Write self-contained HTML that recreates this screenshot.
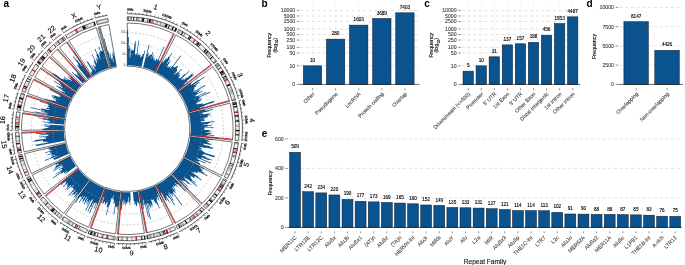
<!DOCTYPE html>
<html><head><meta charset="utf-8"><style>
html,body{margin:0;padding:0;background:#fff;}
svg{display:block;will-change:transform;}
text{font-family:"Liberation Sans",sans-serif;}
</style></head><body>
<svg width="685" height="265" viewBox="0 0 685 265">
<rect width="685" height="265" fill="#fff"/>
<g>
<path d="M127.30,65.30L127.30,29.65L128.13,29.65L128.07,36.96L128.84,36.97L128.64,48.84L129.31,48.85L129.38,45.76L130.08,45.78L129.69,57.33L130.29,57.35L130.67,48.34L131.34,48.37L131.23,50.64L131.88,50.67L131.92,49.93L132.58,49.98L132.57,50.14L133.23,50.19L133.22,50.28L133.88,50.33L134.45,43.50L135.17,43.57L135.40,41.00L136.14,41.07L134.83,54.08L135.45,54.15L135.42,54.47L136.04,54.54L136.18,53.32L136.81,53.40L138.44,40.45L139.18,40.55L137.26,54.81L137.88,54.89L137.91,54.68L138.53,54.77L138.78,53.13L139.41,53.23L139.15,54.87L139.77,54.97L139.80,54.76L140.42,54.87L140.01,57.21L140.61,57.32L140.89,55.81L141.50,55.93L141.32,56.82L141.92,56.93L142.53,53.97L143.15,54.10L143.18,53.95L143.81,54.09L144.63,50.36L145.29,50.51L141.54,66.82L142.06,66.94L142.06,66.94L142.58,67.06L142.58,67.06L143.09,67.19L148.82,44.86L149.52,45.05L147.24,53.65L147.87,53.82L148.23,52.49L148.87,52.67L147.74,56.64L148.34,56.81L148.76,55.38L149.38,55.56L149.51,55.12L150.13,55.31L150.41,54.41L151.03,54.60L151.02,54.62L151.64,54.82L152.55,52.06L153.19,52.27L151.38,57.64L151.97,57.84L153.12,54.55L153.74,54.77L153.22,56.20L153.83,56.42L153.12,58.36L153.71,58.58L153.49,59.16L154.07,59.38L154.48,58.32L155.07,58.55L154.43,60.17L155.00,60.40L154.84,60.80L155.41,61.03L156.38,58.70L156.96,58.94L156.88,59.12L157.47,59.37L157.20,59.98L157.78,60.24L163.97,46.29L164.66,46.60L158.70,59.72L159.28,59.99L158.86,60.88L159.43,61.15L159.96,60.02L160.53,60.30L159.23,62.99L159.78,63.26L155.50,71.90A63.5,63.5 0 0 0 127.30,65.30Z" fill="#0a538f"/>
<path d="M127.30,54.38A74.42051282051283,74.42051282051283 0 0 1 160.34,62.12" fill="none" stroke="#9a9a9a" stroke-width="0.5" stroke-dasharray="2,1.8"/>
<path d="M127.30,43.56A85.24102564102564,85.24102564102564 0 0 1 165.15,52.42" fill="none" stroke="#9a9a9a" stroke-width="0.5" stroke-dasharray="2,1.8"/>
<path d="M127.30,32.74A96.06153846153846,96.06153846153846 0 0 1 169.95,42.73" fill="none" stroke="#9a9a9a" stroke-width="0.5" stroke-dasharray="2,1.8"/>
<line x1="154.61" y1="72.47" x2="173.45" y2="33.60" stroke="#ee2a2e" stroke-width="1.0"/>
<path d="M127.30,23.00A105.8,105.8 0 0 1 174.28,34.00L155.10,72.71A62.6,62.6 0 0 0 127.30,66.20Z" fill="none" stroke="#1a1a1a" stroke-width="0.6"/>
<path d="M127.30,16.80A112.0,112.0 0 0 1 177.03,28.45L175.43,31.67A108.4,108.4 0 0 0 127.30,20.40Z" fill="#f4f4f4"/>
<path d="M127.30,16.80A112.0,112.0 0 0 1 127.90,16.80L127.88,20.40A108.4,108.4 0 0 0 127.30,20.40Z" fill="#b0b0b0"/>
<path d="M127.90,16.80A112.0,112.0 0 0 1 129.26,16.82L129.20,20.42A108.4,108.4 0 0 0 127.88,20.40Z" fill="#7f7f7f"/>
<path d="M129.26,16.82A112.0,112.0 0 0 1 130.48,16.85L130.37,20.44A108.4,108.4 0 0 0 129.20,20.42Z" fill="#d9d9d9"/>
<path d="M130.48,16.85A112.0,112.0 0 0 1 131.16,16.87L131.04,20.46A108.4,108.4 0 0 0 130.37,20.44Z" fill="#7f7f7f"/>
<path d="M131.16,16.87A112.0,112.0 0 0 1 131.99,16.90L131.84,20.49A108.4,108.4 0 0 0 131.04,20.46Z" fill="#7f7f7f"/>
<path d="M133.41,16.97A112.0,112.0 0 0 1 134.30,17.02L134.07,20.61A108.4,108.4 0 0 0 133.21,20.56Z" fill="#000000"/>
<path d="M136.12,17.15A112.0,112.0 0 0 1 137.48,17.26L137.15,20.85A108.4,108.4 0 0 0 135.84,20.74Z" fill="#7f7f7f"/>
<path d="M137.48,17.26A112.0,112.0 0 0 1 138.13,17.32L137.78,20.91A108.4,108.4 0 0 0 137.15,20.85Z" fill="#7f7f7f"/>
<path d="M138.13,17.32A112.0,112.0 0 0 1 139.55,17.47L139.16,21.05A108.4,108.4 0 0 0 137.78,20.91Z" fill="#b0b0b0"/>
<path d="M139.55,17.47A112.0,112.0 0 0 1 140.39,17.57L139.97,21.14A108.4,108.4 0 0 0 139.16,21.05Z" fill="#d9d9d9"/>
<path d="M141.02,17.64A112.0,112.0 0 0 1 142.43,17.83L141.95,21.39A108.4,108.4 0 0 0 140.58,21.22Z" fill="#b0b0b0"/>
<path d="M142.43,17.83A112.0,112.0 0 0 1 143.43,17.97L142.91,21.53A108.4,108.4 0 0 0 141.95,21.39Z" fill="#000000"/>
<path d="M143.43,17.97A112.0,112.0 0 0 1 144.34,18.10L143.79,21.66A108.4,108.4 0 0 0 142.91,21.53Z" fill="#000000"/>
<path d="M146.35,18.43A112.0,112.0 0 0 1 147.09,18.56L146.45,22.10A108.4,108.4 0 0 0 145.74,21.98Z" fill="#d9d9d9"/>
<path d="M147.09,18.56A112.0,112.0 0 0 1 147.83,18.70L147.17,22.24A108.4,108.4 0 0 0 146.45,22.10Z" fill="#d9d9d9"/>
<path d="M147.83,18.70A112.0,112.0 0 0 1 148.46,18.82L147.78,22.35A108.4,108.4 0 0 0 147.17,22.24Z" fill="#000000"/>
<path d="M148.46,18.82A112.0,112.0 0 0 1 149.29,18.98L148.58,22.51A108.4,108.4 0 0 0 147.78,22.35Z" fill="#d9d9d9"/>
<path d="M149.29,18.98A112.0,112.0 0 0 1 150.33,19.19L149.59,22.72A108.4,108.4 0 0 0 148.58,22.51Z" fill="#000000"/>
<path d="M150.33,19.19A112.0,112.0 0 0 1 151.22,19.38L150.45,22.90A108.4,108.4 0 0 0 149.59,22.72Z" fill="#000000"/>
<path d="M151.22,19.38A112.0,112.0 0 0 1 152.18,19.60L151.38,23.11A108.4,108.4 0 0 0 150.45,22.90Z" fill="#d9d9d9"/>
<path d="M154.06,20.04A112.0,112.0 0 0 1 154.57,20.17L153.69,23.66A108.4,108.4 0 0 0 153.20,23.54Z" fill="#7f7f7f"/>
<path d="M154.57,20.17A112.0,112.0 0 0 1 155.22,20.34L154.33,23.82A108.4,108.4 0 0 0 153.69,23.66Z" fill="#d9d9d9"/>
<path d="M155.22,20.34A112.0,112.0 0 0 1 156.38,20.64L155.44,24.12A108.4,108.4 0 0 0 154.33,23.82Z" fill="#d9d9d9"/>
<path d="M156.38,20.64A112.0,112.0 0 0 1 157.17,20.86L156.21,24.33A108.4,108.4 0 0 0 155.44,24.12Z" fill="#d9d9d9"/>
<path d="M157.17,20.86A112.0,112.0 0 0 1 158.17,21.14L157.17,24.60A108.4,108.4 0 0 0 156.21,24.33Z" fill="#7f7f7f"/>
<path d="M158.17,21.14A112.0,112.0 0 0 1 158.76,21.31L157.75,24.76A108.4,108.4 0 0 0 157.17,24.60Z" fill="#d9d9d9"/>
<path d="M159.48,21.52A112.0,112.0 0 0 1 160.66,21.88L159.59,25.32A108.4,108.4 0 0 0 158.44,24.97Z" fill="#d9d9d9"/>
<path d="M160.66,21.88A112.0,112.0 0 0 1 161.65,22.20L160.55,25.62A108.4,108.4 0 0 0 159.59,25.32Z" fill="#7f7f7f"/>
<path d="M161.65,22.20A112.0,112.0 0 0 1 162.95,22.62L161.80,26.04A108.4,108.4 0 0 0 160.55,25.62Z" fill="#d9d9d9"/>
<path d="M162.95,22.62A112.0,112.0 0 0 1 163.98,22.98L162.80,26.38A108.4,108.4 0 0 0 161.80,26.04Z" fill="#d9d9d9"/>
<path d="M163.98,22.98A112.0,112.0 0 0 1 164.92,23.31L163.71,26.70A108.4,108.4 0 0 0 162.80,26.38Z" fill="#b0b0b0"/>
<path d="M164.92,23.31A112.0,112.0 0 0 1 165.80,23.62L164.56,27.01A108.4,108.4 0 0 0 163.71,26.70Z" fill="#d9d9d9"/>
<path d="M165.80,23.62A112.0,112.0 0 0 1 166.70,23.96L165.44,27.33A108.4,108.4 0 0 0 164.56,27.01Z" fill="#000000"/>
<path d="M166.70,23.96A112.0,112.0 0 0 1 167.79,24.38L166.49,27.73A108.4,108.4 0 0 0 165.44,27.33Z" fill="#000000"/>
<path d="M169.09,24.89A112.0,112.0 0 0 1 170.05,25.28L168.68,28.61A108.4,108.4 0 0 0 167.75,28.23Z" fill="#000000"/>
<path d="M171.25,25.78A112.0,112.0 0 0 1 171.83,26.03L170.40,29.34A108.4,108.4 0 0 0 169.84,29.10Z" fill="#d9d9d9"/>
<path d="M172.37,26.27A112.0,112.0 0 0 1 172.90,26.50L171.44,29.79A108.4,108.4 0 0 0 170.92,29.56Z" fill="#b0b0b0"/>
<path d="M172.90,26.50A112.0,112.0 0 0 1 174.04,27.02L172.54,30.29A108.4,108.4 0 0 0 171.44,29.79Z" fill="#000000"/>
<path d="M174.04,27.02A112.0,112.0 0 0 1 174.64,27.30L173.12,30.56A108.4,108.4 0 0 0 172.54,30.29Z" fill="#b0b0b0"/>
<path d="M175.66,27.78A112.0,112.0 0 0 1 176.87,28.37L175.27,31.59A108.4,108.4 0 0 0 174.11,31.03Z" fill="#000000"/>
<path d="M176.87,28.37A112.0,112.0 0 0 1 177.03,28.45L175.43,31.67A108.4,108.4 0 0 0 175.27,31.59Z" fill="#000000"/>
<path d="M151.95,19.55A112.0,112.0 0 0 1 153.29,19.86L152.45,23.36A108.4,108.4 0 0 0 151.16,23.06Z" fill="#e8262b"/>
<path d="M127.30,16.80A112.0,112.0 0 0 1 177.03,28.45L175.43,31.67A108.4,108.4 0 0 0 127.30,20.40Z" fill="none" stroke="#000" stroke-width="0.55"/>
<path d="M127.30,13.60A115.2,115.2 0 0 1 178.45,25.58" fill="none" stroke="#000" stroke-width="0.6"/>
<line x1="127.30" y1="13.60" x2="127.30" y2="11.50" stroke="#000" stroke-width="0.5"/>
<text x="130.27" y="9.64" transform="rotate(1.4 130.27 9.64)" font-size="3.3" text-anchor="middle" dominant-baseline="central" fill="#000" stroke="#000" stroke-width="0.18">0Mb</text>
<line x1="131.20" y1="13.67" x2="131.24" y2="12.37" stroke="#000" stroke-width="0.5"/>
<line x1="135.10" y1="13.86" x2="135.18" y2="12.57" stroke="#000" stroke-width="0.5"/>
<line x1="138.98" y1="14.19" x2="139.11" y2="12.90" stroke="#000" stroke-width="0.5"/>
<line x1="142.85" y1="14.65" x2="143.03" y2="13.37" stroke="#000" stroke-width="0.5"/>
<line x1="146.71" y1="15.25" x2="147.06" y2="13.18" stroke="#000" stroke-width="0.5"/>
<text x="147.38" y="11.30" transform="rotate(9.7 147.38 11.30)" font-size="3.3" text-anchor="middle" dominant-baseline="central" fill="#000" stroke="#000" stroke-width="0.18">50Mb</text>
<line x1="150.54" y1="15.97" x2="150.81" y2="14.70" stroke="#000" stroke-width="0.5"/>
<line x1="154.35" y1="16.82" x2="154.65" y2="15.56" stroke="#000" stroke-width="0.5"/>
<line x1="158.12" y1="17.80" x2="158.47" y2="16.55" stroke="#000" stroke-width="0.5"/>
<line x1="161.86" y1="18.91" x2="162.25" y2="17.67" stroke="#000" stroke-width="0.5"/>
<line x1="165.56" y1="20.14" x2="166.26" y2="18.16" stroke="#000" stroke-width="0.5"/>
<text x="166.89" y="16.37" transform="rotate(19.4 166.89 16.37)" font-size="3.3" text-anchor="middle" dominant-baseline="central" fill="#000" stroke="#000" stroke-width="0.18">100Mb</text>
<line x1="169.22" y1="21.50" x2="169.69" y2="20.29" stroke="#000" stroke-width="0.5"/>
<line x1="172.83" y1="22.98" x2="173.34" y2="21.78" stroke="#000" stroke-width="0.5"/>
<line x1="176.39" y1="24.58" x2="176.94" y2="23.40" stroke="#000" stroke-width="0.5"/>
<text x="155.71" y="7.48" transform="rotate(13.2 155.71 7.48)" font-size="7.1" text-anchor="middle" dominant-baseline="central" fill="#000" stroke="#000" stroke-width="0.12">1</text>
<path d="M156.48,72.40L161.59,62.54L162.14,62.82L162.66,61.83L163.21,62.13L164.29,60.14L164.85,60.45L166.20,58.00L166.78,58.33L166.34,59.11L166.92,59.44L168.60,56.50L169.20,56.84L171.44,52.98L172.07,53.35L169.27,58.08L169.85,58.43L166.62,63.78L167.15,64.11L168.57,61.81L169.12,62.15L170.34,60.22L170.91,60.58L167.24,66.30L167.76,66.64L167.45,67.11L167.96,67.44L168.42,66.75L168.94,67.09L169.17,66.75L169.68,67.10L170.50,65.91L171.02,66.27L169.76,68.08L170.26,68.43L172.06,65.89L172.58,66.27L180.40,55.47L181.01,55.91L172.68,67.21L173.19,67.58L173.71,66.89L174.23,67.28L174.52,66.89L175.04,67.28L175.50,66.67L176.02,67.08L177.11,65.69L177.63,66.11L177.66,66.07L178.18,66.49L176.46,68.60L176.95,69.01L176.78,69.22L177.27,69.63L176.77,70.22L177.25,70.64L173.83,74.62L174.28,75.01L176.05,72.98L176.51,73.39L177.91,71.81L178.38,72.23L181.44,68.85L181.93,69.30L178.47,73.06L178.93,73.49L179.41,72.98L179.87,73.41L178.00,75.38L178.44,75.81L179.90,74.29L180.35,74.73L179.54,75.56L179.98,75.99L178.26,77.72L178.68,78.15L179.03,77.80L179.45,78.23L179.71,77.98L180.13,78.42L184.73,74.03L185.18,74.50L188.83,71.08L189.30,71.60L181.79,78.53L182.21,78.98L181.27,79.83L181.67,80.28L183.67,78.49L184.09,78.96L183.50,79.48L183.90,79.95L186.71,77.53L187.13,78.02L192.64,73.35L193.10,73.89L191.83,74.95L192.28,75.49L193.18,74.75L193.62,75.29L187.01,80.63L187.40,81.13L184.19,83.68L184.56,84.15L183.07,85.32L183.42,85.78L187.08,82.98L187.46,83.48L178.02,90.59A63.5,63.5 0 0 0 156.48,72.40Z" fill="#0a538f"/>
<path d="M161.50,62.70A74.42051282051283,74.42051282051283 0 0 1 186.74,84.02" fill="none" stroke="#9a9a9a" stroke-width="0.5" stroke-dasharray="2,1.8"/>
<path d="M166.48,53.09A85.24102564102564,85.24102564102564 0 0 1 195.38,77.51" fill="none" stroke="#9a9a9a" stroke-width="0.5" stroke-dasharray="2,1.8"/>
<path d="M171.45,43.48A96.06153846153846,96.06153846153846 0 0 1 204.02,71.00" fill="none" stroke="#9a9a9a" stroke-width="0.5" stroke-dasharray="2,1.8"/>
<line x1="176.97" y1="90.70" x2="211.24" y2="64.40" stroke="#ee2a2e" stroke-width="1.0"/>
<path d="M175.93,34.84A105.8,105.8 0 0 1 211.80,65.14L177.30,91.13A62.6,62.6 0 0 0 156.07,73.20Z" fill="none" stroke="#1a1a1a" stroke-width="0.6"/>
<path d="M178.77,29.33A112.0,112.0 0 0 1 216.75,61.40L213.88,63.57A108.4,108.4 0 0 0 177.12,32.53Z" fill="#f4f4f4"/>
<path d="M179.24,29.57A112.0,112.0 0 0 1 179.92,29.93L178.23,33.11A108.4,108.4 0 0 0 177.57,32.76Z" fill="#b0b0b0"/>
<path d="M179.92,29.93A112.0,112.0 0 0 1 180.95,30.48L179.22,33.64A108.4,108.4 0 0 0 178.23,33.11Z" fill="#b0b0b0"/>
<path d="M180.95,30.48A112.0,112.0 0 0 1 181.64,30.86L179.89,34.01A108.4,108.4 0 0 0 179.22,33.64Z" fill="#d9d9d9"/>
<path d="M181.64,30.86A112.0,112.0 0 0 1 182.47,31.33L180.69,34.46A108.4,108.4 0 0 0 179.89,34.01Z" fill="#d9d9d9"/>
<path d="M182.47,31.33A112.0,112.0 0 0 1 183.01,31.64L181.22,34.76A108.4,108.4 0 0 0 180.69,34.46Z" fill="#000000"/>
<path d="M183.01,31.64A112.0,112.0 0 0 1 183.62,31.99L181.81,35.10A108.4,108.4 0 0 0 181.22,34.76Z" fill="#000000"/>
<path d="M184.82,32.70A112.0,112.0 0 0 1 185.63,33.19L183.75,36.26A108.4,108.4 0 0 0 182.97,35.79Z" fill="#7f7f7f"/>
<path d="M185.63,33.19A112.0,112.0 0 0 1 186.83,33.93L184.92,36.98A108.4,108.4 0 0 0 183.75,36.26Z" fill="#d9d9d9"/>
<path d="M189.54,35.69A112.0,112.0 0 0 1 190.37,36.25L188.34,39.22A108.4,108.4 0 0 0 187.54,38.68Z" fill="#000000"/>
<path d="M190.37,36.25A112.0,112.0 0 0 1 190.90,36.61L188.86,39.57A108.4,108.4 0 0 0 188.34,39.22Z" fill="#7f7f7f"/>
<path d="M190.90,36.61A112.0,112.0 0 0 1 191.71,37.18L189.64,40.12A108.4,108.4 0 0 0 188.86,39.57Z" fill="#000000"/>
<path d="M192.67,37.86A112.0,112.0 0 0 1 193.76,38.65L191.63,41.55A108.4,108.4 0 0 0 190.57,40.78Z" fill="#d9d9d9"/>
<path d="M194.20,38.97A112.0,112.0 0 0 1 194.98,39.56L192.80,42.43A108.4,108.4 0 0 0 192.05,41.86Z" fill="#d9d9d9"/>
<path d="M197.29,41.37A112.0,112.0 0 0 1 198.24,42.13L195.96,44.92A108.4,108.4 0 0 0 195.04,44.18Z" fill="#7f7f7f"/>
<path d="M198.24,42.13A112.0,112.0 0 0 1 198.73,42.53L196.43,45.30A108.4,108.4 0 0 0 195.96,44.92Z" fill="#000000"/>
<path d="M198.73,42.53A112.0,112.0 0 0 1 199.63,43.29L197.31,46.04A108.4,108.4 0 0 0 196.43,45.30Z" fill="#000000"/>
<path d="M200.23,43.80A112.0,112.0 0 0 1 200.90,44.38L198.53,47.09A108.4,108.4 0 0 0 197.89,46.53Z" fill="#000000"/>
<path d="M204.76,47.90A112.0,112.0 0 0 1 205.31,48.44L202.80,51.02A108.4,108.4 0 0 0 202.27,50.50Z" fill="#d9d9d9"/>
<path d="M205.81,48.92A112.0,112.0 0 0 1 206.80,49.91L204.25,52.45A108.4,108.4 0 0 0 203.28,51.49Z" fill="#000000"/>
<path d="M206.80,49.91A112.0,112.0 0 0 1 207.70,50.82L205.11,53.33A108.4,108.4 0 0 0 204.25,52.45Z" fill="#b0b0b0"/>
<path d="M207.70,50.82A112.0,112.0 0 0 1 208.64,51.81L206.03,54.29A108.4,108.4 0 0 0 205.11,53.33Z" fill="#000000"/>
<path d="M208.64,51.81A112.0,112.0 0 0 1 209.35,52.56L206.71,55.01A108.4,108.4 0 0 0 206.03,54.29Z" fill="#b0b0b0"/>
<path d="M209.35,52.56A112.0,112.0 0 0 1 209.73,52.98L207.08,55.41A108.4,108.4 0 0 0 206.71,55.01Z" fill="#b0b0b0"/>
<path d="M209.73,52.98A112.0,112.0 0 0 1 210.36,53.67L207.69,56.08A108.4,108.4 0 0 0 207.08,55.41Z" fill="#7f7f7f"/>
<path d="M211.11,54.50A112.0,112.0 0 0 1 211.48,54.92L208.77,57.30A108.4,108.4 0 0 0 208.41,56.89Z" fill="#000000"/>
<path d="M211.48,54.92A112.0,112.0 0 0 1 211.90,55.40L209.18,57.76A108.4,108.4 0 0 0 208.77,57.30Z" fill="#d9d9d9"/>
<path d="M212.44,56.04A112.0,112.0 0 0 1 213.22,56.96L210.46,59.27A108.4,108.4 0 0 0 209.71,58.38Z" fill="#000000"/>
<path d="M213.22,56.96A112.0,112.0 0 0 1 213.71,57.54L210.93,59.83A108.4,108.4 0 0 0 210.46,59.27Z" fill="#b0b0b0"/>
<path d="M213.71,57.54A112.0,112.0 0 0 1 214.21,58.16L211.42,60.43A108.4,108.4 0 0 0 210.93,59.83Z" fill="#d9d9d9"/>
<path d="M215.18,59.37A112.0,112.0 0 0 1 216.02,60.44L213.17,62.64A108.4,108.4 0 0 0 212.36,61.60Z" fill="#d9d9d9"/>
<path d="M216.02,60.44A112.0,112.0 0 0 1 216.46,61.02L213.59,63.20A108.4,108.4 0 0 0 213.17,62.64Z" fill="#000000"/>
<path d="M216.46,61.02A112.0,112.0 0 0 1 216.75,61.40L213.88,63.57A108.4,108.4 0 0 0 213.59,63.20Z" fill="#d9d9d9"/>
<path d="M194.63,39.30A112.0,112.0 0 0 1 195.72,40.13L193.52,42.98A108.4,108.4 0 0 0 192.47,42.17Z" fill="#e8262b"/>
<path d="M178.77,29.33A112.0,112.0 0 0 1 216.75,61.40L213.88,63.57A108.4,108.4 0 0 0 177.12,32.53Z" fill="none" stroke="#000" stroke-width="0.55"/>
<path d="M180.25,26.49A115.2,115.2 0 0 1 219.31,59.48" fill="none" stroke="#000" stroke-width="0.6"/>
<line x1="180.25" y1="26.49" x2="181.21" y2="24.62" stroke="#000" stroke-width="0.5"/>
<text x="184.70" y="24.33" transform="rotate(28.8 184.70 24.33)" font-size="3.3" text-anchor="middle" dominant-baseline="central" fill="#000" stroke="#000" stroke-width="0.18">0Mb</text>
<line x1="183.68" y1="28.34" x2="184.31" y2="27.20" stroke="#000" stroke-width="0.5"/>
<line x1="187.05" y1="30.30" x2="187.72" y2="29.19" stroke="#000" stroke-width="0.5"/>
<line x1="190.35" y1="32.38" x2="191.06" y2="31.30" stroke="#000" stroke-width="0.5"/>
<line x1="193.58" y1="34.57" x2="194.32" y2="33.51" stroke="#000" stroke-width="0.5"/>
<line x1="196.73" y1="36.87" x2="197.99" y2="35.20" stroke="#000" stroke-width="0.5"/>
<text x="199.14" y="33.68" transform="rotate(37.1 199.14 33.68)" font-size="3.3" text-anchor="middle" dominant-baseline="central" fill="#000" stroke="#000" stroke-width="0.18">50Mb</text>
<line x1="199.80" y1="39.27" x2="200.62" y2="38.26" stroke="#000" stroke-width="0.5"/>
<line x1="202.79" y1="41.78" x2="203.64" y2="40.80" stroke="#000" stroke-width="0.5"/>
<line x1="205.69" y1="44.38" x2="206.58" y2="43.43" stroke="#000" stroke-width="0.5"/>
<line x1="208.50" y1="47.09" x2="209.42" y2="46.16" stroke="#000" stroke-width="0.5"/>
<line x1="211.22" y1="49.88" x2="212.75" y2="48.44" stroke="#000" stroke-width="0.5"/>
<text x="214.14" y="47.14" transform="rotate(46.8 214.14 47.14)" font-size="3.3" text-anchor="middle" dominant-baseline="central" fill="#000" stroke="#000" stroke-width="0.18">100Mb</text>
<line x1="213.85" y1="52.77" x2="214.82" y2="51.91" stroke="#000" stroke-width="0.5"/>
<line x1="216.37" y1="55.74" x2="217.38" y2="54.92" stroke="#000" stroke-width="0.5"/>
<line x1="218.79" y1="58.80" x2="219.83" y2="58.01" stroke="#000" stroke-width="0.5"/>
<text x="207.70" y="33.61" transform="rotate(40.2 207.70 33.61)" font-size="7.1" text-anchor="middle" dominant-baseline="central" fill="#000" stroke="#000" stroke-width="0.12">2</text>
<path d="M178.68,91.48L191.50,82.17L191.89,82.70L190.81,83.47L191.19,84.00L190.42,84.54L190.78,85.07L198.53,79.73L198.93,80.33L204.31,76.69L204.74,77.33L193.52,84.79L193.88,85.34L198.82,82.12L199.20,82.72L195.39,85.16L195.76,85.73L196.53,85.24L196.89,85.82L193.90,87.66L194.24,88.22L194.18,88.26L194.51,88.82L193.55,89.39L193.87,89.95L194.35,89.67L194.68,90.23L192.90,91.24L193.21,91.79L205.24,85.04L205.60,85.69L194.77,91.65L195.07,92.22L200.26,89.41L200.59,90.02L198.64,91.06L198.95,91.65L197.18,92.57L197.48,93.15L202.18,90.77L202.49,91.39L196.67,94.29L196.96,94.86L194.93,95.85L195.20,96.42L196.49,95.80L196.77,96.38L205.94,92.10L206.25,92.75L198.97,96.07L199.24,96.67L210.12,91.82L210.42,92.51L199.61,97.23L199.87,97.83L198.86,98.26L199.11,98.86L201.45,97.88L201.70,98.50L198.12,99.96L198.36,100.55L201.91,99.14L202.16,99.76L200.68,100.33L200.92,100.95L197.17,102.37L197.38,102.95L196.12,103.42L196.33,103.99L196.63,103.88L196.84,104.46L199.28,103.60L199.49,104.20L202.65,103.13L202.86,103.75L202.58,103.85L202.79,104.47L214.40,100.73L214.63,101.46L213.59,101.78L213.81,102.50L204.70,105.27L204.89,105.92L200.04,107.35L200.22,107.96L203.94,106.89L204.12,107.53L202.29,108.04L202.46,108.66L188.64,112.37A63.5,63.5 0 0 0 178.68,91.48Z" fill="#0a538f"/>
<path d="M187.51,85.06A74.42051282051283,74.42051282051283 0 0 1 199.19,109.54" fill="none" stroke="#9a9a9a" stroke-width="0.5" stroke-dasharray="2,1.8"/>
<path d="M196.27,78.70A85.24102564102564,85.24102564102564 0 0 1 209.64,106.74" fill="none" stroke="#9a9a9a" stroke-width="0.5" stroke-dasharray="2,1.8"/>
<path d="M205.02,72.34A96.06153846153846,96.06153846153846 0 0 1 220.09,103.94" fill="none" stroke="#9a9a9a" stroke-width="0.5" stroke-dasharray="2,1.8"/>
<line x1="187.62" y1="112.07" x2="229.25" y2="100.53" stroke="#ee2a2e" stroke-width="1.0"/>
<path d="M212.90,66.62A105.8,105.8 0 0 1 229.50,101.42L187.77,112.60A62.6,62.6 0 0 0 177.95,92.01Z" fill="none" stroke="#1a1a1a" stroke-width="0.6"/>
<path d="M217.92,62.98A112.0,112.0 0 0 1 235.48,99.82L232.01,100.75A108.4,108.4 0 0 0 215.00,65.09Z" fill="#f4f4f4"/>
<path d="M217.92,62.98A112.0,112.0 0 0 1 218.24,63.42L215.31,65.52A108.4,108.4 0 0 0 215.00,65.09Z" fill="#d9d9d9"/>
<path d="M218.24,63.42A112.0,112.0 0 0 1 218.97,64.46L216.03,66.52A108.4,108.4 0 0 0 215.31,65.52Z" fill="#7f7f7f"/>
<path d="M219.29,64.91A112.0,112.0 0 0 1 219.62,65.39L216.65,67.42A108.4,108.4 0 0 0 216.33,66.97Z" fill="#000000"/>
<path d="M219.62,65.39A112.0,112.0 0 0 1 220.04,66.01L217.06,68.03A108.4,108.4 0 0 0 216.65,67.42Z" fill="#b0b0b0"/>
<path d="M220.80,67.14A112.0,112.0 0 0 1 221.22,67.78L218.20,69.74A108.4,108.4 0 0 0 217.79,69.12Z" fill="#000000"/>
<path d="M222.85,70.36A112.0,112.0 0 0 1 223.48,71.41L220.39,73.25A108.4,108.4 0 0 0 219.78,72.24Z" fill="#000000"/>
<path d="M223.48,71.41A112.0,112.0 0 0 1 224.04,72.36L220.93,74.18A108.4,108.4 0 0 0 220.39,73.25Z" fill="#000000"/>
<path d="M224.31,72.83A112.0,112.0 0 0 1 224.79,73.66L221.65,75.44A108.4,108.4 0 0 0 221.19,74.63Z" fill="#000000"/>
<path d="M225.47,74.89A112.0,112.0 0 0 1 225.83,75.55L222.66,77.26A108.4,108.4 0 0 0 222.32,76.62Z" fill="#d9d9d9"/>
<path d="M225.83,75.55A112.0,112.0 0 0 1 226.29,76.41L223.11,78.10A108.4,108.4 0 0 0 222.66,77.26Z" fill="#000000"/>
<path d="M226.29,76.41A112.0,112.0 0 0 1 226.61,77.02L223.42,78.69A108.4,108.4 0 0 0 223.11,78.10Z" fill="#7f7f7f"/>
<path d="M226.61,77.02A112.0,112.0 0 0 1 227.16,78.09L223.95,79.72A108.4,108.4 0 0 0 223.42,78.69Z" fill="#7f7f7f"/>
<path d="M227.16,78.09A112.0,112.0 0 0 1 227.72,79.20L224.49,80.79A108.4,108.4 0 0 0 223.95,79.72Z" fill="#b0b0b0"/>
<path d="M228.08,79.94A112.0,112.0 0 0 1 228.45,80.71L225.20,82.25A108.4,108.4 0 0 0 224.84,81.51Z" fill="#7f7f7f"/>
<path d="M229.87,83.82A112.0,112.0 0 0 1 230.44,85.13L227.12,86.54A108.4,108.4 0 0 0 226.57,85.26Z" fill="#000000"/>
<path d="M231.21,87.01A112.0,112.0 0 0 1 231.57,87.92L228.22,89.24A108.4,108.4 0 0 0 227.87,88.36Z" fill="#b0b0b0"/>
<path d="M231.91,88.80A112.0,112.0 0 0 1 232.23,89.64L228.86,90.90A108.4,108.4 0 0 0 228.55,90.08Z" fill="#b0b0b0"/>
<path d="M232.23,89.64A112.0,112.0 0 0 1 232.63,90.72L229.24,91.94A108.4,108.4 0 0 0 228.86,90.90Z" fill="#b0b0b0"/>
<path d="M232.63,90.72A112.0,112.0 0 0 1 233.06,91.95L229.66,93.13A108.4,108.4 0 0 0 229.24,91.94Z" fill="#b0b0b0"/>
<path d="M233.06,91.95A112.0,112.0 0 0 1 233.27,92.54L229.86,93.71A108.4,108.4 0 0 0 229.66,93.13Z" fill="#7f7f7f"/>
<path d="M233.27,92.54A112.0,112.0 0 0 1 233.52,93.29L230.11,94.44A108.4,108.4 0 0 0 229.86,93.71Z" fill="#d9d9d9"/>
<path d="M233.52,93.29A112.0,112.0 0 0 1 233.79,94.12L230.37,95.23A108.4,108.4 0 0 0 230.11,94.44Z" fill="#b0b0b0"/>
<path d="M234.23,95.50A112.0,112.0 0 0 1 234.62,96.78L231.18,97.81A108.4,108.4 0 0 0 230.80,96.57Z" fill="#d9d9d9"/>
<path d="M234.86,97.57A112.0,112.0 0 0 1 235.25,98.95L231.78,99.91A108.4,108.4 0 0 0 231.40,98.57Z" fill="#d9d9d9"/>
<path d="M235.25,98.95A112.0,112.0 0 0 1 235.44,99.66L231.97,100.60A108.4,108.4 0 0 0 231.78,99.91Z" fill="#7f7f7f"/>
<path d="M235.44,99.66A112.0,112.0 0 0 1 235.48,99.82L232.01,100.75A108.4,108.4 0 0 0 231.97,100.60Z" fill="#000000"/>
<path d="M227.34,78.44A112.0,112.0 0 0 1 227.95,79.67L224.71,81.25A108.4,108.4 0 0 0 224.12,80.06Z" fill="#e8262b"/>
<path d="M217.92,62.98A112.0,112.0 0 0 1 235.48,99.82L232.01,100.75A108.4,108.4 0 0 0 215.00,65.09Z" fill="none" stroke="#000" stroke-width="0.55"/>
<path d="M220.50,61.10A115.2,115.2 0 0 1 238.58,98.99" fill="none" stroke="#000" stroke-width="0.6"/>
<line x1="220.50" y1="61.10" x2="222.20" y2="59.86" stroke="#000" stroke-width="0.5"/>
<text x="225.46" y="61.17" transform="rotate(55.4 225.46 61.17)" font-size="3.3" text-anchor="middle" dominant-baseline="central" fill="#000" stroke="#000" stroke-width="0.18">0Mb</text>
<line x1="222.74" y1="64.29" x2="223.82" y2="63.56" stroke="#000" stroke-width="0.5"/>
<line x1="224.87" y1="67.56" x2="225.97" y2="66.87" stroke="#000" stroke-width="0.5"/>
<line x1="226.89" y1="70.90" x2="228.01" y2="70.24" stroke="#000" stroke-width="0.5"/>
<line x1="228.79" y1="74.30" x2="229.94" y2="73.69" stroke="#000" stroke-width="0.5"/>
<line x1="230.58" y1="77.77" x2="232.46" y2="76.84" stroke="#000" stroke-width="0.5"/>
<text x="234.17" y="76.00" transform="rotate(63.7 234.17 76.00)" font-size="3.3" text-anchor="middle" dominant-baseline="central" fill="#000" stroke="#000" stroke-width="0.18">50Mb</text>
<line x1="232.25" y1="81.29" x2="233.43" y2="80.76" stroke="#000" stroke-width="0.5"/>
<line x1="233.80" y1="84.87" x2="235.00" y2="84.38" stroke="#000" stroke-width="0.5"/>
<line x1="235.22" y1="88.50" x2="236.44" y2="88.05" stroke="#000" stroke-width="0.5"/>
<line x1="236.52" y1="92.18" x2="237.76" y2="91.77" stroke="#000" stroke-width="0.5"/>
<line x1="237.70" y1="95.90" x2="239.71" y2="95.30" stroke="#000" stroke-width="0.5"/>
<text x="241.06" y="93.20" transform="rotate(72.6 241.06 93.20)" font-size="3.3" text-anchor="middle" dominant-baseline="central" fill="#000" stroke="#000" stroke-width="0.18">100Mb</text>
<text x="239.77" y="75.17" transform="rotate(64.5 239.77 75.17)" font-size="7.1" text-anchor="middle" dominant-baseline="central" fill="#000" stroke="#000" stroke-width="0.12">3</text>
<path d="M188.91,113.44L203.95,109.69L204.11,110.33L205.32,110.04L205.48,110.69L212.99,108.96L213.15,109.67L208.88,110.63L209.03,111.31L201.10,113.00L201.23,113.62L202.93,113.28L203.05,113.91L203.02,113.92L203.14,114.55L209.85,113.29L209.97,113.98L208.33,114.28L208.44,114.96L210.50,114.60L210.62,115.30L207.35,115.83L207.45,116.50L207.70,116.46L207.80,117.14L202.31,117.93L202.40,118.56L205.21,118.18L205.29,118.83L204.08,118.98L204.16,119.63L203.87,119.66L203.95,120.30L205.07,120.18L205.14,120.83L200.76,121.28L200.82,121.89L203.41,121.65L203.47,122.29L214.41,121.35L214.47,122.08L210.10,122.42L210.15,123.11L208.32,123.24L208.37,123.91L202.96,124.24L203.00,124.87L207.76,124.63L207.79,125.30L211.84,125.12L211.87,125.83L207.35,125.99L207.37,126.66L204.25,126.74L204.27,127.39L213.61,127.22L213.62,127.94L204.64,128.03L204.65,128.68L203.25,128.68L203.25,129.31L204.48,129.32L204.47,129.97L209.48,130.04L209.46,130.73L211.30,130.77L211.28,131.48L208.61,131.39L208.59,132.07L205.78,131.96L205.75,132.62L210.81,132.86L210.77,133.56L211.69,133.61L211.65,134.32L208.30,134.10L208.26,134.78L214.38,135.23L214.33,135.96L206.58,135.32L206.53,135.99L204.59,135.81L204.53,136.46L218.41,137.83L218.33,138.60L190.44,135.59A63.5,63.5 0 0 0 188.91,113.44Z" fill="#0a538f"/>
<path d="M199.51,110.80A74.42051282051283,74.42051282051283 0 0 1 201.29,136.76" fill="none" stroke="#9a9a9a" stroke-width="0.5" stroke-dasharray="2,1.8"/>
<path d="M210.01,108.18A85.24102564102564,85.24102564102564 0 0 1 212.05,137.92" fill="none" stroke="#9a9a9a" stroke-width="0.5" stroke-dasharray="2,1.8"/>
<path d="M220.51,105.56A96.06153846153846,96.06153846153846 0 0 1 222.81,139.08" fill="none" stroke="#9a9a9a" stroke-width="0.5" stroke-dasharray="2,1.8"/>
<line x1="189.60" y1="134.95" x2="232.59" y2="139.20" stroke="#ee2a2e" stroke-width="1.0"/>
<path d="M229.96,103.21A105.8,105.8 0 0 1 232.49,140.12L189.54,135.50A62.6,62.6 0 0 0 188.04,113.66Z" fill="none" stroke="#1a1a1a" stroke-width="0.6"/>
<path d="M235.97,101.71A112.0,112.0 0 0 1 238.66,140.78L235.08,140.40A108.4,108.4 0 0 0 232.48,102.58Z" fill="#f4f4f4"/>
<path d="M235.97,101.71A112.0,112.0 0 0 1 236.26,102.87L232.76,103.71A108.4,108.4 0 0 0 232.48,102.58Z" fill="#7f7f7f"/>
<path d="M236.26,102.87A112.0,112.0 0 0 1 236.42,103.55L232.91,104.36A108.4,108.4 0 0 0 232.76,103.71Z" fill="#000000"/>
<path d="M236.42,103.55A112.0,112.0 0 0 1 236.63,104.50L233.12,105.29A108.4,108.4 0 0 0 232.91,104.36Z" fill="#000000"/>
<path d="M236.92,105.84A112.0,112.0 0 0 1 237.17,107.07L233.64,107.77A108.4,108.4 0 0 0 233.40,106.58Z" fill="#000000"/>
<path d="M237.95,111.43A112.0,112.0 0 0 1 238.09,112.41L234.53,112.93A108.4,108.4 0 0 0 234.39,111.99Z" fill="#000000"/>
<path d="M238.40,114.64A112.0,112.0 0 0 1 238.48,115.30L234.91,115.73A108.4,108.4 0 0 0 234.83,115.09Z" fill="#000000"/>
<path d="M238.48,115.30A112.0,112.0 0 0 1 238.62,116.44L235.04,116.84A108.4,108.4 0 0 0 234.91,115.73Z" fill="#000000"/>
<path d="M238.62,116.44A112.0,112.0 0 0 1 238.69,117.11L235.11,117.49A108.4,108.4 0 0 0 235.04,116.84Z" fill="#7f7f7f"/>
<path d="M238.69,117.11A112.0,112.0 0 0 1 238.75,117.73L235.17,118.09A108.4,108.4 0 0 0 235.11,117.49Z" fill="#d9d9d9"/>
<path d="M238.86,118.84A112.0,112.0 0 0 1 238.97,120.17L235.38,120.44A108.4,108.4 0 0 0 235.27,119.16Z" fill="#d9d9d9"/>
<path d="M238.97,120.17A112.0,112.0 0 0 1 239.04,121.22L235.45,121.46A108.4,108.4 0 0 0 235.38,120.44Z" fill="#000000"/>
<path d="M239.04,121.22A112.0,112.0 0 0 1 239.08,121.83L235.49,122.06A108.4,108.4 0 0 0 235.45,121.46Z" fill="#000000"/>
<path d="M239.21,124.20A112.0,112.0 0 0 1 239.26,125.63L235.66,125.74A108.4,108.4 0 0 0 235.61,124.34Z" fill="#d9d9d9"/>
<path d="M239.26,125.63A112.0,112.0 0 0 1 239.28,126.49L235.68,126.56A108.4,108.4 0 0 0 235.66,125.74Z" fill="#7f7f7f"/>
<path d="M239.29,129.91A112.0,112.0 0 0 1 239.28,131.02L235.68,130.95A108.4,108.4 0 0 0 235.69,129.87Z" fill="#000000"/>
<path d="M239.28,131.02A112.0,112.0 0 0 1 239.25,132.08L235.65,131.98A108.4,108.4 0 0 0 235.68,130.95Z" fill="#b0b0b0"/>
<path d="M239.20,133.44A112.0,112.0 0 0 1 239.15,134.53L235.56,134.35A108.4,108.4 0 0 0 235.61,133.29Z" fill="#d9d9d9"/>
<path d="M239.15,134.53A112.0,112.0 0 0 1 239.10,135.52L235.50,135.31A108.4,108.4 0 0 0 235.56,134.35Z" fill="#000000"/>
<path d="M238.89,138.42A112.0,112.0 0 0 1 238.82,139.14L235.24,138.81A108.4,108.4 0 0 0 235.30,138.11Z" fill="#d9d9d9"/>
<path d="M238.72,140.20A112.0,112.0 0 0 1 238.66,140.78L235.08,140.40A108.4,108.4 0 0 0 235.14,139.84Z" fill="#d9d9d9"/>
<path d="M237.90,111.18A112.0,112.0 0 0 1 238.11,112.53L234.55,113.05A108.4,108.4 0 0 0 234.35,111.74Z" fill="#e8262b"/>
<path d="M235.97,101.71A112.0,112.0 0 0 1 238.66,140.78L235.08,140.40A108.4,108.4 0 0 0 232.48,102.58Z" fill="none" stroke="#000" stroke-width="0.55"/>
<path d="M239.08,100.93A115.2,115.2 0 0 1 241.84,141.13" fill="none" stroke="#000" stroke-width="0.6"/>
<line x1="239.08" y1="100.93" x2="241.12" y2="100.43" stroke="#000" stroke-width="0.5"/>
<text x="243.64" y="102.86" transform="rotate(77.4 243.64 102.86)" font-size="3.3" text-anchor="middle" dominant-baseline="central" fill="#000" stroke="#000" stroke-width="0.18">0Mb</text>
<line x1="239.96" y1="104.73" x2="241.23" y2="104.46" stroke="#000" stroke-width="0.5"/>
<line x1="240.71" y1="108.56" x2="241.99" y2="108.33" stroke="#000" stroke-width="0.5"/>
<line x1="241.33" y1="112.41" x2="242.62" y2="112.23" stroke="#000" stroke-width="0.5"/>
<line x1="241.82" y1="116.28" x2="243.11" y2="116.14" stroke="#000" stroke-width="0.5"/>
<line x1="242.18" y1="120.17" x2="244.27" y2="120.01" stroke="#000" stroke-width="0.5"/>
<text x="246.16" y="119.87" transform="rotate(85.7 246.16 119.87)" font-size="3.3" text-anchor="middle" dominant-baseline="central" fill="#000" stroke="#000" stroke-width="0.18">50Mb</text>
<line x1="242.40" y1="124.06" x2="243.70" y2="124.01" stroke="#000" stroke-width="0.5"/>
<line x1="242.50" y1="127.96" x2="243.80" y2="127.95" stroke="#000" stroke-width="0.5"/>
<line x1="242.46" y1="131.86" x2="243.76" y2="131.89" stroke="#000" stroke-width="0.5"/>
<line x1="242.29" y1="135.76" x2="243.59" y2="135.83" stroke="#000" stroke-width="0.5"/>
<line x1="241.99" y1="139.64" x2="244.08" y2="139.84" stroke="#000" stroke-width="0.5"/>
<text x="246.24" y="136.62" transform="rotate(-86.2 246.24 136.62)" font-size="3.3" text-anchor="middle" dominant-baseline="central" fill="#000" stroke="#000" stroke-width="0.18">100Mb</text>
<text x="251.61" y="120.26" transform="rotate(86.1 251.61 120.26)" font-size="7.1" text-anchor="middle" dominant-baseline="central" fill="#000" stroke="#000" stroke-width="0.12">4</text>
<path d="M190.31,136.69L212.36,139.46L212.26,140.17L204.64,139.15L204.55,139.80L208.60,140.38L208.50,141.06L209.37,141.19L209.26,141.88L207.10,141.53L206.99,142.20L208.15,142.39L208.03,143.07L210.02,143.42L209.89,144.12L211.36,144.39L211.23,145.09L202.99,143.49L202.87,144.13L204.06,144.37L203.92,145.01L210.01,146.30L209.86,147.00L213.53,147.80L213.37,148.53L212.13,148.24L211.97,148.95L205.52,147.42L205.36,148.07L199.64,146.66L199.49,147.27L201.27,147.72L201.11,148.34L201.60,148.47L201.43,149.10L201.67,149.16L201.50,149.78L199.46,149.21L199.28,149.81L202.92,150.87L202.73,151.51L204.93,152.17L204.73,152.82L215.20,156.07L214.97,156.80L214.13,156.53L213.89,157.26L203.64,153.89L203.42,154.53L203.26,154.47L203.04,155.11L202.24,154.83L202.02,155.46L206.12,156.92L205.89,157.58L211.97,159.81L211.71,160.52L209.12,159.55L208.86,160.24L201.58,157.43L201.34,158.05L201.81,158.24L201.56,158.86L211.20,162.76L210.91,163.47L197.04,157.71L196.79,158.30L198.16,158.88L197.90,159.47L205.61,162.82L205.32,163.48L199.24,160.77L198.97,161.37L198.77,161.28L198.50,161.88L196.45,160.93L196.18,161.51L200.10,163.37L199.81,163.98L200.16,164.15L199.86,164.76L184.20,157.00A63.5,63.5 0 0 0 190.31,136.69Z" fill="#0a538f"/>
<path d="M201.14,138.05A74.42051282051283,74.42051282051283 0 0 1 193.98,161.85" fill="none" stroke="#9a9a9a" stroke-width="0.5" stroke-dasharray="2,1.8"/>
<path d="M211.88,139.40A85.24102564102564,85.24102564102564 0 0 1 203.67,166.65" fill="none" stroke="#9a9a9a" stroke-width="0.5" stroke-dasharray="2,1.8"/>
<path d="M222.62,140.74A96.06153846153846,96.06153846153846 0 0 1 213.37,171.46" fill="none" stroke="#9a9a9a" stroke-width="0.5" stroke-dasharray="2,1.8"/>
<path d="M232.28,141.95A105.8,105.8 0 0 1 222.10,175.78L183.39,156.60A62.6,62.6 0 0 0 189.41,136.58Z" fill="none" stroke="#1a1a1a" stroke-width="0.6"/>
<path d="M238.43,142.72A112.0,112.0 0 0 1 227.65,178.54L224.43,176.94A108.4,108.4 0 0 0 234.86,142.28Z" fill="#f4f4f4"/>
<path d="M238.43,142.72A112.0,112.0 0 0 1 238.31,143.64L234.74,143.16A108.4,108.4 0 0 0 234.86,142.28Z" fill="#7f7f7f"/>
<path d="M238.31,143.64A112.0,112.0 0 0 1 238.20,144.47L234.63,143.97A108.4,108.4 0 0 0 234.74,143.16Z" fill="#b0b0b0"/>
<path d="M237.54,148.56A112.0,112.0 0 0 1 237.32,149.77L233.78,149.09A108.4,108.4 0 0 0 234.00,147.93Z" fill="#000000"/>
<path d="M237.32,149.77A112.0,112.0 0 0 1 237.22,150.28L233.69,149.59A108.4,108.4 0 0 0 233.78,149.09Z" fill="#d9d9d9"/>
<path d="M237.22,150.28A112.0,112.0 0 0 1 237.03,151.24L233.50,150.51A108.4,108.4 0 0 0 233.69,149.59Z" fill="#7f7f7f"/>
<path d="M237.03,151.24A112.0,112.0 0 0 1 236.89,151.91L233.37,151.17A108.4,108.4 0 0 0 233.50,150.51Z" fill="#d9d9d9"/>
<path d="M236.89,151.91A112.0,112.0 0 0 1 236.71,152.73L233.20,151.96A108.4,108.4 0 0 0 233.37,151.17Z" fill="#7f7f7f"/>
<path d="M236.71,152.73A112.0,112.0 0 0 1 236.55,153.47L233.04,152.68A108.4,108.4 0 0 0 233.20,151.96Z" fill="#000000"/>
<path d="M236.37,154.24A112.0,112.0 0 0 1 236.10,155.37L232.60,154.52A108.4,108.4 0 0 0 232.87,153.42Z" fill="#d9d9d9"/>
<path d="M236.10,155.37A112.0,112.0 0 0 1 235.95,155.98L232.46,155.10A108.4,108.4 0 0 0 232.60,154.52Z" fill="#b0b0b0"/>
<path d="M235.95,155.98A112.0,112.0 0 0 1 235.81,156.55L232.32,155.66A108.4,108.4 0 0 0 232.46,155.10Z" fill="#7f7f7f"/>
<path d="M235.81,156.55A112.0,112.0 0 0 1 235.51,157.68L232.03,156.75A108.4,108.4 0 0 0 232.32,155.66Z" fill="#7f7f7f"/>
<path d="M234.00,162.86A112.0,112.0 0 0 1 233.58,164.15L230.16,163.01A108.4,108.4 0 0 0 230.57,161.76Z" fill="#d9d9d9"/>
<path d="M233.58,164.15A112.0,112.0 0 0 1 233.30,164.97L229.89,163.81A108.4,108.4 0 0 0 230.16,163.01Z" fill="#000000"/>
<path d="M233.30,164.97A112.0,112.0 0 0 1 233.06,165.67L229.66,164.48A108.4,108.4 0 0 0 229.89,163.81Z" fill="#d9d9d9"/>
<path d="M233.06,165.67A112.0,112.0 0 0 1 232.72,166.62L229.33,165.40A108.4,108.4 0 0 0 229.66,164.48Z" fill="#7f7f7f"/>
<path d="M232.72,166.62A112.0,112.0 0 0 1 232.30,167.76L228.93,166.51A108.4,108.4 0 0 0 229.33,165.40Z" fill="#b0b0b0"/>
<path d="M232.01,168.55A112.0,112.0 0 0 1 231.77,169.17L228.41,167.87A108.4,108.4 0 0 0 228.64,167.28Z" fill="#7f7f7f"/>
<path d="M231.77,169.17A112.0,112.0 0 0 1 231.36,170.23L228.01,168.90A108.4,108.4 0 0 0 228.41,167.87Z" fill="#b0b0b0"/>
<path d="M231.36,170.23A112.0,112.0 0 0 1 231.10,170.85L227.77,169.50A108.4,108.4 0 0 0 228.01,168.90Z" fill="#d9d9d9"/>
<path d="M231.10,170.85A112.0,112.0 0 0 1 230.63,172.00L227.31,170.61A108.4,108.4 0 0 0 227.77,169.50Z" fill="#d9d9d9"/>
<path d="M230.63,172.00A112.0,112.0 0 0 1 230.39,172.58L227.07,171.18A108.4,108.4 0 0 0 227.31,170.61Z" fill="#d9d9d9"/>
<path d="M229.57,174.45A112.0,112.0 0 0 1 229.09,175.52L225.82,174.02A108.4,108.4 0 0 0 226.29,172.98Z" fill="#7f7f7f"/>
<path d="M227.70,178.44A112.0,112.0 0 0 1 227.65,178.54L224.43,176.94A108.4,108.4 0 0 0 224.47,176.85Z" fill="#b0b0b0"/>
<path d="M236.87,152.01A112.0,112.0 0 0 1 236.58,153.35L233.06,152.56A108.4,108.4 0 0 0 233.35,151.26Z" fill="#e8262b"/>
<path d="M238.43,142.72A112.0,112.0 0 0 1 227.65,178.54L224.43,176.94A108.4,108.4 0 0 0 234.86,142.28Z" fill="none" stroke="#000" stroke-width="0.55"/>
<path d="M241.61,143.12A115.2,115.2 0 0 1 230.52,179.96" fill="none" stroke="#000" stroke-width="0.6"/>
<line x1="241.61" y1="143.12" x2="243.69" y2="143.38" stroke="#000" stroke-width="0.5"/>
<text x="245.17" y="146.56" transform="rotate(-81.4 245.17 146.56)" font-size="3.3" text-anchor="middle" dominant-baseline="central" fill="#000" stroke="#000" stroke-width="0.18">0Mb</text>
<line x1="241.06" y1="146.98" x2="242.34" y2="147.19" stroke="#000" stroke-width="0.5"/>
<line x1="240.37" y1="150.82" x2="241.65" y2="151.07" stroke="#000" stroke-width="0.5"/>
<line x1="239.56" y1="154.64" x2="240.83" y2="154.93" stroke="#000" stroke-width="0.5"/>
<line x1="238.63" y1="158.43" x2="239.88" y2="158.76" stroke="#000" stroke-width="0.5"/>
<line x1="237.56" y1="162.18" x2="239.57" y2="162.79" stroke="#000" stroke-width="0.5"/>
<text x="241.39" y="163.34" transform="rotate(-73.2 241.39 163.34)" font-size="3.3" text-anchor="middle" dominant-baseline="central" fill="#000" stroke="#000" stroke-width="0.18">50Mb</text>
<line x1="236.37" y1="165.89" x2="237.60" y2="166.31" stroke="#000" stroke-width="0.5"/>
<line x1="235.05" y1="169.56" x2="236.26" y2="170.02" stroke="#000" stroke-width="0.5"/>
<line x1="233.61" y1="173.19" x2="234.81" y2="173.69" stroke="#000" stroke-width="0.5"/>
<line x1="232.04" y1="176.76" x2="233.22" y2="177.30" stroke="#000" stroke-width="0.5"/>
<text x="246.61" y="164.72" transform="rotate(-73.2 246.61 164.72)" font-size="7.1" text-anchor="middle" dominant-baseline="central" fill="#000" stroke="#000" stroke-width="0.12">5</text>
<path d="M183.69,157.99L204.20,168.60L203.87,169.24L200.03,167.21L199.70,167.81L201.45,168.75L201.12,169.37L202.82,170.30L202.47,170.93L201.72,170.51L201.38,171.13L204.31,172.80L203.94,173.44L207.51,175.52L207.12,176.19L200.72,172.39L200.36,173.00L197.57,171.31L197.22,171.89L197.94,172.34L197.58,172.92L197.29,172.75L196.93,173.33L194.12,171.53L193.76,172.08L194.64,172.66L194.27,173.21L191.70,171.51L191.35,172.05L198.71,177.02L198.31,177.61L201.58,179.86L201.16,180.47L195.20,176.31L194.81,176.87L194.12,176.38L193.72,176.94L194.60,177.57L194.19,178.13L190.55,175.45L190.16,175.97L191.33,176.84L190.92,177.37L190.71,177.21L190.30,177.73L191.95,179.02L191.54,179.55L195.87,182.97L195.41,183.54L191.74,180.58L191.30,181.12L197.18,185.92L196.71,186.50L187.68,179.00L187.26,179.50L184.60,177.24L184.19,177.72L185.05,178.46L184.64,178.93L190.81,184.34L190.35,184.86L188.70,183.39L188.24,183.90L185.16,181.12L184.73,181.60L183.14,180.13L182.71,180.60L182.78,180.67L182.35,181.13L187.92,186.42L187.44,186.92L179.89,179.63L179.47,180.07L182.74,183.28L182.29,183.74L188.09,189.54L187.58,190.04L171.85,174.05A63.5,63.5 0 0 0 183.69,157.99Z" fill="#0a538f"/>
<path d="M193.39,163.01A74.42051282051283,74.42051282051283 0 0 1 179.51,181.84" fill="none" stroke="#9a9a9a" stroke-width="0.5" stroke-dasharray="2,1.8"/>
<path d="M203.00,167.98A85.24102564102564,85.24102564102564 0 0 1 187.10,189.55" fill="none" stroke="#9a9a9a" stroke-width="0.5" stroke-dasharray="2,1.8"/>
<path d="M212.61,172.95A96.06153846153846,96.06153846153846 0 0 1 194.69,197.26" fill="none" stroke="#9a9a9a" stroke-width="0.5" stroke-dasharray="2,1.8"/>
<line x1="171.60" y1="173.03" x2="202.18" y2="203.55" stroke="#ee2a2e" stroke-width="1.0"/>
<path d="M221.26,177.43A105.8,105.8 0 0 1 201.52,204.20L171.22,173.41A62.6,62.6 0 0 0 182.90,157.57Z" fill="none" stroke="#1a1a1a" stroke-width="0.6"/>
<path d="M226.77,180.28A112.0,112.0 0 0 1 205.87,208.62L203.35,206.05A108.4,108.4 0 0 0 223.57,178.63Z" fill="#f4f4f4"/>
<path d="M226.25,181.26A112.0,112.0 0 0 1 226.01,181.73L222.83,180.03A108.4,108.4 0 0 0 223.07,179.57Z" fill="#000000"/>
<path d="M225.17,183.25A112.0,112.0 0 0 1 224.81,183.90L221.68,182.12A108.4,108.4 0 0 0 222.02,181.50Z" fill="#7f7f7f"/>
<path d="M224.40,184.63A112.0,112.0 0 0 1 223.71,185.80L220.61,183.97A108.4,108.4 0 0 0 221.27,182.83Z" fill="#7f7f7f"/>
<path d="M223.71,185.80A112.0,112.0 0 0 1 223.37,186.38L220.28,184.53A108.4,108.4 0 0 0 220.61,183.97Z" fill="#000000"/>
<path d="M223.37,186.38A112.0,112.0 0 0 1 222.80,187.31L219.73,185.43A108.4,108.4 0 0 0 220.28,184.53Z" fill="#7f7f7f"/>
<path d="M222.80,187.31A112.0,112.0 0 0 1 222.20,188.28L219.15,186.36A108.4,108.4 0 0 0 219.73,185.43Z" fill="#000000"/>
<path d="M222.20,188.28A112.0,112.0 0 0 1 221.53,189.33L218.50,187.39A108.4,108.4 0 0 0 219.15,186.36Z" fill="#7f7f7f"/>
<path d="M221.53,189.33A112.0,112.0 0 0 1 221.15,189.92L218.14,187.96A108.4,108.4 0 0 0 218.50,187.39Z" fill="#b0b0b0"/>
<path d="M221.15,189.92A112.0,112.0 0 0 1 220.60,190.77L217.60,188.77A108.4,108.4 0 0 0 218.14,187.96Z" fill="#b0b0b0"/>
<path d="M220.60,190.77A112.0,112.0 0 0 1 220.08,191.54L217.10,189.52A108.4,108.4 0 0 0 217.60,188.77Z" fill="#000000"/>
<path d="M217.96,194.57A112.0,112.0 0 0 1 217.38,195.35L214.49,193.21A108.4,108.4 0 0 0 215.04,192.45Z" fill="#d9d9d9"/>
<path d="M217.38,195.35A112.0,112.0 0 0 1 216.77,196.17L213.90,194.00A108.4,108.4 0 0 0 214.49,193.21Z" fill="#000000"/>
<path d="M216.77,196.17A112.0,112.0 0 0 1 216.46,196.59L213.59,194.41A108.4,108.4 0 0 0 213.90,194.00Z" fill="#7f7f7f"/>
<path d="M216.46,196.59A112.0,112.0 0 0 1 215.88,197.34L213.03,195.14A108.4,108.4 0 0 0 213.59,194.41Z" fill="#d9d9d9"/>
<path d="M215.88,197.34A112.0,112.0 0 0 1 215.18,198.24L212.35,196.01A108.4,108.4 0 0 0 213.03,195.14Z" fill="#7f7f7f"/>
<path d="M215.18,198.24A112.0,112.0 0 0 1 214.64,198.92L211.83,196.66A108.4,108.4 0 0 0 212.35,196.01Z" fill="#d9d9d9"/>
<path d="M213.75,200.01A112.0,112.0 0 0 1 213.03,200.87L210.28,198.55A108.4,108.4 0 0 0 210.97,197.72Z" fill="#b0b0b0"/>
<path d="M213.03,200.87A112.0,112.0 0 0 1 212.68,201.28L209.94,198.95A108.4,108.4 0 0 0 210.28,198.55Z" fill="#b0b0b0"/>
<path d="M212.68,201.28A112.0,112.0 0 0 1 211.93,202.16L209.21,199.80A108.4,108.4 0 0 0 209.94,198.95Z" fill="#000000"/>
<path d="M211.93,202.16A112.0,112.0 0 0 1 211.39,202.78L208.69,200.40A108.4,108.4 0 0 0 209.21,199.80Z" fill="#000000"/>
<path d="M211.39,202.78A112.0,112.0 0 0 1 210.73,203.52L208.05,201.12A108.4,108.4 0 0 0 208.69,200.40Z" fill="#d9d9d9"/>
<path d="M209.82,204.52A112.0,112.0 0 0 1 209.01,205.39L206.39,202.93A108.4,108.4 0 0 0 207.17,202.09Z" fill="#b0b0b0"/>
<path d="M209.01,205.39A112.0,112.0 0 0 1 208.44,206.00L205.83,203.52A108.4,108.4 0 0 0 206.39,202.93Z" fill="#000000"/>
<path d="M208.44,206.00A112.0,112.0 0 0 1 207.85,206.62L205.26,204.12A108.4,108.4 0 0 0 205.83,203.52Z" fill="#d9d9d9"/>
<path d="M207.85,206.62A112.0,112.0 0 0 1 207.15,207.34L204.58,204.82A108.4,108.4 0 0 0 205.26,204.12Z" fill="#7f7f7f"/>
<path d="M207.15,207.34A112.0,112.0 0 0 1 206.64,207.85L204.09,205.31A108.4,108.4 0 0 0 204.58,204.82Z" fill="#d9d9d9"/>
<path d="M206.64,207.85A112.0,112.0 0 0 1 206.00,208.49L203.47,205.93A108.4,108.4 0 0 0 204.09,205.31Z" fill="#d9d9d9"/>
<path d="M220.86,190.37A112.0,112.0 0 0 1 220.10,191.50L217.12,189.49A108.4,108.4 0 0 0 217.85,188.39Z" fill="#e8262b"/>
<path d="M226.77,180.28A112.0,112.0 0 0 1 205.87,208.62L203.35,206.05A108.4,108.4 0 0 0 223.57,178.63Z" fill="none" stroke="#000" stroke-width="0.55"/>
<path d="M229.61,181.75A115.2,115.2 0 0 1 208.12,210.90" fill="none" stroke="#000" stroke-width="0.6"/>
<line x1="229.61" y1="181.75" x2="231.47" y2="182.72" stroke="#000" stroke-width="0.5"/>
<text x="231.76" y="186.21" transform="rotate(-61.2 231.76 186.21)" font-size="3.3" text-anchor="middle" dominant-baseline="central" fill="#000" stroke="#000" stroke-width="0.18">0Mb</text>
<line x1="227.76" y1="185.18" x2="228.89" y2="185.82" stroke="#000" stroke-width="0.5"/>
<line x1="225.79" y1="188.55" x2="226.90" y2="189.23" stroke="#000" stroke-width="0.5"/>
<line x1="223.71" y1="191.85" x2="224.80" y2="192.56" stroke="#000" stroke-width="0.5"/>
<line x1="221.52" y1="195.08" x2="222.59" y2="195.83" stroke="#000" stroke-width="0.5"/>
<line x1="219.22" y1="198.23" x2="220.90" y2="199.50" stroke="#000" stroke-width="0.5"/>
<text x="222.42" y="200.64" transform="rotate(-52.9 222.42 200.64)" font-size="3.3" text-anchor="middle" dominant-baseline="central" fill="#000" stroke="#000" stroke-width="0.18">50Mb</text>
<line x1="216.82" y1="201.30" x2="217.83" y2="202.12" stroke="#000" stroke-width="0.5"/>
<line x1="214.32" y1="204.29" x2="215.30" y2="205.15" stroke="#000" stroke-width="0.5"/>
<line x1="211.71" y1="207.20" x2="212.66" y2="208.08" stroke="#000" stroke-width="0.5"/>
<line x1="209.01" y1="210.01" x2="209.93" y2="210.92" stroke="#000" stroke-width="0.5"/>
<text x="227.58" y="202.75" transform="rotate(-53.6 227.58 202.75)" font-size="7.1" text-anchor="middle" dominant-baseline="central" fill="#000" stroke="#000" stroke-width="0.12">6</text>
<path d="M171.05,174.82L181.52,185.84L181.04,186.29L185.30,190.85L184.77,191.33L178.00,183.97L177.54,184.39L177.50,184.35L177.03,184.77L174.91,182.38L174.46,182.78L177.67,186.46L177.18,186.88L175.77,185.24L175.29,185.64L175.14,185.46L174.66,185.86L175.10,186.38L174.61,186.78L173.40,185.30L172.93,185.69L173.70,186.66L173.21,187.05L175.76,190.28L175.25,190.69L172.64,187.32L172.14,187.70L175.80,192.51L175.27,192.91L174.44,191.81L173.90,192.20L173.24,191.29L172.71,191.68L182.30,204.96L181.66,205.42L173.49,193.91L172.94,194.30L172.19,193.21L171.65,193.59L173.61,196.45L173.04,196.84L171.06,193.90L170.51,194.26L169.11,192.15L168.58,192.50L173.55,200.17L172.95,200.56L168.61,193.75L168.07,194.09L174.77,204.82L174.13,205.22L169.43,197.55L168.85,197.90L167.63,195.87L167.06,196.21L166.33,194.96L165.77,195.29L169.64,201.99L169.03,202.34L166.37,197.67L165.79,198.00L167.21,200.55L166.61,200.88L166.12,199.99L165.52,200.32L161.51,192.81L160.97,193.10L161.86,194.80L161.31,195.09L161.19,194.86L160.63,195.15L155.81,185.54A63.5,63.5 0 0 0 171.05,174.82Z" fill="#0a538f"/>
<path d="M178.57,182.74A74.42051282051283,74.42051282051283 0 0 1 160.71,195.30" fill="none" stroke="#9a9a9a" stroke-width="0.5" stroke-dasharray="2,1.8"/>
<path d="M186.03,190.58A85.24102564102564,85.24102564102564 0 0 1 165.57,204.97" fill="none" stroke="#9a9a9a" stroke-width="0.5" stroke-dasharray="2,1.8"/>
<path d="M193.48,198.42A96.06153846153846,96.06153846153846 0 0 1 170.43,214.64" fill="none" stroke="#9a9a9a" stroke-width="0.5" stroke-dasharray="2,1.8"/>
<line x1="155.89" y1="184.49" x2="175.62" y2="222.92" stroke="#ee2a2e" stroke-width="1.0"/>
<path d="M200.19,205.48A105.8,105.8 0 0 1 174.80,223.34L155.40,184.74A62.6,62.6 0 0 0 170.43,174.17Z" fill="none" stroke="#1a1a1a" stroke-width="0.6"/>
<path d="M204.47,209.98A112.0,112.0 0 0 1 177.58,228.88L175.97,225.66A108.4,108.4 0 0 0 201.99,207.37Z" fill="#f4f4f4"/>
<path d="M204.47,209.98A112.0,112.0 0 0 1 203.43,210.95L200.98,208.31A108.4,108.4 0 0 0 201.99,207.37Z" fill="#b0b0b0"/>
<path d="M202.48,211.82A112.0,112.0 0 0 1 201.67,212.54L199.28,209.85A108.4,108.4 0 0 0 200.06,209.15Z" fill="#000000"/>
<path d="M201.67,212.54A112.0,112.0 0 0 1 200.70,213.39L198.34,210.68A108.4,108.4 0 0 0 199.28,209.85Z" fill="#b0b0b0"/>
<path d="M200.70,213.39A112.0,112.0 0 0 1 200.09,213.92L197.75,211.18A108.4,108.4 0 0 0 198.34,210.68Z" fill="#d9d9d9"/>
<path d="M199.06,214.79A112.0,112.0 0 0 1 198.17,215.52L195.90,212.74A108.4,108.4 0 0 0 196.76,212.02Z" fill="#b0b0b0"/>
<path d="M198.17,215.52A112.0,112.0 0 0 1 197.12,216.37L194.88,213.56A108.4,108.4 0 0 0 195.90,212.74Z" fill="#7f7f7f"/>
<path d="M196.51,216.86A112.0,112.0 0 0 1 195.91,217.33L193.70,214.48A108.4,108.4 0 0 0 194.28,214.03Z" fill="#d9d9d9"/>
<path d="M195.91,217.33A112.0,112.0 0 0 1 195.06,217.97L192.89,215.11A108.4,108.4 0 0 0 193.70,214.48Z" fill="#7f7f7f"/>
<path d="M193.99,218.78A112.0,112.0 0 0 1 192.95,219.55L190.84,216.63A108.4,108.4 0 0 0 191.85,215.89Z" fill="#7f7f7f"/>
<path d="M192.95,219.55A112.0,112.0 0 0 1 191.87,220.32L189.79,217.37A108.4,108.4 0 0 0 190.84,216.63Z" fill="#d9d9d9"/>
<path d="M191.87,220.32A112.0,112.0 0 0 1 191.23,220.76L189.18,217.80A108.4,108.4 0 0 0 189.79,217.37Z" fill="#000000"/>
<path d="M191.23,220.76A112.0,112.0 0 0 1 190.19,221.48L188.17,218.50A108.4,108.4 0 0 0 189.18,217.80Z" fill="#b0b0b0"/>
<path d="M189.05,222.24A112.0,112.0 0 0 1 188.55,222.57L186.58,219.55A108.4,108.4 0 0 0 187.07,219.24Z" fill="#d9d9d9"/>
<path d="M187.49,223.25A112.0,112.0 0 0 1 186.46,223.90L184.56,220.84A108.4,108.4 0 0 0 185.56,220.21Z" fill="#000000"/>
<path d="M186.46,223.90A112.0,112.0 0 0 1 185.84,224.28L183.96,221.21A108.4,108.4 0 0 0 184.56,220.84Z" fill="#b0b0b0"/>
<path d="M185.84,224.28A112.0,112.0 0 0 1 184.86,224.88L183.01,221.79A108.4,108.4 0 0 0 183.96,221.21Z" fill="#d9d9d9"/>
<path d="M184.25,225.24A112.0,112.0 0 0 1 183.20,225.86L181.40,222.74A108.4,108.4 0 0 0 182.42,222.14Z" fill="#7f7f7f"/>
<path d="M182.37,226.32A112.0,112.0 0 0 1 181.27,226.94L179.53,223.79A108.4,108.4 0 0 0 180.60,223.19Z" fill="#7f7f7f"/>
<path d="M181.27,226.94A112.0,112.0 0 0 1 180.62,227.29L178.91,224.13A108.4,108.4 0 0 0 179.53,223.79Z" fill="#d9d9d9"/>
<path d="M180.62,227.29A112.0,112.0 0 0 1 179.43,227.93L177.75,224.74A108.4,108.4 0 0 0 178.91,224.13Z" fill="#000000"/>
<path d="M179.43,227.93A112.0,112.0 0 0 1 178.54,228.39L176.89,225.19A108.4,108.4 0 0 0 177.75,224.74Z" fill="#d9d9d9"/>
<path d="M195.54,217.61A112.0,112.0 0 0 1 194.45,218.44L192.29,215.56A108.4,108.4 0 0 0 193.34,214.76Z" fill="#e8262b"/>
<path d="M204.47,209.98A112.0,112.0 0 0 1 177.58,228.88L175.97,225.66A108.4,108.4 0 0 0 201.99,207.37Z" fill="none" stroke="#000" stroke-width="0.55"/>
<path d="M206.67,212.29A115.2,115.2 0 0 1 179.02,231.74" fill="none" stroke="#000" stroke-width="0.6"/>
<line x1="206.67" y1="212.29" x2="208.12" y2="213.82" stroke="#000" stroke-width="0.5"/>
<text x="207.25" y="217.21" transform="rotate(-42.1 207.25 217.21)" font-size="3.3" text-anchor="middle" dominant-baseline="central" fill="#000" stroke="#000" stroke-width="0.18">0Mb</text>
<line x1="203.80" y1="214.93" x2="204.66" y2="215.91" stroke="#000" stroke-width="0.5"/>
<line x1="200.84" y1="217.47" x2="201.67" y2="218.47" stroke="#000" stroke-width="0.5"/>
<line x1="197.80" y1="219.91" x2="198.59" y2="220.94" stroke="#000" stroke-width="0.5"/>
<line x1="194.67" y1="222.25" x2="195.43" y2="223.30" stroke="#000" stroke-width="0.5"/>
<line x1="191.47" y1="224.47" x2="192.64" y2="226.22" stroke="#000" stroke-width="0.5"/>
<text x="193.70" y="227.80" transform="rotate(-33.8 193.70 227.80)" font-size="3.3" text-anchor="middle" dominant-baseline="central" fill="#000" stroke="#000" stroke-width="0.18">50Mb</text>
<line x1="188.19" y1="226.59" x2="188.88" y2="227.69" stroke="#000" stroke-width="0.5"/>
<line x1="184.85" y1="228.60" x2="185.50" y2="229.72" stroke="#000" stroke-width="0.5"/>
<line x1="181.44" y1="230.49" x2="182.05" y2="231.64" stroke="#000" stroke-width="0.5"/>
<text x="198.97" y="230.72" transform="rotate(-35.1 198.97 230.72)" font-size="7.1" text-anchor="middle" dominant-baseline="central" fill="#000" stroke="#000" stroke-width="0.12">7</text>
<path d="M154.81,186.03L162.52,202.05L161.90,202.34L157.75,193.51L157.20,193.77L158.66,196.93L158.09,197.19L159.55,200.43L158.94,200.70L157.23,196.81L156.66,197.06L157.61,199.27L157.02,199.52L156.87,199.16L156.28,199.40L159.76,207.89L159.10,208.16L157.76,204.81L157.12,205.06L156.28,202.92L155.66,203.16L155.07,201.63L154.46,201.86L153.46,199.16L152.87,199.38L153.11,200.06L152.52,200.27L152.30,199.65L151.70,199.86L151.56,199.45L150.97,199.65L152.62,204.60L151.99,204.81L152.65,206.86L152.00,207.07L150.97,203.81L150.34,204.01L151.40,207.47L150.74,207.67L150.33,206.28L149.68,206.48L148.79,203.38L148.16,203.55L149.80,209.43L149.12,209.62L147.37,203.13L146.75,203.29L150.95,219.37L150.19,219.57L146.07,203.25L145.45,203.40L148.79,217.16L148.05,217.34L145.16,205.02L144.52,205.17L143.27,199.61L142.68,199.74L143.89,205.36L143.25,205.50L143.95,208.86L143.28,209.00L142.27,203.94L141.64,204.06L142.46,208.34L141.79,208.46L138.66,191.27A63.5,63.5 0 0 0 154.81,186.03Z" fill="#0a538f"/>
<path d="M159.55,195.87A74.42051282051283,74.42051282051283 0 0 1 140.62,202.02" fill="none" stroke="#9a9a9a" stroke-width="0.5" stroke-dasharray="2,1.8"/>
<path d="M164.23,205.62A85.24102564102564,85.24102564102564 0 0 1 142.55,212.66" fill="none" stroke="#9a9a9a" stroke-width="0.5" stroke-dasharray="2,1.8"/>
<path d="M168.92,215.38A96.06153846153846,96.06153846153846 0 0 1 144.49,223.31" fill="none" stroke="#9a9a9a" stroke-width="0.5" stroke-dasharray="2,1.8"/>
<line x1="139.04" y1="190.29" x2="147.14" y2="232.72" stroke="#ee2a2e" stroke-width="1.0"/>
<path d="M173.14,224.15A105.8,105.8 0 0 1 146.23,232.89L138.50,190.39A62.6,62.6 0 0 0 154.42,185.22Z" fill="none" stroke="#1a1a1a" stroke-width="0.6"/>
<path d="M175.83,229.74A112.0,112.0 0 0 1 147.34,238.99L146.70,235.45A108.4,108.4 0 0 0 174.27,226.50Z" fill="#f4f4f4"/>
<path d="M171.65,231.64A112.0,112.0 0 0 1 170.41,232.17L169.02,228.85A108.4,108.4 0 0 0 170.23,228.34Z" fill="#b0b0b0"/>
<path d="M170.41,232.17A112.0,112.0 0 0 1 169.75,232.44L168.38,229.11A108.4,108.4 0 0 0 169.02,228.85Z" fill="#d9d9d9"/>
<path d="M168.37,233.00A112.0,112.0 0 0 1 167.02,233.52L165.75,230.15A108.4,108.4 0 0 0 167.05,229.65Z" fill="#000000"/>
<path d="M165.73,234.00A112.0,112.0 0 0 1 164.99,234.27L163.78,230.88A108.4,108.4 0 0 0 164.49,230.62Z" fill="#000000"/>
<path d="M164.99,234.27A112.0,112.0 0 0 1 164.45,234.46L163.26,231.06A108.4,108.4 0 0 0 163.78,230.88Z" fill="#b0b0b0"/>
<path d="M164.45,234.46A112.0,112.0 0 0 1 163.70,234.72L162.53,231.31A108.4,108.4 0 0 0 163.26,231.06Z" fill="#000000"/>
<path d="M163.70,234.72A112.0,112.0 0 0 1 163.20,234.89L162.05,231.48A108.4,108.4 0 0 0 162.53,231.31Z" fill="#7f7f7f"/>
<path d="M162.41,235.15A112.0,112.0 0 0 1 161.92,235.32L160.80,231.89A108.4,108.4 0 0 0 161.28,231.74Z" fill="#7f7f7f"/>
<path d="M160.96,235.62A112.0,112.0 0 0 1 160.07,235.90L159.02,232.45A108.4,108.4 0 0 0 159.87,232.19Z" fill="#000000"/>
<path d="M160.07,235.90A112.0,112.0 0 0 1 159.38,236.11L158.35,232.66A108.4,108.4 0 0 0 159.02,232.45Z" fill="#d9d9d9"/>
<path d="M158.76,236.29A112.0,112.0 0 0 1 157.58,236.63L156.60,233.16A108.4,108.4 0 0 0 157.75,232.83Z" fill="#b0b0b0"/>
<path d="M156.90,236.82A112.0,112.0 0 0 1 156.32,236.97L155.39,233.50A108.4,108.4 0 0 0 155.95,233.35Z" fill="#b0b0b0"/>
<path d="M155.38,237.22A112.0,112.0 0 0 1 154.69,237.40L153.81,233.91A108.4,108.4 0 0 0 154.48,233.74Z" fill="#b0b0b0"/>
<path d="M154.69,237.40A112.0,112.0 0 0 1 153.55,237.68L152.70,234.18A108.4,108.4 0 0 0 153.81,233.91Z" fill="#7f7f7f"/>
<path d="M152.52,237.92A112.0,112.0 0 0 1 151.95,238.05L151.16,234.54A108.4,108.4 0 0 0 151.71,234.42Z" fill="#b0b0b0"/>
<path d="M151.95,238.05A112.0,112.0 0 0 1 151.08,238.25L150.31,234.73A108.4,108.4 0 0 0 151.16,234.54Z" fill="#b0b0b0"/>
<path d="M151.08,238.25A112.0,112.0 0 0 1 150.52,238.37L149.77,234.84A108.4,108.4 0 0 0 150.31,234.73Z" fill="#7f7f7f"/>
<path d="M150.52,238.37A112.0,112.0 0 0 1 149.71,238.54L148.99,235.01A108.4,108.4 0 0 0 149.77,234.84Z" fill="#7f7f7f"/>
<path d="M149.71,238.54A112.0,112.0 0 0 1 148.41,238.79L147.73,235.26A108.4,108.4 0 0 0 148.99,235.01Z" fill="#d9d9d9"/>
<path d="M148.41,238.79A112.0,112.0 0 0 1 147.89,238.89L147.23,235.35A108.4,108.4 0 0 0 147.73,235.26Z" fill="#000000"/>
<path d="M147.89,238.89A112.0,112.0 0 0 1 147.34,238.99L146.70,235.45A108.4,108.4 0 0 0 147.23,235.35Z" fill="#000000"/>
<path d="M167.88,233.19A112.0,112.0 0 0 1 166.60,233.68L165.34,230.31A108.4,108.4 0 0 0 166.57,229.84Z" fill="#e8262b"/>
<path d="M175.83,229.74A112.0,112.0 0 0 1 147.34,238.99L146.70,235.45A108.4,108.4 0 0 0 174.27,226.50Z" fill="none" stroke="#000" stroke-width="0.55"/>
<path d="M177.22,232.62A115.2,115.2 0 0 1 147.92,242.14" fill="none" stroke="#000" stroke-width="0.6"/>
<line x1="177.22" y1="232.62" x2="178.13" y2="234.52" stroke="#000" stroke-width="0.5"/>
<text x="176.26" y="237.48" transform="rotate(-24.2 176.26 237.48)" font-size="3.3" text-anchor="middle" dominant-baseline="central" fill="#000" stroke="#000" stroke-width="0.18">0Mb</text>
<line x1="173.67" y1="234.25" x2="174.20" y2="235.44" stroke="#000" stroke-width="0.5"/>
<line x1="170.08" y1="235.76" x2="170.56" y2="236.97" stroke="#000" stroke-width="0.5"/>
<line x1="166.43" y1="237.15" x2="166.87" y2="238.37" stroke="#000" stroke-width="0.5"/>
<line x1="162.74" y1="238.41" x2="163.14" y2="239.65" stroke="#000" stroke-width="0.5"/>
<line x1="159.01" y1="239.55" x2="159.59" y2="241.57" stroke="#000" stroke-width="0.5"/>
<text x="160.11" y="243.40" transform="rotate(-16.0 160.11 243.40)" font-size="3.3" text-anchor="middle" dominant-baseline="central" fill="#000" stroke="#000" stroke-width="0.18">50Mb</text>
<line x1="155.24" y1="240.56" x2="155.56" y2="241.82" stroke="#000" stroke-width="0.5"/>
<line x1="151.44" y1="241.44" x2="151.71" y2="242.71" stroke="#000" stroke-width="0.5"/>
<text x="165.79" y="247.31" transform="rotate(-18.0 165.79 247.31)" font-size="7.1" text-anchor="middle" dominant-baseline="central" fill="#000" stroke="#000" stroke-width="0.12">8</text>
<path d="M137.57,191.46L139.42,202.74L138.81,202.84L138.86,203.17L138.25,203.26L138.20,202.95L137.59,203.03L137.33,201.19L136.74,201.27L137.28,205.44L136.65,205.52L136.69,205.90L136.06,205.98L135.77,203.47L135.16,203.54L135.31,205.02L134.68,205.09L134.29,201.06L133.70,201.12L132.90,192.15L132.38,192.20L132.38,192.20L131.86,192.24L131.86,192.24L131.33,192.27L131.33,192.27L130.81,192.30L130.81,192.30L130.29,192.33L130.67,200.58L130.08,200.61L130.26,205.17L129.63,205.19L129.53,202.06L128.93,202.08L128.82,197.13L128.26,197.14L128.33,202.55L127.72,202.56L127.72,201.50L127.12,201.50L127.11,203.71L126.49,203.70L126.50,202.77L125.89,202.76L125.83,205.84L125.20,205.82L125.32,201.44L124.72,201.42L124.64,203.72L124.02,203.69L124.20,199.61L123.61,199.58L123.32,205.27L122.69,205.24L122.91,201.48L122.31,201.44L121.76,209.51L121.09,209.46L120.95,211.33L120.27,211.27L120.87,204.22L120.25,204.17L121.39,192.02A63.5,63.5 0 0 0 137.57,191.46Z" fill="#0a538f"/>
<path d="M139.34,202.24A74.42051282051283,74.42051282051283 0 0 1 120.37,202.90" fill="none" stroke="#9a9a9a" stroke-width="0.5" stroke-dasharray="2,1.8"/>
<path d="M141.09,212.92A85.24102564102564,85.24102564102564 0 0 1 119.36,213.67" fill="none" stroke="#9a9a9a" stroke-width="0.5" stroke-dasharray="2,1.8"/>
<path d="M142.84,223.60A96.06153846153846,96.06153846153846 0 0 1 118.35,224.44" fill="none" stroke="#9a9a9a" stroke-width="0.5" stroke-dasharray="2,1.8"/>
<line x1="122.01" y1="191.18" x2="118.37" y2="234.22" stroke="#ee2a2e" stroke-width="1.0"/>
<path d="M144.41,233.21A105.8,105.8 0 0 1 117.45,234.14L121.47,191.13A62.6,62.6 0 0 0 137.43,190.58Z" fill="none" stroke="#1a1a1a" stroke-width="0.6"/>
<path d="M145.42,239.33A112.0,112.0 0 0 1 116.87,240.31L117.20,236.73A108.4,108.4 0 0 0 144.83,235.77Z" fill="#f4f4f4"/>
<path d="M145.42,239.33A112.0,112.0 0 0 1 144.51,239.47L143.95,235.91A108.4,108.4 0 0 0 144.83,235.77Z" fill="#000000"/>
<path d="M142.62,239.75A112.0,112.0 0 0 1 141.56,239.89L141.10,236.32A108.4,108.4 0 0 0 142.13,236.18Z" fill="#000000"/>
<path d="M140.57,240.01A112.0,112.0 0 0 1 139.63,240.12L139.23,236.54A108.4,108.4 0 0 0 140.14,236.44Z" fill="#d9d9d9"/>
<path d="M136.70,240.40A112.0,112.0 0 0 1 135.68,240.49L135.41,236.90A108.4,108.4 0 0 0 136.40,236.82Z" fill="#7f7f7f"/>
<path d="M135.68,240.49A112.0,112.0 0 0 1 134.60,240.56L134.36,236.97A108.4,108.4 0 0 0 135.41,236.90Z" fill="#d9d9d9"/>
<path d="M133.48,240.63A112.0,112.0 0 0 1 132.30,240.69L132.14,237.09A108.4,108.4 0 0 0 133.28,237.04Z" fill="#d9d9d9"/>
<path d="M132.30,240.69A112.0,112.0 0 0 1 131.27,240.73L131.14,237.13A108.4,108.4 0 0 0 132.14,237.09Z" fill="#b0b0b0"/>
<path d="M127.52,240.80A112.0,112.0 0 0 1 126.67,240.80L126.69,237.20A108.4,108.4 0 0 0 127.51,237.20Z" fill="#000000"/>
<path d="M126.67,240.80A112.0,112.0 0 0 1 125.93,240.79L125.98,237.19A108.4,108.4 0 0 0 126.69,237.20Z" fill="#d9d9d9"/>
<path d="M122.29,240.69A112.0,112.0 0 0 1 121.71,240.66L121.89,237.06A108.4,108.4 0 0 0 122.45,237.09Z" fill="#000000"/>
<path d="M120.78,240.61A112.0,112.0 0 0 1 119.90,240.56L120.14,236.96A108.4,108.4 0 0 0 120.99,237.02Z" fill="#d9d9d9"/>
<path d="M118.70,240.47A112.0,112.0 0 0 1 117.98,240.41L118.28,236.82A108.4,108.4 0 0 0 118.98,236.88Z" fill="#000000"/>
<path d="M137.27,240.36A112.0,112.0 0 0 1 135.90,240.47L135.63,236.88A108.4,108.4 0 0 0 136.95,236.77Z" fill="#e8262b"/>
<path d="M145.42,239.33A112.0,112.0 0 0 1 116.87,240.31L117.20,236.73A108.4,108.4 0 0 0 144.83,235.77Z" fill="none" stroke="#000" stroke-width="0.55"/>
<path d="M145.93,242.48A115.2,115.2 0 0 1 116.57,243.50" fill="none" stroke="#000" stroke-width="0.6"/>
<line x1="145.93" y1="242.48" x2="146.27" y2="244.56" stroke="#000" stroke-width="0.5"/>
<text x="143.64" y="246.87" transform="rotate(-7.9 143.64 246.87)" font-size="3.3" text-anchor="middle" dominant-baseline="central" fill="#000" stroke="#000" stroke-width="0.18">0Mb</text>
<line x1="142.08" y1="243.05" x2="142.24" y2="244.34" stroke="#000" stroke-width="0.5"/>
<line x1="138.20" y1="243.48" x2="138.32" y2="244.78" stroke="#000" stroke-width="0.5"/>
<line x1="134.31" y1="243.79" x2="134.39" y2="245.08" stroke="#000" stroke-width="0.5"/>
<line x1="130.41" y1="243.96" x2="130.45" y2="245.26" stroke="#000" stroke-width="0.5"/>
<line x1="126.51" y1="244.00" x2="126.50" y2="246.10" stroke="#000" stroke-width="0.5"/>
<text x="126.49" y="248.00" transform="rotate(0.4 126.49 248.00)" font-size="3.3" text-anchor="middle" dominant-baseline="central" fill="#000" stroke="#000" stroke-width="0.18">50Mb</text>
<line x1="122.61" y1="243.90" x2="122.56" y2="245.20" stroke="#000" stroke-width="0.5"/>
<line x1="118.72" y1="243.68" x2="118.62" y2="244.98" stroke="#000" stroke-width="0.5"/>
<text x="131.61" y="253.33" transform="rotate(-2.0 131.61 253.33)" font-size="7.1" text-anchor="middle" dominant-baseline="central" fill="#000" stroke="#000" stroke-width="0.12">9</text>
<path d="M120.28,191.91L118.67,206.41L118.03,206.34L117.66,209.41L117.00,209.32L117.44,205.86L116.81,205.78L116.62,207.16L115.97,207.07L116.02,206.76L115.38,206.67L114.20,214.38L113.49,214.27L115.16,203.94L114.54,203.84L114.80,202.34L114.19,202.24L113.90,203.87L113.28,203.75L113.96,200.14L113.37,200.02L113.66,198.53L113.09,198.41L113.66,195.62L113.11,195.51L112.28,199.41L111.70,199.28L111.98,198.01L111.41,197.88L109.74,205.12L109.11,204.98L106.63,215.37L105.92,215.19L107.88,207.28L107.23,207.11L107.20,207.25L106.55,207.08L107.84,202.22L107.24,202.05L107.07,202.65L106.47,202.48L105.74,205.06L105.11,204.88L105.36,204.02L104.74,203.84L105.20,202.31L104.59,202.13L104.69,201.81L104.09,201.62L103.50,203.49L102.88,203.29L102.75,203.70L102.13,203.50L104.35,196.91L103.79,196.72L101.64,202.92L101.03,202.70L101.54,201.28L100.94,201.06L101.04,200.79L100.45,200.57L105.05,188.27A63.5,63.5 0 0 0 120.28,191.91Z" fill="#0a538f"/>
<path d="M119.08,202.76A74.42051282051283,74.42051282051283 0 0 1 101.22,198.50" fill="none" stroke="#9a9a9a" stroke-width="0.5" stroke-dasharray="2,1.8"/>
<path d="M117.88,213.52A85.24102564102564,85.24102564102564 0 0 1 97.43,208.64" fill="none" stroke="#9a9a9a" stroke-width="0.5" stroke-dasharray="2,1.8"/>
<path d="M116.68,224.27A96.06153846153846,96.06153846153846 0 0 1 93.64,218.77" fill="none" stroke="#9a9a9a" stroke-width="0.5" stroke-dasharray="2,1.8"/>
<line x1="105.88" y1="187.62" x2="91.09" y2="228.21" stroke="#ee2a2e" stroke-width="1.0"/>
<path d="M115.61,233.95A105.8,105.8 0 0 1 90.23,227.89L105.37,187.43A62.6,62.6 0 0 0 120.38,191.02Z" fill="none" stroke="#1a1a1a" stroke-width="0.6"/>
<path d="M114.92,240.11A112.0,112.0 0 0 1 88.06,233.70L89.32,230.33A108.4,108.4 0 0 0 115.32,236.54Z" fill="#f4f4f4"/>
<path d="M113.82,239.99A112.0,112.0 0 0 1 112.93,239.87L113.39,236.30A108.4,108.4 0 0 0 114.25,236.41Z" fill="#7f7f7f"/>
<path d="M112.93,239.87A112.0,112.0 0 0 1 112.13,239.77L112.62,236.20A108.4,108.4 0 0 0 113.39,236.30Z" fill="#b0b0b0"/>
<path d="M111.61,239.70A112.0,112.0 0 0 1 110.33,239.51L110.87,235.95A108.4,108.4 0 0 0 112.12,236.13Z" fill="#d9d9d9"/>
<path d="M109.20,239.33A112.0,112.0 0 0 1 108.23,239.17L108.85,235.62A108.4,108.4 0 0 0 109.78,235.78Z" fill="#d9d9d9"/>
<path d="M108.23,239.17A112.0,112.0 0 0 1 107.48,239.03L108.12,235.49A108.4,108.4 0 0 0 108.85,235.62Z" fill="#b0b0b0"/>
<path d="M107.48,239.03A112.0,112.0 0 0 1 106.48,238.85L107.15,235.31A108.4,108.4 0 0 0 108.12,235.49Z" fill="#000000"/>
<path d="M106.48,238.85A112.0,112.0 0 0 1 105.45,238.65L106.15,235.12A108.4,108.4 0 0 0 107.15,235.31Z" fill="#d9d9d9"/>
<path d="M103.04,238.14A112.0,112.0 0 0 1 102.06,237.92L102.87,234.41A108.4,108.4 0 0 0 103.82,234.63Z" fill="#7f7f7f"/>
<path d="M102.06,237.92A112.0,112.0 0 0 1 101.00,237.67L101.84,234.17A108.4,108.4 0 0 0 102.87,234.41Z" fill="#7f7f7f"/>
<path d="M97.45,236.75A112.0,112.0 0 0 1 96.86,236.58L97.84,233.12A108.4,108.4 0 0 0 98.41,233.28Z" fill="#000000"/>
<path d="M94.94,236.02A112.0,112.0 0 0 1 94.40,235.86L95.46,232.42A108.4,108.4 0 0 0 95.98,232.58Z" fill="#000000"/>
<path d="M94.40,235.86A112.0,112.0 0 0 1 93.39,235.54L94.48,232.11A108.4,108.4 0 0 0 95.46,232.42Z" fill="#000000"/>
<path d="M93.39,235.54A112.0,112.0 0 0 1 92.51,235.26L93.62,231.84A108.4,108.4 0 0 0 94.48,232.11Z" fill="#b0b0b0"/>
<path d="M91.79,235.02A112.0,112.0 0 0 1 90.48,234.58L91.67,231.18A108.4,108.4 0 0 0 92.94,231.61Z" fill="#000000"/>
<path d="M90.48,234.58A112.0,112.0 0 0 1 89.72,234.31L90.93,230.92A108.4,108.4 0 0 0 91.67,231.18Z" fill="#000000"/>
<path d="M88.52,233.87A112.0,112.0 0 0 1 88.06,233.70L89.32,230.33A108.4,108.4 0 0 0 89.76,230.49Z" fill="#000000"/>
<path d="M107.45,239.03A112.0,112.0 0 0 1 106.10,238.78L106.79,235.24A108.4,108.4 0 0 0 108.09,235.48Z" fill="#e8262b"/>
<path d="M114.92,240.11A112.0,112.0 0 0 1 88.06,233.70L89.32,230.33A108.4,108.4 0 0 0 115.32,236.54Z" fill="none" stroke="#000" stroke-width="0.55"/>
<path d="M114.57,243.29A115.2,115.2 0 0 1 86.93,236.70" fill="none" stroke="#000" stroke-width="0.6"/>
<line x1="114.57" y1="243.29" x2="114.34" y2="245.38" stroke="#000" stroke-width="0.5"/>
<text x="111.18" y="246.91" transform="rotate(7.8 111.18 246.91)" font-size="3.3" text-anchor="middle" dominant-baseline="central" fill="#000" stroke="#000" stroke-width="0.18">0Mb</text>
<line x1="110.70" y1="242.80" x2="110.51" y2="244.08" stroke="#000" stroke-width="0.5"/>
<line x1="106.85" y1="242.17" x2="106.62" y2="243.45" stroke="#000" stroke-width="0.5"/>
<line x1="103.03" y1="241.41" x2="102.75" y2="242.68" stroke="#000" stroke-width="0.5"/>
<line x1="99.23" y1="240.53" x2="98.91" y2="241.79" stroke="#000" stroke-width="0.5"/>
<line x1="95.46" y1="239.51" x2="94.88" y2="241.53" stroke="#000" stroke-width="0.5"/>
<text x="94.36" y="243.36" transform="rotate(16.0 94.36 243.36)" font-size="3.3" text-anchor="middle" dominant-baseline="central" fill="#000" stroke="#000" stroke-width="0.18">50Mb</text>
<line x1="91.73" y1="238.37" x2="91.33" y2="239.61" stroke="#000" stroke-width="0.5"/>
<line x1="88.04" y1="237.10" x2="87.60" y2="238.33" stroke="#000" stroke-width="0.5"/>
<text x="98.36" y="249.99" transform="rotate(13.4 98.36 249.99)" font-size="7.1" text-anchor="middle" dominant-baseline="central" fill="#000" stroke="#000" stroke-width="0.12">10</text>
<path d="M104.02,187.88L97.24,205.07L96.61,204.81L97.30,203.09L96.69,202.83L94.21,208.82L93.55,208.54L95.93,202.91L95.31,202.65L95.21,202.88L94.60,202.61L89.90,213.21L89.20,212.89L93.67,203.03L93.06,202.74L91.11,206.95L90.46,206.65L88.14,211.55L87.45,211.22L93.28,199.16L92.70,198.88L91.90,200.50L91.30,200.20L85.98,210.76L85.30,210.41L90.34,200.61L89.75,200.30L87.15,205.23L86.52,204.90L88.25,201.67L87.64,201.34L86.69,203.09L86.07,202.75L88.14,199.03L87.56,198.71L84.29,204.46L83.66,204.10L85.33,201.22L84.73,200.86L87.00,197.02L86.44,196.68L82.92,202.53L82.31,202.15L83.19,200.71L82.59,200.34L85.14,196.27L84.58,195.91L82.61,199.01L82.02,198.64L79.28,202.87L78.67,202.47L82.76,196.27L82.20,195.90L81.03,197.64L80.46,197.25L80.80,196.75L80.23,196.36L75.80,202.73L75.18,202.30L78.03,198.29L77.45,197.87L90.14,180.29A63.5,63.5 0 0 0 104.02,187.88Z" fill="#0a538f"/>
<path d="M100.01,198.04A74.42051282051283,74.42051282051283 0 0 1 83.75,189.15" fill="none" stroke="#9a9a9a" stroke-width="0.5" stroke-dasharray="2,1.8"/>
<path d="M96.04,208.10A85.24102564102564,85.24102564102564 0 0 1 77.42,197.92" fill="none" stroke="#9a9a9a" stroke-width="0.5" stroke-dasharray="2,1.8"/>
<path d="M92.08,218.17A96.06153846153846,96.06153846153846 0 0 1 71.09,206.70" fill="none" stroke="#9a9a9a" stroke-width="0.5" stroke-dasharray="2,1.8"/>
<path d="M88.50,227.23A105.8,105.8 0 0 1 65.39,214.59L90.67,179.56A62.6,62.6 0 0 0 104.35,187.04Z" fill="none" stroke="#1a1a1a" stroke-width="0.6"/>
<path d="M86.23,233.00A112.0,112.0 0 0 1 61.76,219.62L63.87,216.70A108.4,108.4 0 0 0 87.55,229.65Z" fill="#f4f4f4"/>
<path d="M82.82,231.59A112.0,112.0 0 0 1 81.63,231.07L83.10,227.78A108.4,108.4 0 0 0 84.25,228.29Z" fill="#d9d9d9"/>
<path d="M80.55,230.58A112.0,112.0 0 0 1 79.72,230.19L81.25,226.93A108.4,108.4 0 0 0 82.06,227.31Z" fill="#b0b0b0"/>
<path d="M78.95,229.83A112.0,112.0 0 0 1 77.79,229.26L79.38,226.03A108.4,108.4 0 0 0 80.51,226.58Z" fill="#7f7f7f"/>
<path d="M77.09,228.91A112.0,112.0 0 0 1 75.92,228.32L77.57,225.12A108.4,108.4 0 0 0 78.70,225.70Z" fill="#b0b0b0"/>
<path d="M75.42,228.06A112.0,112.0 0 0 1 74.87,227.77L76.56,224.59A108.4,108.4 0 0 0 77.09,224.87Z" fill="#7f7f7f"/>
<path d="M74.87,227.77A112.0,112.0 0 0 1 74.24,227.43L75.95,224.26A108.4,108.4 0 0 0 76.56,224.59Z" fill="#000000"/>
<path d="M72.16,226.28A112.0,112.0 0 0 1 71.10,225.68L72.91,222.57A108.4,108.4 0 0 0 73.93,223.15Z" fill="#7f7f7f"/>
<path d="M70.43,225.29A112.0,112.0 0 0 1 69.23,224.57L71.10,221.49A108.4,108.4 0 0 0 72.26,222.19Z" fill="#d9d9d9"/>
<path d="M69.23,224.57A112.0,112.0 0 0 1 68.05,223.85L69.96,220.79A108.4,108.4 0 0 0 71.10,221.49Z" fill="#b0b0b0"/>
<path d="M68.05,223.85A112.0,112.0 0 0 1 67.03,223.20L68.97,220.17A108.4,108.4 0 0 0 69.96,220.79Z" fill="#7f7f7f"/>
<path d="M67.03,223.20A112.0,112.0 0 0 1 66.11,222.60L68.07,219.59A108.4,108.4 0 0 0 68.97,220.17Z" fill="#d9d9d9"/>
<path d="M66.11,222.60A112.0,112.0 0 0 1 65.63,222.29L67.61,219.29A108.4,108.4 0 0 0 68.07,219.59Z" fill="#b0b0b0"/>
<path d="M65.63,222.29A112.0,112.0 0 0 1 64.87,221.78L66.87,218.80A108.4,108.4 0 0 0 67.61,219.29Z" fill="#d9d9d9"/>
<path d="M62.72,220.31A112.0,112.0 0 0 1 61.76,219.62L63.87,216.71A108.4,108.4 0 0 0 64.79,217.36Z" fill="#7f7f7f"/>
<path d="M61.76,219.62A112.0,112.0 0 0 1 61.76,219.62L63.87,216.70A108.4,108.4 0 0 0 63.87,216.71Z" fill="#d9d9d9"/>
<path d="M76.77,228.76A112.0,112.0 0 0 1 75.56,228.13L77.22,224.94A108.4,108.4 0 0 0 78.40,225.54Z" fill="#e8262b"/>
<path d="M86.23,233.00A112.0,112.0 0 0 1 61.76,219.62L63.87,216.70A108.4,108.4 0 0 0 87.55,229.65Z" fill="none" stroke="#000" stroke-width="0.55"/>
<path d="M85.06,235.98A115.2,115.2 0 0 1 59.89,222.22" fill="none" stroke="#000" stroke-width="0.6"/>
<line x1="85.06" y1="235.98" x2="84.29" y2="237.93" stroke="#000" stroke-width="0.5"/>
<text x="80.84" y="238.57" transform="rotate(22.9 80.84 238.57)" font-size="3.3" text-anchor="middle" dominant-baseline="central" fill="#000" stroke="#000" stroke-width="0.18">0Mb</text>
<line x1="81.45" y1="234.48" x2="80.94" y2="235.68" stroke="#000" stroke-width="0.5"/>
<line x1="77.90" y1="232.87" x2="77.34" y2="234.05" stroke="#000" stroke-width="0.5"/>
<line x1="74.41" y1="231.14" x2="73.81" y2="232.29" stroke="#000" stroke-width="0.5"/>
<line x1="70.97" y1="229.29" x2="70.34" y2="230.42" stroke="#000" stroke-width="0.5"/>
<line x1="67.60" y1="227.33" x2="66.52" y2="229.12" stroke="#000" stroke-width="0.5"/>
<text x="65.53" y="230.75" transform="rotate(31.2 65.53 230.75)" font-size="3.3" text-anchor="middle" dominant-baseline="central" fill="#000" stroke="#000" stroke-width="0.18">50Mb</text>
<line x1="64.30" y1="225.25" x2="63.59" y2="226.34" stroke="#000" stroke-width="0.5"/>
<line x1="61.07" y1="223.06" x2="60.33" y2="224.12" stroke="#000" stroke-width="0.5"/>
<text x="67.53" y="238.13" transform="rotate(28.7 67.53 238.13)" font-size="7.1" text-anchor="middle" dominant-baseline="central" fill="#000" stroke="#000" stroke-width="0.12">11</text>
<path d="M89.25,179.64L78.30,194.27L77.76,193.86L76.18,195.94L75.63,195.51L74.00,197.62L73.44,197.18L77.46,192.08L76.94,191.67L74.58,194.61L74.04,194.18L73.77,194.51L73.23,194.07L71.81,195.78L71.26,195.33L75.64,190.13L75.14,189.70L72.88,192.34L72.36,191.89L68.94,195.82L68.39,195.33L73.91,189.10L73.42,188.66L73.50,188.57L73.01,188.13L73.14,187.99L72.65,187.54L71.71,188.55L71.23,188.09L73.85,185.32L73.39,184.88L71.24,187.11L70.76,186.65L67.48,190.01L66.98,189.51L71.04,185.43L70.58,184.96L65.65,189.85L65.15,189.34L67.39,187.16L66.91,186.66L67.92,185.70L67.45,185.21L67.18,185.47L66.71,184.97L68.12,183.67L67.67,183.18L63.52,186.96L63.05,186.44L65.81,183.96L65.36,183.46L65.97,182.91L65.53,182.41L66.44,181.61L66.01,181.11L61.40,185.05L60.94,184.51L62.82,182.93L62.38,182.40L58.33,185.74L57.86,185.17L78.00,168.82A63.5,63.5 0 0 0 89.25,179.64Z" fill="#0a538f"/>
<path d="M82.70,188.38A74.42051282051283,74.42051282051283 0 0 1 69.52,175.71" fill="none" stroke="#9a9a9a" stroke-width="0.5" stroke-dasharray="2,1.8"/>
<path d="M76.22,197.04A85.24102564102564,85.24102564102564 0 0 1 61.12,182.53" fill="none" stroke="#9a9a9a" stroke-width="0.5" stroke-dasharray="2,1.8"/>
<path d="M69.74,205.70A96.06153846153846,96.06153846153846 0 0 1 52.72,189.35" fill="none" stroke="#9a9a9a" stroke-width="0.5" stroke-dasharray="2,1.8"/>
<line x1="79.05" y1="168.68" x2="45.75" y2="196.20" stroke="#ee2a2e" stroke-width="1.0"/>
<path d="M63.90,213.50A105.8,105.8 0 0 1 45.16,195.49L78.70,168.26A62.6,62.6 0 0 0 89.79,178.92Z" fill="none" stroke="#1a1a1a" stroke-width="0.6"/>
<path d="M60.19,218.46A112.0,112.0 0 0 1 40.35,199.39L43.14,197.12A108.4,108.4 0 0 0 62.34,215.58Z" fill="#f4f4f4"/>
<path d="M60.19,218.46A112.0,112.0 0 0 1 59.19,217.71L61.38,214.85A108.4,108.4 0 0 0 62.34,215.58Z" fill="#d9d9d9"/>
<path d="M59.19,217.71A112.0,112.0 0 0 1 58.57,217.23L60.78,214.39A108.4,108.4 0 0 0 61.38,214.85Z" fill="#b0b0b0"/>
<path d="M58.57,217.23A112.0,112.0 0 0 1 57.79,216.62L60.02,213.79A108.4,108.4 0 0 0 60.78,214.39Z" fill="#d9d9d9"/>
<path d="M57.79,216.62A112.0,112.0 0 0 1 57.13,216.10L59.39,213.29A108.4,108.4 0 0 0 60.02,213.79Z" fill="#d9d9d9"/>
<path d="M57.13,216.10A112.0,112.0 0 0 1 56.25,215.38L58.53,212.60A108.4,108.4 0 0 0 59.39,213.29Z" fill="#7f7f7f"/>
<path d="M55.21,214.51A112.0,112.0 0 0 1 54.60,214.00L56.94,211.26A108.4,108.4 0 0 0 57.52,211.76Z" fill="#d9d9d9"/>
<path d="M53.28,212.86A112.0,112.0 0 0 1 52.67,212.31L55.07,209.63A108.4,108.4 0 0 0 55.66,210.16Z" fill="#d9d9d9"/>
<path d="M52.67,212.31A112.0,112.0 0 0 1 51.62,211.36L54.05,208.71A108.4,108.4 0 0 0 55.07,209.63Z" fill="#000000"/>
<path d="M51.62,211.36A112.0,112.0 0 0 1 50.65,210.46L53.11,207.84A108.4,108.4 0 0 0 54.05,208.71Z" fill="#000000"/>
<path d="M50.65,210.46A112.0,112.0 0 0 1 49.62,209.49L52.12,206.89A108.4,108.4 0 0 0 53.11,207.84Z" fill="#b0b0b0"/>
<path d="M48.71,208.60A112.0,112.0 0 0 1 47.90,207.79L50.45,205.25A108.4,108.4 0 0 0 51.24,206.03Z" fill="#b0b0b0"/>
<path d="M47.90,207.79A112.0,112.0 0 0 1 47.34,207.22L49.91,204.70A108.4,108.4 0 0 0 50.45,205.25Z" fill="#d9d9d9"/>
<path d="M47.34,207.22A112.0,112.0 0 0 1 46.36,206.21L48.96,203.73A108.4,108.4 0 0 0 49.91,204.70Z" fill="#d9d9d9"/>
<path d="M45.59,205.40A112.0,112.0 0 0 1 45.02,204.79L47.67,202.35A108.4,108.4 0 0 0 48.22,202.94Z" fill="#000000"/>
<path d="M44.65,204.39A112.0,112.0 0 0 1 43.88,203.54L46.56,201.13A108.4,108.4 0 0 0 47.31,201.96Z" fill="#d9d9d9"/>
<path d="M43.88,203.54A112.0,112.0 0 0 1 43.48,203.09L46.18,200.70A108.4,108.4 0 0 0 46.56,201.13Z" fill="#b0b0b0"/>
<path d="M43.48,203.09A112.0,112.0 0 0 1 42.91,202.44L45.63,200.07A108.4,108.4 0 0 0 46.18,200.70Z" fill="#d9d9d9"/>
<path d="M42.91,202.44A112.0,112.0 0 0 1 42.32,201.76L45.05,199.41A108.4,108.4 0 0 0 45.63,200.07Z" fill="#d9d9d9"/>
<path d="M41.25,200.48A112.0,112.0 0 0 1 40.39,199.44L43.18,197.17A108.4,108.4 0 0 0 44.01,198.18Z" fill="#d9d9d9"/>
<path d="M40.39,199.44A112.0,112.0 0 0 1 40.35,199.39L43.14,197.12A108.4,108.4 0 0 0 43.18,197.17Z" fill="#000000"/>
<path d="M54.97,214.31A112.0,112.0 0 0 1 53.93,213.42L56.29,210.70A108.4,108.4 0 0 0 57.30,211.57Z" fill="#e8262b"/>
<path d="M60.19,218.46A112.0,112.0 0 0 1 40.35,199.39L43.14,197.12A108.4,108.4 0 0 0 62.34,215.58Z" fill="none" stroke="#000" stroke-width="0.55"/>
<path d="M58.27,221.03A115.2,115.2 0 0 1 37.86,201.41" fill="none" stroke="#000" stroke-width="0.6"/>
<line x1="58.27" y1="221.03" x2="57.01" y2="222.71" stroke="#000" stroke-width="0.5"/>
<text x="53.52" y="222.42" transform="rotate(38.2 53.52 222.42)" font-size="3.3" text-anchor="middle" dominant-baseline="central" fill="#000" stroke="#000" stroke-width="0.18">0Mb</text>
<line x1="55.18" y1="218.64" x2="54.37" y2="219.65" stroke="#000" stroke-width="0.5"/>
<line x1="52.19" y1="216.14" x2="51.34" y2="217.13" stroke="#000" stroke-width="0.5"/>
<line x1="49.27" y1="213.55" x2="48.39" y2="214.51" stroke="#000" stroke-width="0.5"/>
<line x1="46.45" y1="210.86" x2="45.53" y2="211.79" stroke="#000" stroke-width="0.5"/>
<line x1="43.72" y1="208.08" x2="42.19" y2="209.52" stroke="#000" stroke-width="0.5"/>
<text x="40.81" y="210.83" transform="rotate(46.5 40.81 210.83)" font-size="3.3" text-anchor="middle" dominant-baseline="central" fill="#000" stroke="#000" stroke-width="0.18">50Mb</text>
<line x1="41.08" y1="205.20" x2="40.11" y2="206.06" stroke="#000" stroke-width="0.5"/>
<line x1="38.54" y1="202.24" x2="37.54" y2="203.07" stroke="#000" stroke-width="0.5"/>
<text x="40.95" y="218.62" transform="rotate(43.9 40.95 218.62)" font-size="7.1" text-anchor="middle" dominant-baseline="central" fill="#000" stroke="#000" stroke-width="0.12">12</text>
<path d="M77.31,167.96L77.23,168.02L76.90,167.59L76.90,167.59L76.58,167.17L76.58,167.17L76.25,166.74L76.25,166.74L75.93,166.30L65.25,174.10L64.87,173.58L67.31,171.83L66.95,171.32L64.15,173.29L63.78,172.75L64.41,172.32L64.04,171.79L61.09,173.79L60.72,173.23L53.17,178.26L52.76,177.63L61.41,171.96L61.05,171.40L56.50,174.33L56.12,173.73L62.11,169.95L61.77,169.39L61.88,169.32L61.54,168.77L59.28,170.14L58.93,169.57L62.39,167.51L62.06,166.96L63.09,166.35L62.78,165.81L53.94,170.88L53.59,170.26L61.81,165.63L61.50,165.08L54.42,168.98L54.08,168.36L55.75,167.46L55.43,166.86L55.87,166.62L55.55,166.02L59.09,164.18L58.79,163.60L56.41,164.81L56.11,164.21L55.61,164.46L55.31,163.85L70.21,156.60A63.5,63.5 0 0 0 77.31,167.96Z" fill="#0a538f"/>
<path d="M68.71,174.69A74.42051282051283,74.42051282051283 0 0 1 60.39,161.38" fill="none" stroke="#9a9a9a" stroke-width="0.5" stroke-dasharray="2,1.8"/>
<path d="M60.20,181.36A85.24102564102564,85.24102564102564 0 0 1 50.66,166.12" fill="none" stroke="#9a9a9a" stroke-width="0.5" stroke-dasharray="2,1.8"/>
<path d="M51.68,188.04A96.06153846153846,96.06153846153846 0 0 1 40.93,170.86" fill="none" stroke="#9a9a9a" stroke-width="0.5" stroke-dasharray="2,1.8"/>
<path d="M44.01,194.04A105.8,105.8 0 0 1 32.18,175.12L71.02,156.21A62.6,62.6 0 0 0 78.02,167.40Z" fill="none" stroke="#1a1a1a" stroke-width="0.6"/>
<path d="M39.13,197.87A112.0,112.0 0 0 1 26.60,177.83L29.84,176.26A108.4,108.4 0 0 0 41.96,195.65Z" fill="#f4f4f4"/>
<path d="M39.13,197.87A112.0,112.0 0 0 1 38.32,196.81L41.18,194.63A108.4,108.4 0 0 0 41.96,195.65Z" fill="#7f7f7f"/>
<path d="M37.98,196.37A112.0,112.0 0 0 1 37.22,195.35L40.11,193.21A108.4,108.4 0 0 0 40.85,194.20Z" fill="#b0b0b0"/>
<path d="M37.22,195.35A112.0,112.0 0 0 1 36.69,194.64L39.61,192.52A108.4,108.4 0 0 0 40.11,193.21Z" fill="#d9d9d9"/>
<path d="M36.69,194.64A112.0,112.0 0 0 1 36.30,194.10L39.23,192.00A108.4,108.4 0 0 0 39.61,192.52Z" fill="#7f7f7f"/>
<path d="M36.30,194.10A112.0,112.0 0 0 1 35.79,193.38L38.73,191.30A108.4,108.4 0 0 0 39.23,192.00Z" fill="#000000"/>
<path d="M34.70,191.81A112.0,112.0 0 0 1 33.95,190.69L36.95,188.70A108.4,108.4 0 0 0 37.68,189.78Z" fill="#d9d9d9"/>
<path d="M33.64,190.22A112.0,112.0 0 0 1 33.18,189.51L36.20,187.55A108.4,108.4 0 0 0 36.65,188.25Z" fill="#d9d9d9"/>
<path d="M31.61,187.00A112.0,112.0 0 0 1 31.33,186.54L34.42,184.68A108.4,108.4 0 0 0 34.68,185.13Z" fill="#d9d9d9"/>
<path d="M30.60,185.30A112.0,112.0 0 0 1 30.27,184.74L33.39,182.94A108.4,108.4 0 0 0 33.71,183.49Z" fill="#b0b0b0"/>
<path d="M29.41,183.21A112.0,112.0 0 0 1 28.90,182.29L32.06,180.57A108.4,108.4 0 0 0 32.55,181.46Z" fill="#d9d9d9"/>
<path d="M28.90,182.29A112.0,112.0 0 0 1 28.24,181.05L31.42,179.37A108.4,108.4 0 0 0 32.06,180.57Z" fill="#000000"/>
<path d="M28.24,181.05A112.0,112.0 0 0 1 27.98,180.57L31.17,178.90A108.4,108.4 0 0 0 31.42,179.37Z" fill="#d9d9d9"/>
<path d="M27.98,180.57A112.0,112.0 0 0 1 27.42,179.47L30.63,177.84A108.4,108.4 0 0 0 31.17,178.90Z" fill="#000000"/>
<path d="M27.42,179.47A112.0,112.0 0 0 1 26.86,178.36L30.09,176.77A108.4,108.4 0 0 0 30.63,177.84Z" fill="#b0b0b0"/>
<path d="M37.32,195.50A112.0,112.0 0 0 1 36.52,194.39L39.43,192.28A108.4,108.4 0 0 0 40.22,193.35Z" fill="#e8262b"/>
<path d="M39.13,197.87A112.0,112.0 0 0 1 26.60,177.83L29.84,176.26A108.4,108.4 0 0 0 41.96,195.65Z" fill="none" stroke="#000" stroke-width="0.55"/>
<path d="M36.61,199.84A115.2,115.2 0 0 1 23.73,179.23" fill="none" stroke="#000" stroke-width="0.6"/>
<line x1="36.61" y1="199.84" x2="34.96" y2="201.13" stroke="#000" stroke-width="0.5"/>
<text x="31.66" y="199.94" transform="rotate(53.4 31.66 199.94)" font-size="3.3" text-anchor="middle" dominant-baseline="central" fill="#000" stroke="#000" stroke-width="0.18">0Mb</text>
<line x1="34.26" y1="196.73" x2="33.21" y2="197.49" stroke="#000" stroke-width="0.5"/>
<line x1="32.01" y1="193.54" x2="30.94" y2="194.27" stroke="#000" stroke-width="0.5"/>
<line x1="29.87" y1="190.28" x2="28.78" y2="190.97" stroke="#000" stroke-width="0.5"/>
<line x1="27.85" y1="186.94" x2="26.73" y2="187.60" stroke="#000" stroke-width="0.5"/>
<line x1="25.94" y1="183.54" x2="24.09" y2="184.54" stroke="#000" stroke-width="0.5"/>
<text x="22.42" y="185.44" transform="rotate(61.6 22.42 185.44)" font-size="3.3" text-anchor="middle" dominant-baseline="central" fill="#000" stroke="#000" stroke-width="0.18">50Mb</text>
<line x1="24.14" y1="180.08" x2="22.98" y2="180.66" stroke="#000" stroke-width="0.5"/>
<text x="21.65" y="194.86" transform="rotate(58.0 21.65 194.86)" font-size="7.1" text-anchor="middle" dominant-baseline="central" fill="#000" stroke="#000" stroke-width="0.12">13</text>
<path d="M69.73,155.60L69.64,155.64L69.42,155.17L69.42,155.17L69.21,154.69L69.21,154.69L69.00,154.21L69.00,154.21L68.79,153.73L54.29,159.90L54.04,159.30L53.76,159.41L53.51,158.81L53.48,158.82L53.23,158.21L57.01,156.71L56.78,156.13L45.09,160.66L44.83,159.99L51.01,157.65L50.78,157.02L55.39,155.32L55.17,154.72L51.53,156.03L51.31,155.41L52.45,155.01L52.24,154.39L51.20,154.74L50.99,154.11L47.62,155.23L47.40,154.58L51.76,153.17L51.56,152.54L50.00,153.04L49.80,152.40L50.30,152.24L50.11,151.61L45.68,152.92L45.48,152.25L51.76,150.45L51.59,149.82L49.50,150.40L49.32,149.76L49.28,149.77L49.11,149.13L49.71,148.97L49.55,148.33L47.87,148.75L47.71,148.10L65.59,143.76A63.5,63.5 0 0 0 69.73,155.60Z" fill="#0a538f"/>
<path d="M59.83,160.21A74.42051282051283,74.42051282051283 0 0 1 54.98,146.34" fill="none" stroke="#9a9a9a" stroke-width="0.5" stroke-dasharray="2,1.8"/>
<path d="M50.02,164.77A85.24102564102564,85.24102564102564 0 0 1 44.46,148.89" fill="none" stroke="#9a9a9a" stroke-width="0.5" stroke-dasharray="2,1.8"/>
<path d="M40.21,169.34A96.06153846153846,96.06153846153846 0 0 1 33.94,151.44" fill="none" stroke="#9a9a9a" stroke-width="0.5" stroke-dasharray="2,1.8"/>
<path d="M31.38,173.45A105.8,105.8 0 0 1 24.48,153.73L66.46,143.55A62.6,62.6 0 0 0 70.55,155.22Z" fill="none" stroke="#1a1a1a" stroke-width="0.6"/>
<path d="M25.76,176.07A112.0,112.0 0 0 1 18.45,155.19L21.95,154.34A108.4,108.4 0 0 0 29.03,174.55Z" fill="#f4f4f4"/>
<path d="M25.76,176.07A112.0,112.0 0 0 1 25.42,175.32L28.69,173.82A108.4,108.4 0 0 0 29.03,174.55Z" fill="#d9d9d9"/>
<path d="M24.59,173.47A112.0,112.0 0 0 1 24.05,172.20L27.37,170.80A108.4,108.4 0 0 0 27.89,172.03Z" fill="#d9d9d9"/>
<path d="M23.50,170.87A112.0,112.0 0 0 1 23.10,169.86L26.45,168.54A108.4,108.4 0 0 0 26.84,169.52Z" fill="#b0b0b0"/>
<path d="M22.13,167.32A112.0,112.0 0 0 1 21.70,166.12L25.09,164.92A108.4,108.4 0 0 0 25.51,166.08Z" fill="#d9d9d9"/>
<path d="M21.70,166.12A112.0,112.0 0 0 1 21.36,165.15L24.77,163.99A108.4,108.4 0 0 0 25.09,164.92Z" fill="#d9d9d9"/>
<path d="M21.36,165.15A112.0,112.0 0 0 1 21.03,164.17L24.45,163.04A108.4,108.4 0 0 0 24.77,163.99Z" fill="#b0b0b0"/>
<path d="M20.33,162.00A112.0,112.0 0 0 1 19.99,160.87L23.44,159.84A108.4,108.4 0 0 0 23.77,160.93Z" fill="#7f7f7f"/>
<path d="M19.64,159.68A112.0,112.0 0 0 1 19.31,158.49L22.78,157.53A108.4,108.4 0 0 0 23.10,158.69Z" fill="#000000"/>
<path d="M19.06,157.58A112.0,112.0 0 0 1 18.81,156.61L22.29,155.72A108.4,108.4 0 0 0 22.54,156.66Z" fill="#000000"/>
<path d="M18.65,155.99A112.0,112.0 0 0 1 18.45,155.19L21.95,154.34A108.4,108.4 0 0 0 22.14,155.12Z" fill="#b0b0b0"/>
<path d="M24.58,173.45A112.0,112.0 0 0 1 24.05,172.19L27.36,170.79A108.4,108.4 0 0 0 27.88,172.01Z" fill="#e8262b"/>
<path d="M25.76,176.07A112.0,112.0 0 0 1 18.45,155.19L21.95,154.34A108.4,108.4 0 0 0 29.03,174.55Z" fill="none" stroke="#000" stroke-width="0.55"/>
<path d="M22.86,177.42A115.2,115.2 0 0 1 15.34,155.95" fill="none" stroke="#000" stroke-width="0.6"/>
<line x1="22.86" y1="177.42" x2="20.96" y2="178.30" stroke="#000" stroke-width="0.5"/>
<text x="18.02" y="176.40" transform="rotate(66.5 18.02 176.40)" font-size="3.3" text-anchor="middle" dominant-baseline="central" fill="#000" stroke="#000" stroke-width="0.18">0Mb</text>
<line x1="21.28" y1="173.86" x2="20.08" y2="174.36" stroke="#000" stroke-width="0.5"/>
<line x1="19.81" y1="170.24" x2="18.60" y2="170.71" stroke="#000" stroke-width="0.5"/>
<line x1="18.47" y1="166.58" x2="17.24" y2="167.00" stroke="#000" stroke-width="0.5"/>
<line x1="17.25" y1="162.87" x2="16.01" y2="163.26" stroke="#000" stroke-width="0.5"/>
<line x1="16.16" y1="159.13" x2="14.14" y2="159.68" stroke="#000" stroke-width="0.5"/>
<text x="12.45" y="160.72" transform="rotate(74.5 12.45 160.72)" font-size="3.3" text-anchor="middle" dominant-baseline="central" fill="#000" stroke="#000" stroke-width="0.18">50Mb</text>
<text x="9.70" y="169.97" transform="rotate(70.7 9.70 169.97)" font-size="7.1" text-anchor="middle" dominant-baseline="central" fill="#000" stroke="#000" stroke-width="0.12">14</text>
<path d="M65.34,142.68L65.24,142.71L65.13,142.20L65.13,142.20L65.02,141.69L65.02,141.69L64.92,141.18L64.92,141.18L64.82,140.66L36.32,146.07L36.18,145.33L35.44,145.46L35.30,144.71L48.24,142.47L48.13,141.82L45.86,142.20L45.76,141.53L43.13,141.94L43.02,141.25L43.22,141.22L43.13,140.53L33.75,141.84L33.65,141.07L35.19,140.87L35.09,140.11L46.11,138.76L46.03,138.10L44.10,138.32L44.02,137.64L46.49,137.37L46.42,136.71L39.16,137.42L39.09,136.70L47.91,135.91L47.86,135.26L48.60,135.20L48.55,134.55L39.28,135.23L39.23,134.51L45.79,134.08L45.75,133.41L36.01,133.97L35.97,133.22L46.79,132.69L46.76,132.03L43.00,132.19L42.98,131.49L63.83,130.83A63.5,63.5 0 0 0 65.34,142.68Z" fill="#0a538f"/>
<path d="M54.68,145.07A74.42051282051283,74.42051282051283 0 0 1 52.92,131.18" fill="none" stroke="#9a9a9a" stroke-width="0.5" stroke-dasharray="2,1.8"/>
<path d="M44.12,147.44A85.24102564102564,85.24102564102564 0 0 1 42.10,131.52" fill="none" stroke="#9a9a9a" stroke-width="0.5" stroke-dasharray="2,1.8"/>
<path d="M33.56,149.80A96.06153846153846,96.06153846153846 0 0 1 31.29,131.87" fill="none" stroke="#9a9a9a" stroke-width="0.5" stroke-dasharray="2,1.8"/>
<line x1="64.75" y1="131.35" x2="21.59" y2="133.10" stroke="#ee2a2e" stroke-width="1.0"/>
<path d="M24.06,151.93A105.8,105.8 0 0 1 21.55,132.18L64.73,130.80A62.6,62.6 0 0 0 66.21,142.49Z" fill="none" stroke="#1a1a1a" stroke-width="0.6"/>
<path d="M18.01,153.29A112.0,112.0 0 0 1 15.36,132.38L18.96,132.26A108.4,108.4 0 0 0 21.52,152.50Z" fill="#f4f4f4"/>
<path d="M17.64,151.57A112.0,112.0 0 0 1 17.47,150.75L21.00,150.04A108.4,108.4 0 0 0 21.16,150.83Z" fill="#000000"/>
<path d="M17.47,150.75A112.0,112.0 0 0 1 17.25,149.59L20.78,148.92A108.4,108.4 0 0 0 21.00,150.04Z" fill="#000000"/>
<path d="M16.99,148.18A112.0,112.0 0 0 1 16.86,147.45L20.41,146.85A108.4,108.4 0 0 0 20.54,147.56Z" fill="#7f7f7f"/>
<path d="M16.40,144.42A112.0,112.0 0 0 1 16.32,143.89L19.89,143.41A108.4,108.4 0 0 0 19.96,143.92Z" fill="#000000"/>
<path d="M16.32,143.89A112.0,112.0 0 0 1 16.22,143.09L19.79,142.63A108.4,108.4 0 0 0 19.89,143.41Z" fill="#000000"/>
<path d="M16.22,143.09A112.0,112.0 0 0 1 16.14,142.46L19.71,142.02A108.4,108.4 0 0 0 19.79,142.63Z" fill="#d9d9d9"/>
<path d="M16.14,142.46A112.0,112.0 0 0 1 16.06,141.82L19.64,141.41A108.4,108.4 0 0 0 19.71,142.02Z" fill="#d9d9d9"/>
<path d="M16.06,141.82A112.0,112.0 0 0 1 15.98,141.14L19.56,140.75A108.4,108.4 0 0 0 19.64,141.41Z" fill="#b0b0b0"/>
<path d="M15.98,141.14A112.0,112.0 0 0 1 15.91,140.49L19.49,140.12A108.4,108.4 0 0 0 19.56,140.75Z" fill="#b0b0b0"/>
<path d="M15.81,139.51A112.0,112.0 0 0 1 15.74,138.67L19.32,138.35A108.4,108.4 0 0 0 19.40,139.17Z" fill="#d9d9d9"/>
<path d="M15.62,137.30A112.0,112.0 0 0 1 15.57,136.59L19.16,136.34A108.4,108.4 0 0 0 19.21,137.03Z" fill="#000000"/>
<path d="M15.57,136.59A112.0,112.0 0 0 1 15.49,135.25L19.08,135.04A108.4,108.4 0 0 0 19.16,136.34Z" fill="#b0b0b0"/>
<path d="M15.41,133.72A112.0,112.0 0 0 1 15.38,133.16L18.98,133.02A108.4,108.4 0 0 0 19.00,133.56Z" fill="#d9d9d9"/>
<path d="M15.38,133.16A112.0,112.0 0 0 1 15.36,132.38L18.96,132.26A108.4,108.4 0 0 0 18.98,133.02Z" fill="#d9d9d9"/>
<path d="M17.35,150.11A112.0,112.0 0 0 1 17.09,148.76L20.64,148.12A108.4,108.4 0 0 0 20.88,149.42Z" fill="#e8262b"/>
<path d="M18.01,153.29A112.0,112.0 0 0 1 15.36,132.38L18.96,132.26A108.4,108.4 0 0 0 21.52,152.50Z" fill="none" stroke="#000" stroke-width="0.55"/>
<path d="M14.89,153.99A115.2,115.2 0 0 1 12.16,132.48" fill="none" stroke="#000" stroke-width="0.6"/>
<line x1="14.89" y1="153.99" x2="12.84" y2="154.45" stroke="#000" stroke-width="0.5"/>
<text x="10.37" y="151.96" transform="rotate(78.8 10.37 151.96)" font-size="3.3" text-anchor="middle" dominant-baseline="central" fill="#000" stroke="#000" stroke-width="0.18">0Mb</text>
<line x1="14.10" y1="150.17" x2="12.82" y2="150.41" stroke="#000" stroke-width="0.5"/>
<line x1="13.44" y1="146.32" x2="12.16" y2="146.52" stroke="#000" stroke-width="0.5"/>
<line x1="12.91" y1="142.46" x2="11.62" y2="142.61" stroke="#000" stroke-width="0.5"/>
<line x1="12.52" y1="138.58" x2="11.22" y2="138.69" stroke="#000" stroke-width="0.5"/>
<line x1="12.25" y1="134.69" x2="10.15" y2="134.79" stroke="#000" stroke-width="0.5"/>
<text x="8.35" y="136.56" transform="rotate(86.3 8.35 136.56)" font-size="3.3" text-anchor="middle" dominant-baseline="central" fill="#000" stroke="#000" stroke-width="0.18">50Mb</text>
<text x="3.69" y="144.48" transform="rotate(82.8 3.69 144.48)" font-size="7.1" text-anchor="middle" dominant-baseline="central" fill="#000" stroke="#000" stroke-width="0.12">15</text>
<path d="M63.81,129.72L42.79,130.02L42.78,129.32L43.36,129.32L43.36,128.62L45.76,128.62L45.77,127.94L47.70,127.96L47.71,127.30L49.45,127.33L49.46,126.68L44.47,126.54L44.49,125.85L50.01,126.05L50.03,125.40L44.03,125.14L44.06,124.44L63.79,125.48L63.82,124.95L63.82,124.95L63.85,124.42L48.14,123.33L48.19,122.67L43.44,122.30L43.49,121.60L50.08,122.17L50.14,121.52L49.31,121.44L49.37,120.79L47.09,120.56L47.16,119.89L42.65,119.39L42.73,118.68L38.04,118.12L38.14,117.38L48.33,118.68L48.41,118.02L34.37,116.10L34.48,115.33L48.81,117.41L48.90,116.75L64.54,119.16A63.5,63.5 0 0 0 63.81,129.72Z" fill="#0a538f"/>
<path d="M52.89,129.88A74.42051282051283,74.42051282051283 0 0 1 53.74,117.50" fill="none" stroke="#9a9a9a" stroke-width="0.5" stroke-dasharray="2,1.8"/>
<path d="M42.07,130.04A85.24102564102564,85.24102564102564 0 0 1 43.05,115.85" fill="none" stroke="#9a9a9a" stroke-width="0.5" stroke-dasharray="2,1.8"/>
<path d="M31.25,130.19A96.06153846153846,96.06153846153846 0 0 1 32.35,114.21" fill="none" stroke="#9a9a9a" stroke-width="0.5" stroke-dasharray="2,1.8"/>
<line x1="65.35" y1="119.83" x2="22.59" y2="113.65" stroke="#ee2a2e" stroke-width="1.0"/>
<path d="M21.51,130.33A105.8,105.8 0 0 1 22.73,112.73L65.43,119.29A62.6,62.6 0 0 0 64.71,129.71Z" fill="none" stroke="#1a1a1a" stroke-width="0.6"/>
<path d="M15.31,130.42A112.0,112.0 0 0 1 16.60,111.79L20.16,112.34A108.4,108.4 0 0 0 18.91,130.37Z" fill="#f4f4f4"/>
<path d="M15.30,129.68A112.0,112.0 0 0 1 15.30,128.40L18.90,128.41A108.4,108.4 0 0 0 18.90,129.65Z" fill="#d9d9d9"/>
<path d="M15.30,128.40A112.0,112.0 0 0 1 15.31,127.29L18.91,127.34A108.4,108.4 0 0 0 18.90,128.41Z" fill="#7f7f7f"/>
<path d="M15.31,127.29A112.0,112.0 0 0 1 15.34,125.94L18.94,126.03A108.4,108.4 0 0 0 18.91,127.34Z" fill="#000000"/>
<path d="M15.35,125.38A112.0,112.0 0 0 1 15.40,124.09L19.00,124.24A108.4,108.4 0 0 0 18.95,125.49Z" fill="#7f7f7f"/>
<path d="M15.47,122.71A112.0,112.0 0 0 1 15.52,121.86L19.11,122.08A108.4,108.4 0 0 0 19.06,122.90Z" fill="#7f7f7f"/>
<path d="M15.52,121.86A112.0,112.0 0 0 1 15.58,120.86L19.17,121.11A108.4,108.4 0 0 0 19.11,122.08Z" fill="#d9d9d9"/>
<path d="M15.63,120.26A112.0,112.0 0 0 1 15.75,118.82L19.33,119.14A108.4,108.4 0 0 0 19.22,120.53Z" fill="#b0b0b0"/>
<path d="M15.75,118.82A112.0,112.0 0 0 1 15.83,117.89L19.42,118.24A108.4,108.4 0 0 0 19.33,119.14Z" fill="#d9d9d9"/>
<path d="M15.83,117.89A112.0,112.0 0 0 1 15.96,116.63L19.54,117.02A108.4,108.4 0 0 0 19.42,118.24Z" fill="#7f7f7f"/>
<path d="M15.96,116.63A112.0,112.0 0 0 1 16.04,115.98L19.61,116.39A108.4,108.4 0 0 0 19.54,117.02Z" fill="#b0b0b0"/>
<path d="M16.04,115.98A112.0,112.0 0 0 1 16.14,115.13L19.71,115.56A108.4,108.4 0 0 0 19.61,116.39Z" fill="#d9d9d9"/>
<path d="M16.57,112.00A112.0,112.0 0 0 1 16.60,111.79L20.16,112.34A108.4,108.4 0 0 0 20.13,112.54Z" fill="#b0b0b0"/>
<path d="M15.43,123.49A112.0,112.0 0 0 1 15.50,122.13L19.09,122.34A108.4,108.4 0 0 0 19.02,123.66Z" fill="#e8262b"/>
<path d="M15.31,130.42A112.0,112.0 0 0 1 16.60,111.79L20.16,112.34A108.4,108.4 0 0 0 18.91,130.37Z" fill="none" stroke="#000" stroke-width="0.55"/>
<path d="M12.11,130.47A115.2,115.2 0 0 1 13.44,111.30" fill="none" stroke="#000" stroke-width="0.6"/>
<line x1="12.11" y1="130.47" x2="10.01" y2="130.50" stroke="#000" stroke-width="0.5"/>
<text x="8.11" y="127.56" transform="rotate(-89.4 8.11 127.56)" font-size="3.3" text-anchor="middle" dominant-baseline="central" fill="#000" stroke="#000" stroke-width="0.18">0Mb</text>
<line x1="12.12" y1="126.57" x2="10.82" y2="126.54" stroke="#000" stroke-width="0.5"/>
<line x1="12.26" y1="122.67" x2="10.96" y2="122.60" stroke="#000" stroke-width="0.5"/>
<line x1="12.54" y1="118.78" x2="11.24" y2="118.67" stroke="#000" stroke-width="0.5"/>
<line x1="12.94" y1="114.90" x2="11.65" y2="114.74" stroke="#000" stroke-width="0.5"/>
<text x="3.00" y="120.21" transform="rotate(-86.0 3.00 120.21)" font-size="7.1" text-anchor="middle" dominant-baseline="central" fill="#000" stroke="#000" stroke-width="0.12">16</text>
<path d="M64.71,118.06L46.56,114.95L46.67,114.29L34.75,112.15L34.88,111.40L47.35,113.75L47.47,113.10L41.02,111.83L41.16,111.13L44.29,111.77L44.43,111.10L30.48,108.12L30.66,107.34L41.64,109.78L41.79,109.09L41.26,108.96L41.42,108.27L49.27,110.14L49.42,109.51L46.08,108.68L46.24,108.03L46.97,108.21L47.14,107.56L49.31,108.14L49.48,107.51L48.06,107.12L48.24,106.48L47.41,106.24L47.59,105.60L49.06,106.02L49.24,105.39L48.38,105.13L48.57,104.49L39.81,101.79L40.03,101.08L47.32,103.39L47.53,102.75L47.60,102.77L47.81,102.12L67.10,108.60A63.5,63.5 0 0 0 64.71,118.06Z" fill="#0a538f"/>
<path d="M53.95,116.22A74.42051282051283,74.42051282051283 0 0 1 56.75,105.12" fill="none" stroke="#9a9a9a" stroke-width="0.5" stroke-dasharray="2,1.8"/>
<path d="M43.29,114.39A85.24102564102564,85.24102564102564 0 0 1 46.49,101.68" fill="none" stroke="#9a9a9a" stroke-width="0.5" stroke-dasharray="2,1.8"/>
<path d="M32.62,112.56A96.06153846153846,96.06153846153846 0 0 1 36.23,98.24" fill="none" stroke="#9a9a9a" stroke-width="0.5" stroke-dasharray="2,1.8"/>
<line x1="67.78" y1="109.40" x2="26.71" y2="96.02" stroke="#ee2a2e" stroke-width="1.0"/>
<path d="M23.02,110.91A105.8,105.8 0 0 1 27.00,95.14L67.95,108.88A62.6,62.6 0 0 0 65.60,118.21Z" fill="none" stroke="#1a1a1a" stroke-width="0.6"/>
<path d="M16.91,109.86A112.0,112.0 0 0 1 21.12,93.17L24.53,94.31A108.4,108.4 0 0 0 20.46,110.47Z" fill="#f4f4f4"/>
<path d="M17.08,108.91A112.0,112.0 0 0 1 17.29,107.77L20.83,108.44A108.4,108.4 0 0 0 20.62,109.55Z" fill="#d9d9d9"/>
<path d="M17.29,107.77A112.0,112.0 0 0 1 17.50,106.73L21.03,107.44A108.4,108.4 0 0 0 20.83,108.44Z" fill="#000000"/>
<path d="M17.50,106.73A112.0,112.0 0 0 1 17.76,105.47L21.28,106.22A108.4,108.4 0 0 0 21.03,107.44Z" fill="#000000"/>
<path d="M18.62,101.72A112.0,112.0 0 0 1 18.81,100.99L22.30,101.88A108.4,108.4 0 0 0 22.12,102.59Z" fill="#000000"/>
<path d="M18.81,100.99A112.0,112.0 0 0 1 19.07,99.99L22.55,100.91A108.4,108.4 0 0 0 22.30,101.88Z" fill="#d9d9d9"/>
<path d="M19.31,99.11A112.0,112.0 0 0 1 19.52,98.34L22.99,99.32A108.4,108.4 0 0 0 22.78,100.06Z" fill="#000000"/>
<path d="M19.52,98.34A112.0,112.0 0 0 1 19.87,97.12L23.33,98.14A108.4,108.4 0 0 0 22.99,99.32Z" fill="#000000"/>
<path d="M20.09,96.40A112.0,112.0 0 0 1 20.25,95.86L23.70,96.92A108.4,108.4 0 0 0 23.54,97.44Z" fill="#d9d9d9"/>
<path d="M20.25,95.86A112.0,112.0 0 0 1 20.51,95.03L23.94,96.12A108.4,108.4 0 0 0 23.70,96.92Z" fill="#d9d9d9"/>
<path d="M20.51,95.03A112.0,112.0 0 0 1 20.81,94.10L24.23,95.22A108.4,108.4 0 0 0 23.94,96.12Z" fill="#d9d9d9"/>
<path d="M20.81,94.10A112.0,112.0 0 0 1 21.08,93.29L24.49,94.43A108.4,108.4 0 0 0 24.23,95.22Z" fill="#7f7f7f"/>
<path d="M21.08,93.29A112.0,112.0 0 0 1 21.12,93.17L24.53,94.31A108.4,108.4 0 0 0 24.49,94.43Z" fill="#000000"/>
<path d="M17.76,105.43A112.0,112.0 0 0 1 18.06,104.10L21.57,104.89A108.4,108.4 0 0 0 21.29,106.18Z" fill="#e8262b"/>
<path d="M16.91,109.86A112.0,112.0 0 0 1 21.12,93.17L24.53,94.31A108.4,108.4 0 0 0 20.46,110.47Z" fill="none" stroke="#000" stroke-width="0.55"/>
<path d="M13.76,109.32A115.2,115.2 0 0 1 18.09,92.15" fill="none" stroke="#000" stroke-width="0.6"/>
<line x1="13.76" y1="109.32" x2="11.69" y2="108.97" stroke="#000" stroke-width="0.5"/>
<text x="10.36" y="105.72" transform="rotate(-78.8 10.36 105.72)" font-size="3.3" text-anchor="middle" dominant-baseline="central" fill="#000" stroke="#000" stroke-width="0.18">0Mb</text>
<line x1="14.48" y1="105.49" x2="13.21" y2="105.22" stroke="#000" stroke-width="0.5"/>
<line x1="15.34" y1="101.68" x2="14.07" y2="101.38" stroke="#000" stroke-width="0.5"/>
<line x1="16.32" y1="97.91" x2="15.07" y2="97.56" stroke="#000" stroke-width="0.5"/>
<line x1="17.43" y1="94.17" x2="16.19" y2="93.78" stroke="#000" stroke-width="0.5"/>
<text x="6.48" y="98.35" transform="rotate(-75.9 6.48 98.35)" font-size="7.1" text-anchor="middle" dominant-baseline="central" fill="#000" stroke="#000" stroke-width="0.12">17</text>
<path d="M67.46,107.55L44.14,99.27L44.39,98.58L48.61,100.12L48.85,99.48L52.59,100.87L52.82,100.26L56.10,101.51L56.33,100.93L55.73,100.69L55.97,100.10L52.74,98.81L52.99,98.19L56.33,99.57L56.58,98.98L51.80,96.97L52.06,96.35L53.77,97.08L54.04,96.48L51.31,95.28L51.59,94.65L54.31,95.88L54.58,95.27L58.54,97.10L58.80,96.53L60.55,97.36L60.81,96.81L59.61,96.22L59.88,95.67L59.41,95.44L59.69,94.88L49.65,89.84L49.97,89.20L49.36,88.89L49.69,88.25L59.63,93.44L59.93,92.89L71.26,98.93A63.5,63.5 0 0 0 67.46,107.55Z" fill="#0a538f"/>
<path d="M57.17,103.90A74.42051282051283,74.42051282051283 0 0 1 61.63,93.79" fill="none" stroke="#9a9a9a" stroke-width="0.5" stroke-dasharray="2,1.8"/>
<path d="M46.97,100.27A85.24102564102564,85.24102564102564 0 0 1 52.08,88.70" fill="none" stroke="#9a9a9a" stroke-width="0.5" stroke-dasharray="2,1.8"/>
<path d="M36.78,96.65A96.06153846153846,96.06153846153846 0 0 1 42.53,83.61" fill="none" stroke="#9a9a9a" stroke-width="0.5" stroke-dasharray="2,1.8"/>
<line x1="71.80" y1="99.84" x2="33.51" y2="79.85" stroke="#ee2a2e" stroke-width="1.0"/>
<path d="M27.60,93.39A105.8,105.8 0 0 1 33.94,79.03L72.06,99.35A62.6,62.6 0 0 0 68.31,107.85Z" fill="none" stroke="#1a1a1a" stroke-width="0.6"/>
<path d="M21.76,91.32A112.0,112.0 0 0 1 28.47,76.11L31.64,77.81A108.4,108.4 0 0 0 25.15,92.52Z" fill="#f4f4f4"/>
<path d="M21.76,91.32A112.0,112.0 0 0 1 22.00,90.64L25.39,91.86A108.4,108.4 0 0 0 25.15,92.52Z" fill="#d9d9d9"/>
<path d="M22.00,90.64A112.0,112.0 0 0 1 22.21,90.07L25.59,91.31A108.4,108.4 0 0 0 25.39,91.86Z" fill="#d9d9d9"/>
<path d="M22.21,90.07A112.0,112.0 0 0 1 22.63,88.95L25.99,90.23A108.4,108.4 0 0 0 25.59,91.31Z" fill="#d9d9d9"/>
<path d="M23.52,86.68A112.0,112.0 0 0 1 24.05,85.41L27.37,86.80A108.4,108.4 0 0 0 26.86,88.03Z" fill="#000000"/>
<path d="M24.05,85.41A112.0,112.0 0 0 1 24.60,84.13L27.90,85.56A108.4,108.4 0 0 0 27.37,86.80Z" fill="#d9d9d9"/>
<path d="M24.91,83.40A112.0,112.0 0 0 1 25.41,82.29L28.69,83.79A108.4,108.4 0 0 0 28.20,84.86Z" fill="#d9d9d9"/>
<path d="M25.99,81.04A112.0,112.0 0 0 1 26.41,80.17L29.65,81.73A108.4,108.4 0 0 0 29.25,82.57Z" fill="#000000"/>
<path d="M26.41,80.17A112.0,112.0 0 0 1 26.88,79.20L30.11,80.79A108.4,108.4 0 0 0 29.65,81.73Z" fill="#d9d9d9"/>
<path d="M27.15,78.66A112.0,112.0 0 0 1 27.50,77.98L30.70,79.61A108.4,108.4 0 0 0 30.37,80.27Z" fill="#000000"/>
<path d="M22.85,88.37A112.0,112.0 0 0 1 23.35,87.10L26.69,88.44A108.4,108.4 0 0 0 26.21,89.67Z" fill="#e8262b"/>
<path d="M21.76,91.32A112.0,112.0 0 0 1 28.47,76.11L31.64,77.81A108.4,108.4 0 0 0 25.15,92.52Z" fill="none" stroke="#000" stroke-width="0.55"/>
<path d="M18.74,90.25A115.2,115.2 0 0 1 25.64,74.61" fill="none" stroke="#000" stroke-width="0.6"/>
<line x1="18.74" y1="90.25" x2="16.76" y2="89.55" stroke="#000" stroke-width="0.5"/>
<text x="16.00" y="86.12" transform="rotate(-69.0 16.00 86.12)" font-size="3.3" text-anchor="middle" dominant-baseline="central" fill="#000" stroke="#000" stroke-width="0.18">0Mb</text>
<line x1="20.11" y1="86.60" x2="18.90" y2="86.12" stroke="#000" stroke-width="0.5"/>
<line x1="21.60" y1="82.99" x2="20.41" y2="82.47" stroke="#000" stroke-width="0.5"/>
<line x1="23.21" y1="79.44" x2="22.04" y2="78.88" stroke="#000" stroke-width="0.5"/>
<line x1="24.94" y1="75.94" x2="23.79" y2="75.35" stroke="#000" stroke-width="0.5"/>
<text x="13.30" y="78.51" transform="rotate(-66.2 13.30 78.51)" font-size="7.1" text-anchor="middle" dominant-baseline="central" fill="#000" stroke="#000" stroke-width="0.12">18</text>
<path d="M71.79,97.96L60.83,91.86L61.14,91.31L62.77,92.24L63.08,91.70L65.06,92.84L65.36,92.32L61.72,90.18L62.04,89.63L56.09,86.06L56.44,85.47L58.67,86.83L59.02,86.26L62.77,88.60L63.11,88.06L61.46,87.01L61.82,86.47L53.51,81.10L53.91,80.49L60.86,85.06L61.22,84.51L59.79,83.55L60.17,82.99L59.03,82.20L59.42,81.64L57.38,80.22L57.79,79.64L75.45,92.13A63.5,63.5 0 0 0 71.79,97.96Z" fill="#0a538f"/>
<path d="M62.25,92.65A74.42051282051283,74.42051282051283 0 0 1 66.54,85.83" fill="none" stroke="#9a9a9a" stroke-width="0.5" stroke-dasharray="2,1.8"/>
<path d="M52.79,87.39A85.24102564102564,85.24102564102564 0 0 1 57.70,79.58" fill="none" stroke="#9a9a9a" stroke-width="0.5" stroke-dasharray="2,1.8"/>
<path d="M43.33,82.14A96.06153846153846,96.06153846153846 0 0 1 48.87,73.33" fill="none" stroke="#9a9a9a" stroke-width="0.5" stroke-dasharray="2,1.8"/>
<line x1="75.88" y1="93.10" x2="40.39" y2="68.47" stroke="#ee2a2e" stroke-width="1.0"/>
<path d="M34.82,77.41A105.8,105.8 0 0 1 40.92,67.71L76.19,92.65A62.6,62.6 0 0 0 72.58,98.39Z" fill="none" stroke="#1a1a1a" stroke-width="0.6"/>
<path d="M29.40,74.40A112.0,112.0 0 0 1 35.86,64.13L38.80,66.21A108.4,108.4 0 0 0 32.55,76.15Z" fill="#f4f4f4"/>
<path d="M30.58,72.32A112.0,112.0 0 0 1 31.26,71.18L34.35,73.03A108.4,108.4 0 0 0 33.69,74.14Z" fill="#d9d9d9"/>
<path d="M31.96,70.03A112.0,112.0 0 0 1 32.70,68.84L35.74,70.77A108.4,108.4 0 0 0 35.02,71.92Z" fill="#d9d9d9"/>
<path d="M32.70,68.84A112.0,112.0 0 0 1 33.38,67.79L36.40,69.75A108.4,108.4 0 0 0 35.74,70.77Z" fill="#d9d9d9"/>
<path d="M35.12,65.18A112.0,112.0 0 0 1 35.63,64.45L38.58,66.52A108.4,108.4 0 0 0 38.09,67.22Z" fill="#d9d9d9"/>
<path d="M35.63,64.45A112.0,112.0 0 0 1 35.86,64.13L38.80,66.21A108.4,108.4 0 0 0 38.58,66.52Z" fill="#000000"/>
<path d="M31.79,70.30A112.0,112.0 0 0 1 32.51,69.14L35.56,71.06A108.4,108.4 0 0 0 34.86,72.18Z" fill="#e8262b"/>
<path d="M29.40,74.40A112.0,112.0 0 0 1 35.86,64.13L38.80,66.21A108.4,108.4 0 0 0 32.55,76.15Z" fill="none" stroke="#000" stroke-width="0.55"/>
<path d="M26.60,72.84A115.2,115.2 0 0 1 33.24,62.28" fill="none" stroke="#000" stroke-width="0.6"/>
<line x1="26.60" y1="72.84" x2="24.77" y2="71.82" stroke="#000" stroke-width="0.5"/>
<text x="24.58" y="68.32" transform="rotate(-59.5 24.58 68.32)" font-size="3.3" text-anchor="middle" dominant-baseline="central" fill="#000" stroke="#000" stroke-width="0.18">0Mb</text>
<line x1="28.56" y1="69.47" x2="27.44" y2="68.80" stroke="#000" stroke-width="0.5"/>
<line x1="30.62" y1="66.16" x2="29.53" y2="65.45" stroke="#000" stroke-width="0.5"/>
<line x1="32.80" y1="62.92" x2="31.73" y2="62.18" stroke="#000" stroke-width="0.5"/>
<text x="21.82" y="62.47" transform="rotate(-57.8 21.82 62.47)" font-size="7.1" text-anchor="middle" dominant-baseline="central" fill="#000" stroke="#000" stroke-width="0.12">19</text>
<path d="M76.10,91.24L51.76,73.38L52.24,72.74L54.60,74.50L55.07,73.89L62.00,79.16L62.42,78.60L63.95,79.78L64.37,79.24L63.66,78.69L64.09,78.15L66.77,80.30L67.19,79.79L63.80,77.03L64.25,76.49L68.17,79.75L68.59,79.25L69.66,80.15L70.08,79.66L71.55,80.92L71.96,80.45L67.51,76.57L67.96,76.06L69.76,77.66L70.20,77.17L71.34,78.21L71.77,77.73L69.96,76.07L70.41,75.58L80.93,85.42A63.5,63.5 0 0 0 76.10,91.24Z" fill="#0a538f"/>
<path d="M67.30,84.78A74.42051282051283,74.42051282051283 0 0 1 72.95,77.96" fill="none" stroke="#9a9a9a" stroke-width="0.5" stroke-dasharray="2,1.8"/>
<path d="M58.57,78.37A85.24102564102564,85.24102564102564 0 0 1 65.05,70.57" fill="none" stroke="#9a9a9a" stroke-width="0.5" stroke-dasharray="2,1.8"/>
<path d="M49.85,71.97A96.06153846153846,96.06153846153846 0 0 1 57.15,63.17" fill="none" stroke="#9a9a9a" stroke-width="0.5" stroke-dasharray="2,1.8"/>
<line x1="81.21" y1="86.43" x2="49.41" y2="57.20" stroke="#ee2a2e" stroke-width="1.0"/>
<path d="M42.00,66.21A105.8,105.8 0 0 1 50.04,56.52L81.59,86.03A62.6,62.6 0 0 0 76.83,91.77Z" fill="none" stroke="#1a1a1a" stroke-width="0.6"/>
<path d="M37.00,62.54A112.0,112.0 0 0 1 45.51,52.29L48.14,54.75A108.4,108.4 0 0 0 39.90,64.67Z" fill="#f4f4f4"/>
<path d="M37.00,62.54A112.0,112.0 0 0 1 37.38,62.03L40.27,64.17A108.4,108.4 0 0 0 39.90,64.67Z" fill="#7f7f7f"/>
<path d="M37.38,62.03A112.0,112.0 0 0 1 38.22,60.92L41.08,63.10A108.4,108.4 0 0 0 40.27,64.17Z" fill="#000000"/>
<path d="M38.22,60.92A112.0,112.0 0 0 1 38.96,59.96L41.80,62.17A108.4,108.4 0 0 0 41.08,63.10Z" fill="#7f7f7f"/>
<path d="M38.96,59.96A112.0,112.0 0 0 1 39.74,58.96L42.55,61.21A108.4,108.4 0 0 0 41.80,62.17Z" fill="#d9d9d9"/>
<path d="M39.74,58.96A112.0,112.0 0 0 1 40.32,58.24L43.11,60.51A108.4,108.4 0 0 0 42.55,61.21Z" fill="#7f7f7f"/>
<path d="M40.32,58.24A112.0,112.0 0 0 1 41.11,57.28L43.88,59.58A108.4,108.4 0 0 0 43.11,60.51Z" fill="#000000"/>
<path d="M41.11,57.28A112.0,112.0 0 0 1 41.62,56.67L44.37,58.99A108.4,108.4 0 0 0 43.88,59.58Z" fill="#000000"/>
<path d="M41.62,56.67A112.0,112.0 0 0 1 42.28,55.90L45.01,58.24A108.4,108.4 0 0 0 44.37,58.99Z" fill="#000000"/>
<path d="M42.28,55.90A112.0,112.0 0 0 1 42.68,55.42L45.40,57.78A108.4,108.4 0 0 0 45.01,58.24Z" fill="#000000"/>
<path d="M44.38,53.52A112.0,112.0 0 0 1 44.85,53.00L47.50,55.44A108.4,108.4 0 0 0 47.04,55.94Z" fill="#d9d9d9"/>
<path d="M44.85,53.00A112.0,112.0 0 0 1 45.35,52.46L47.98,54.91A108.4,108.4 0 0 0 47.50,55.44Z" fill="#d9d9d9"/>
<path d="M45.35,52.46A112.0,112.0 0 0 1 45.51,52.29L48.14,54.75A108.4,108.4 0 0 0 47.98,54.91Z" fill="#b0b0b0"/>
<path d="M40.13,58.48A112.0,112.0 0 0 1 40.99,57.42L43.77,59.71A108.4,108.4 0 0 0 42.93,60.74Z" fill="#e8262b"/>
<path d="M37.00,62.54A112.0,112.0 0 0 1 45.51,52.29L48.14,54.75A108.4,108.4 0 0 0 39.90,64.67Z" fill="none" stroke="#000" stroke-width="0.55"/>
<path d="M34.42,60.65A115.2,115.2 0 0 1 43.17,50.10" fill="none" stroke="#000" stroke-width="0.6"/>
<line x1="34.42" y1="60.65" x2="32.73" y2="59.41" stroke="#000" stroke-width="0.5"/>
<text x="32.98" y="55.91" transform="rotate(-52.3 32.98 55.91)" font-size="3.3" text-anchor="middle" dominant-baseline="central" fill="#000" stroke="#000" stroke-width="0.18">0Mb</text>
<line x1="36.78" y1="57.55" x2="35.76" y2="56.74" stroke="#000" stroke-width="0.5"/>
<line x1="39.24" y1="54.52" x2="38.25" y2="53.68" stroke="#000" stroke-width="0.5"/>
<line x1="41.81" y1="51.58" x2="40.84" y2="50.71" stroke="#000" stroke-width="0.5"/>
<text x="31.40" y="49.24" transform="rotate(-50.3 31.40 49.24)" font-size="7.1" text-anchor="middle" dominant-baseline="central" fill="#000" stroke="#000" stroke-width="0.12">20</text>
<path d="M81.69,84.62L81.62,84.55L82.00,84.15L82.00,84.15L82.39,83.76L82.39,83.76L82.78,83.38L71.85,72.22L72.34,71.75L74.97,74.48L75.44,74.03L76.69,75.34L77.15,74.91L78.91,76.80L79.36,76.39L76.34,73.08L76.82,72.65L77.55,73.46L78.03,73.03L71.81,65.98L72.35,65.51L85.67,80.85A63.5,63.5 0 0 0 81.69,84.62Z" fill="#0a538f"/>
<path d="M73.85,77.02A74.42051282051283,74.42051282051283 0 0 1 78.51,72.60" fill="none" stroke="#9a9a9a" stroke-width="0.5" stroke-dasharray="2,1.8"/>
<path d="M66.08,69.49A85.24102564102564,85.24102564102564 0 0 1 71.42,64.43" fill="none" stroke="#9a9a9a" stroke-width="0.5" stroke-dasharray="2,1.8"/>
<path d="M58.31,61.96A96.06153846153846,96.06153846153846 0 0 1 64.32,56.26" fill="none" stroke="#9a9a9a" stroke-width="0.5" stroke-dasharray="2,1.8"/>
<line x1="85.85" y1="81.89" x2="57.25" y2="49.52" stroke="#ee2a2e" stroke-width="1.0"/>
<path d="M51.31,55.18A105.8,105.8 0 0 1 57.94,48.91L86.26,81.53A62.6,62.6 0 0 0 82.34,85.24Z" fill="none" stroke="#1a1a1a" stroke-width="0.6"/>
<path d="M46.86,50.87A112.0,112.0 0 0 1 53.88,44.23L56.24,46.94A108.4,108.4 0 0 0 49.44,53.38Z" fill="#f4f4f4"/>
<path d="M47.84,49.86A112.0,112.0 0 0 1 48.36,49.35L50.90,51.90A108.4,108.4 0 0 0 50.40,52.40Z" fill="#000000"/>
<path d="M48.36,49.35A112.0,112.0 0 0 1 49.13,48.59L51.64,51.17A108.4,108.4 0 0 0 50.90,51.90Z" fill="#000000"/>
<path d="M49.13,48.59A112.0,112.0 0 0 1 49.77,47.97L52.26,50.57A108.4,108.4 0 0 0 51.64,51.17Z" fill="#d9d9d9"/>
<path d="M49.77,47.97A112.0,112.0 0 0 1 50.79,47.01L53.25,49.63A108.4,108.4 0 0 0 52.26,50.57Z" fill="#d9d9d9"/>
<path d="M53.56,44.50A112.0,112.0 0 0 1 53.88,44.23L56.24,46.94A108.4,108.4 0 0 0 55.93,47.21Z" fill="#000000"/>
<path d="M48.12,49.59A112.0,112.0 0 0 1 49.09,48.63L51.61,51.20A108.4,108.4 0 0 0 50.67,52.13Z" fill="#e8262b"/>
<path d="M46.86,50.87A112.0,112.0 0 0 1 53.88,44.23L56.24,46.94A108.4,108.4 0 0 0 49.44,53.38Z" fill="none" stroke="#000" stroke-width="0.55"/>
<path d="M44.56,48.64A115.2,115.2 0 0 1 51.78,41.81" fill="none" stroke="#000" stroke-width="0.6"/>
<line x1="44.56" y1="48.64" x2="43.05" y2="47.18" stroke="#000" stroke-width="0.5"/>
<text x="43.78" y="43.75" transform="rotate(-44.5 43.78 43.75)" font-size="3.3" text-anchor="middle" dominant-baseline="central" fill="#000" stroke="#000" stroke-width="0.18">0Mb</text>
<line x1="47.32" y1="45.89" x2="46.42" y2="44.95" stroke="#000" stroke-width="0.5"/>
<line x1="50.17" y1="43.23" x2="49.30" y2="42.26" stroke="#000" stroke-width="0.5"/>
<text x="41.63" y="38.32" transform="rotate(-43.4 41.63 38.32)" font-size="7.1" text-anchor="middle" dominant-baseline="central" fill="#000" stroke="#000" stroke-width="0.12">21</text>
<path d="M86.51,80.13L86.45,80.05L86.87,79.71L86.87,79.71L87.29,79.36L87.29,79.36L87.71,79.02L77.00,65.55L77.54,65.12L78.42,66.25L78.96,65.84L77.73,64.24L78.28,63.81L72.91,56.69L73.52,56.23L76.33,60.01L76.92,59.58L81.80,66.29L82.34,65.91L80.60,63.48L81.16,63.08L72.90,51.32L73.57,50.86L91.26,76.52A63.5,63.5 0 0 0 86.51,80.13Z" fill="#0a538f"/>
<path d="M79.50,71.76A74.42051282051283,74.42051282051283 0 0 1 85.06,67.53" fill="none" stroke="#9a9a9a" stroke-width="0.5" stroke-dasharray="2,1.8"/>
<path d="M72.55,63.47A85.24102564102564,85.24102564102564 0 0 1 78.92,58.62" fill="none" stroke="#9a9a9a" stroke-width="0.5" stroke-dasharray="2,1.8"/>
<path d="M65.60,55.17A96.06153846153846,96.06153846153846 0 0 1 72.78,49.71" fill="none" stroke="#9a9a9a" stroke-width="0.5" stroke-dasharray="2,1.8"/>
<line x1="91.32" y1="77.57" x2="66.49" y2="42.22" stroke="#ee2a2e" stroke-width="1.0"/>
<path d="M59.35,47.71A105.8,105.8 0 0 1 67.25,41.69L91.77,77.26A62.6,62.6 0 0 0 87.09,80.82Z" fill="none" stroke="#1a1a1a" stroke-width="0.6"/>
<path d="M55.36,42.96A112.0,112.0 0 0 1 63.73,36.59L65.77,39.55A108.4,108.4 0 0 0 57.68,45.72Z" fill="#f4f4f4"/>
<path d="M56.17,42.28A112.0,112.0 0 0 1 56.86,41.73L59.12,44.52A108.4,108.4 0 0 0 58.46,45.06Z" fill="#b0b0b0"/>
<path d="M58.70,40.27A112.0,112.0 0 0 1 59.51,39.65L61.69,42.51A108.4,108.4 0 0 0 60.90,43.12Z" fill="#d9d9d9"/>
<path d="M59.51,39.65A112.0,112.0 0 0 1 60.65,38.79L62.79,41.68A108.4,108.4 0 0 0 61.69,42.51Z" fill="#b0b0b0"/>
<path d="M60.65,38.79A112.0,112.0 0 0 1 61.67,38.04L63.78,40.96A108.4,108.4 0 0 0 62.79,41.68Z" fill="#b0b0b0"/>
<path d="M61.67,38.04A112.0,112.0 0 0 1 62.38,37.53L64.47,40.47A108.4,108.4 0 0 0 63.78,40.96Z" fill="#000000"/>
<path d="M62.38,37.53A112.0,112.0 0 0 1 63.35,36.86L65.40,39.81A108.4,108.4 0 0 0 64.47,40.47Z" fill="#b0b0b0"/>
<path d="M57.24,41.42A112.0,112.0 0 0 1 58.31,40.57L60.53,43.41A108.4,108.4 0 0 0 59.49,44.23Z" fill="#e8262b"/>
<path d="M55.36,42.96A112.0,112.0 0 0 1 63.73,36.59L65.77,39.55A108.4,108.4 0 0 0 57.68,45.72Z" fill="none" stroke="#000" stroke-width="0.55"/>
<path d="M53.31,40.50A115.2,115.2 0 0 1 61.91,33.95" fill="none" stroke="#000" stroke-width="0.6"/>
<line x1="53.31" y1="40.50" x2="51.96" y2="38.89" stroke="#000" stroke-width="0.5"/>
<text x="53.04" y="35.56" transform="rotate(-38.5 53.04 35.56)" font-size="3.3" text-anchor="middle" dominant-baseline="central" fill="#000" stroke="#000" stroke-width="0.18">0Mb</text>
<line x1="56.34" y1="38.05" x2="55.54" y2="37.03" stroke="#000" stroke-width="0.5"/>
<line x1="59.45" y1="35.70" x2="58.69" y2="34.65" stroke="#000" stroke-width="0.5"/>
<text x="51.84" y="29.65" transform="rotate(-37.3 51.84 29.65)" font-size="7.1" text-anchor="middle" dominant-baseline="central" fill="#000" stroke="#000" stroke-width="0.12">22</text>
<path d="M92.18,75.90L91.45,74.80L91.90,74.51L91.04,73.19L91.50,72.90L91.29,72.57L91.75,72.28L91.30,71.56L91.78,71.27L91.92,71.51L92.40,71.22L86.35,61.23L86.90,60.90L87.68,62.21L88.23,61.89L92.78,69.68L93.27,69.40L91.14,65.67L91.66,65.37L93.55,68.73L94.04,68.46L95.53,71.15L96.00,70.89L92.77,64.90L93.29,64.62L94.33,66.58L94.85,66.31L95.26,67.11L95.77,66.85L95.26,65.85L95.78,65.58L94.11,62.23L94.66,61.96L93.85,60.31L94.42,60.04L91.62,54.18L92.23,53.88L96.70,63.42L97.24,63.17L96.62,61.82L97.17,61.57L95.54,57.93L96.12,57.67L96.86,59.36L97.43,59.11L97.66,59.62L98.23,59.38L96.34,54.88L96.95,54.62L94.61,48.90L95.27,48.63L97.32,53.78L97.94,53.54L99.76,58.18L100.34,57.96L99.20,54.96L99.81,54.73L99.03,52.63L99.66,52.40L99.55,52.10L100.18,51.87L98.40,46.84L99.08,46.60L100.79,51.58L101.43,51.37L101.31,51.02L101.95,50.81L102.06,51.13L102.70,50.92L100.05,42.54L100.76,42.32L108.67,68.09A63.5,63.5 0 0 0 92.18,75.90Z" fill="#0a538f"/>
<path d="M86.14,66.80A74.42051282051283,74.42051282051283 0 0 1 105.47,57.65" fill="none" stroke="#9a9a9a" stroke-width="0.5" stroke-dasharray="2,1.8"/>
<path d="M80.15,57.79A85.24102564102564,85.24102564102564 0 0 1 102.29,47.31" fill="none" stroke="#9a9a9a" stroke-width="0.5" stroke-dasharray="2,1.8"/>
<path d="M74.17,48.77A96.06153846153846,96.06153846153846 0 0 1 99.12,36.97" fill="none" stroke="#9a9a9a" stroke-width="0.5" stroke-dasharray="2,1.8"/>
<path d="M68.78,40.66A105.8,105.8 0 0 1 96.26,27.66L108.94,68.95A62.6,62.6 0 0 0 92.67,76.65Z" fill="none" stroke="#1a1a1a" stroke-width="0.6"/>
<path d="M65.35,35.49A112.0,112.0 0 0 1 94.44,21.73L95.50,25.17A108.4,108.4 0 0 0 67.34,38.49Z" fill="#f4f4f4"/>
<path d="M65.35,35.49A112.0,112.0 0 0 1 65.84,35.17L67.81,38.18A108.4,108.4 0 0 0 67.34,38.49Z" fill="#7f7f7f"/>
<path d="M68.11,33.72A112.0,112.0 0 0 1 68.90,33.23L70.78,36.30A108.4,108.4 0 0 0 70.01,36.77Z" fill="#d9d9d9"/>
<path d="M71.10,31.92A112.0,112.0 0 0 1 71.73,31.56L73.52,34.68A108.4,108.4 0 0 0 72.91,35.03Z" fill="#b0b0b0"/>
<path d="M74.48,30.04A112.0,112.0 0 0 1 75.63,29.43L77.29,32.63A108.4,108.4 0 0 0 76.17,33.21Z" fill="#7f7f7f"/>
<path d="M77.64,28.41A112.0,112.0 0 0 1 78.53,27.98L80.10,31.22A108.4,108.4 0 0 0 79.24,31.64Z" fill="#d9d9d9"/>
<path d="M78.53,27.98A112.0,112.0 0 0 1 79.05,27.73L80.60,30.98A108.4,108.4 0 0 0 80.10,31.22Z" fill="#b0b0b0"/>
<path d="M79.05,27.73A112.0,112.0 0 0 1 80.13,27.22L81.64,30.48A108.4,108.4 0 0 0 80.60,30.98Z" fill="#d9d9d9"/>
<path d="M80.13,27.22A112.0,112.0 0 0 1 80.93,26.85L82.43,30.12A108.4,108.4 0 0 0 81.64,30.48Z" fill="#d9d9d9"/>
<path d="M81.91,26.41A112.0,112.0 0 0 1 83.12,25.88L84.54,29.19A108.4,108.4 0 0 0 83.37,29.70Z" fill="#000000"/>
<path d="M83.12,25.88A112.0,112.0 0 0 1 84.29,25.39L85.67,28.71A108.4,108.4 0 0 0 84.54,29.19Z" fill="#000000"/>
<path d="M84.29,25.39A112.0,112.0 0 0 1 85.05,25.07L86.41,28.41A108.4,108.4 0 0 0 85.67,28.71Z" fill="#000000"/>
<path d="M85.05,25.07A112.0,112.0 0 0 1 85.59,24.86L86.93,28.20A108.4,108.4 0 0 0 86.41,28.41Z" fill="#d9d9d9"/>
<path d="M85.59,24.86A112.0,112.0 0 0 1 86.19,24.62L87.51,27.97A108.4,108.4 0 0 0 86.93,28.20Z" fill="#d9d9d9"/>
<path d="M86.19,24.62A112.0,112.0 0 0 1 87.26,24.20L88.55,27.56A108.4,108.4 0 0 0 87.51,27.97Z" fill="#b0b0b0"/>
<path d="M88.14,23.87A112.0,112.0 0 0 1 88.80,23.63L90.03,27.01A108.4,108.4 0 0 0 89.40,27.24Z" fill="#d9d9d9"/>
<path d="M89.53,23.36A112.0,112.0 0 0 1 90.66,22.96L91.84,26.36A108.4,108.4 0 0 0 90.74,26.75Z" fill="#d9d9d9"/>
<path d="M92.65,22.29A112.0,112.0 0 0 1 93.38,22.06L94.47,25.49A108.4,108.4 0 0 0 93.77,25.72Z" fill="#d9d9d9"/>
<path d="M93.38,22.06A112.0,112.0 0 0 1 94.44,21.73L95.50,25.17A108.4,108.4 0 0 0 94.47,25.49Z" fill="#000000"/>
<path d="M75.56,29.47A112.0,112.0 0 0 1 76.77,28.84L78.40,32.06A108.4,108.4 0 0 0 77.22,32.66Z" fill="#e8262b"/>
<path d="M65.35,35.49A112.0,112.0 0 0 1 94.44,21.73L95.50,25.17A108.4,108.4 0 0 0 67.34,38.49Z" fill="none" stroke="#000" stroke-width="0.55"/>
<path d="M63.58,32.83A115.2,115.2 0 0 1 93.50,18.67" fill="none" stroke="#000" stroke-width="0.6"/>
<line x1="63.58" y1="32.83" x2="62.42" y2="31.08" stroke="#000" stroke-width="0.5"/>
<text x="63.86" y="27.88" transform="rotate(-32.2 63.86 27.88)" font-size="3.3" text-anchor="middle" dominant-baseline="central" fill="#000" stroke="#000" stroke-width="0.18">0Mb</text>
<line x1="66.87" y1="30.73" x2="66.18" y2="29.62" stroke="#000" stroke-width="0.5"/>
<line x1="70.22" y1="28.74" x2="69.58" y2="27.61" stroke="#000" stroke-width="0.5"/>
<line x1="73.64" y1="26.86" x2="73.03" y2="25.71" stroke="#000" stroke-width="0.5"/>
<line x1="77.12" y1="25.10" x2="76.56" y2="23.93" stroke="#000" stroke-width="0.5"/>
<line x1="80.66" y1="23.46" x2="79.81" y2="21.54" stroke="#000" stroke-width="0.5"/>
<text x="79.04" y="19.81" transform="rotate(-23.9 79.04 19.81)" font-size="3.3" text-anchor="middle" dominant-baseline="central" fill="#000" stroke="#000" stroke-width="0.18">50Mb</text>
<line x1="84.25" y1="21.94" x2="83.77" y2="20.74" stroke="#000" stroke-width="0.5"/>
<line x1="87.90" y1="20.55" x2="87.45" y2="19.33" stroke="#000" stroke-width="0.5"/>
<line x1="91.58" y1="19.28" x2="91.18" y2="18.04" stroke="#000" stroke-width="0.5"/>
<text x="74.01" y="16.17" transform="rotate(-25.3 74.01 16.17)" font-size="7.1" text-anchor="middle" dominant-baseline="central" fill="#000" stroke="#000" stroke-width="0.12">X</text>
<path d="M109.73,67.78L109.53,67.07L110.03,66.93L102.51,39.96L103.23,39.76L104.97,46.20L105.64,46.02L103.67,38.47L104.40,38.28L107.71,51.36L108.34,51.20L109.96,57.82L110.54,57.68L109.47,53.14L110.08,53.00L111.56,59.52L112.13,59.39L111.72,57.52L112.30,57.40L113.33,62.29L113.87,62.18L112.24,54.12L112.85,54.00L112.42,51.75L113.04,51.63L113.89,56.22L114.48,56.11L116.27,66.26A63.5,63.5 0 0 0 109.73,67.78Z" fill="#0a538f"/>
<path d="M106.71,57.28A74.42051282051283,74.42051282051283 0 0 1 114.38,55.51" fill="none" stroke="#9a9a9a" stroke-width="0.5" stroke-dasharray="2,1.8"/>
<path d="M103.72,46.89A85.24102564102564,85.24102564102564 0 0 1 112.50,44.85" fill="none" stroke="#9a9a9a" stroke-width="0.5" stroke-dasharray="2,1.8"/>
<path d="M100.73,36.49A96.06153846153846,96.06153846153846 0 0 1 110.62,34.20" fill="none" stroke="#9a9a9a" stroke-width="0.5" stroke-dasharray="2,1.8"/>
<path d="M98.03,27.13A105.8,105.8 0 0 1 108.93,24.61L116.43,67.15A62.6,62.6 0 0 0 109.98,68.64Z" fill="none" stroke="#1a1a1a" stroke-width="0.6"/>
<path d="M96.32,21.17A112.0,112.0 0 0 1 107.85,18.50L108.48,22.05A108.4,108.4 0 0 0 97.31,24.63Z" fill="#d8d8d8"/>
<path d="M96.32,21.17A112.0,112.0 0 0 1 97.87,20.74L98.82,24.21A108.4,108.4 0 0 0 97.31,24.63Z" fill="#bcbcbc"/>
<path d="M96.32,21.17A112.0,112.0 0 0 1 107.85,18.50L108.48,22.05A108.4,108.4 0 0 0 97.31,24.63Z" fill="none" stroke="#000" stroke-width="0.55"/>
<path d="M98.58,27.39A105.39999999999999,105.39999999999999 0 0 1 100.54,26.85L111.25,67.67A63.2,63.2 0 0 0 110.08,67.99Z" fill="#8c8c8c"/>
<line x1="110.19" y1="67.55" x2="98.97" y2="27.38" stroke="#333" stroke-width="0.35" stroke-dasharray="0.9,0.9"/>
<line x1="110.61" y1="67.43" x2="99.67" y2="27.19" stroke="#333" stroke-width="0.35" stroke-dasharray="0.9,0.9"/>
<line x1="111.04" y1="67.31" x2="100.38" y2="27.00" stroke="#333" stroke-width="0.35" stroke-dasharray="0.9,0.9"/>
<path d="M95.43,18.10A115.2,115.2 0 0 1 107.30,15.35" fill="none" stroke="#000" stroke-width="0.6"/>
<line x1="95.43" y1="18.10" x2="94.85" y2="16.08" stroke="#000" stroke-width="0.5"/>
<text x="97.19" y="13.47" transform="rotate(-14.6 97.19 13.47)" font-size="3.3" text-anchor="middle" dominant-baseline="central" fill="#000" stroke="#000" stroke-width="0.18">0Mb</text>
<line x1="99.20" y1="17.08" x2="98.88" y2="15.82" stroke="#000" stroke-width="0.5"/>
<line x1="103.00" y1="16.19" x2="102.72" y2="14.92" stroke="#000" stroke-width="0.5"/>
<line x1="106.82" y1="15.43" x2="106.59" y2="14.16" stroke="#000" stroke-width="0.5"/>
<text x="99.21" y="7.41" transform="rotate(-13.0 99.21 7.41)" font-size="7.1" text-anchor="middle" dominant-baseline="central" fill="#000" stroke="#000" stroke-width="0.12">Y</text>
<line x1="125.70" y1="65.20" x2="127.30" y2="65.20" stroke="#333" stroke-width="0.4"/>
<text x="125.10" y="65.20" font-size="2.6" text-anchor="end" dominant-baseline="central" fill="#333">0</text>
<line x1="125.70" y1="54.38" x2="127.30" y2="54.38" stroke="#333" stroke-width="0.4"/>
<text x="125.10" y="54.38" font-size="2.6" text-anchor="end" dominant-baseline="central" fill="#333">50</text>
<line x1="125.70" y1="43.56" x2="127.30" y2="43.56" stroke="#333" stroke-width="0.4"/>
<text x="125.10" y="43.56" font-size="2.6" text-anchor="end" dominant-baseline="central" fill="#333">100</text>
<line x1="125.70" y1="32.74" x2="127.30" y2="32.74" stroke="#333" stroke-width="0.4"/>
<text x="125.10" y="32.74" font-size="2.6" text-anchor="end" dominant-baseline="central" fill="#333">150</text>
</g>
<line x1="296.80" y1="84.40" x2="299.40" y2="84.40" stroke="#333" stroke-width="0.55"/>
<text x="295.20" y="86.25" font-size="5.2" text-anchor="end" fill="#454545" stroke="#454545" stroke-width="0.12" >0</text>
<line x1="300.20" y1="65.82" x2="419.50" y2="65.82" stroke="#c9c9c9" stroke-width="0.55" stroke-dasharray="3.2,2.5"/>
<line x1="296.80" y1="65.82" x2="299.40" y2="65.82" stroke="#333" stroke-width="0.55"/>
<text x="295.20" y="67.67" font-size="5.2" text-anchor="end" fill="#454545" stroke="#454545" stroke-width="0.12" >10</text>
<line x1="300.20" y1="52.97" x2="419.50" y2="52.97" stroke="#c9c9c9" stroke-width="0.55" stroke-dasharray="3.2,2.5"/>
<line x1="296.80" y1="52.97" x2="299.40" y2="52.97" stroke="#333" stroke-width="0.55"/>
<text x="295.20" y="54.82" font-size="5.2" text-anchor="end" fill="#454545" stroke="#454545" stroke-width="0.12" >50</text>
<line x1="300.20" y1="47.40" x2="419.50" y2="47.40" stroke="#c9c9c9" stroke-width="0.55" stroke-dasharray="3.2,2.5"/>
<line x1="296.80" y1="47.40" x2="299.40" y2="47.40" stroke="#333" stroke-width="0.55"/>
<text x="295.20" y="49.25" font-size="5.2" text-anchor="end" fill="#454545" stroke="#454545" stroke-width="0.12" >100</text>
<line x1="300.20" y1="40.04" x2="419.50" y2="40.04" stroke="#c9c9c9" stroke-width="0.55" stroke-dasharray="3.2,2.5"/>
<line x1="296.80" y1="40.04" x2="299.40" y2="40.04" stroke="#333" stroke-width="0.55"/>
<text x="295.20" y="41.89" font-size="5.2" text-anchor="end" fill="#454545" stroke="#454545" stroke-width="0.12" >250</text>
<line x1="300.20" y1="34.47" x2="419.50" y2="34.47" stroke="#c9c9c9" stroke-width="0.55" stroke-dasharray="3.2,2.5"/>
<line x1="296.80" y1="34.47" x2="299.40" y2="34.47" stroke="#333" stroke-width="0.55"/>
<text x="295.20" y="36.32" font-size="5.2" text-anchor="end" fill="#454545" stroke="#454545" stroke-width="0.12" >500</text>
<line x1="300.20" y1="28.90" x2="419.50" y2="28.90" stroke="#c9c9c9" stroke-width="0.55" stroke-dasharray="3.2,2.5"/>
<line x1="296.80" y1="28.90" x2="299.40" y2="28.90" stroke="#333" stroke-width="0.55"/>
<text x="295.20" y="30.75" font-size="5.2" text-anchor="end" fill="#454545" stroke="#454545" stroke-width="0.12" >1000</text>
<line x1="300.20" y1="21.54" x2="419.50" y2="21.54" stroke="#c9c9c9" stroke-width="0.55" stroke-dasharray="3.2,2.5"/>
<line x1="296.80" y1="21.54" x2="299.40" y2="21.54" stroke="#333" stroke-width="0.55"/>
<text x="295.20" y="23.39" font-size="5.2" text-anchor="end" fill="#454545" stroke="#454545" stroke-width="0.12" >2500</text>
<line x1="300.20" y1="15.97" x2="419.50" y2="15.97" stroke="#c9c9c9" stroke-width="0.55" stroke-dasharray="3.2,2.5"/>
<line x1="296.80" y1="15.97" x2="299.40" y2="15.97" stroke="#333" stroke-width="0.55"/>
<text x="295.20" y="17.82" font-size="5.2" text-anchor="end" fill="#454545" stroke="#454545" stroke-width="0.12" >5000</text>
<line x1="300.20" y1="10.40" x2="419.50" y2="10.40" stroke="#c9c9c9" stroke-width="0.55" stroke-dasharray="3.2,2.5"/>
<line x1="296.80" y1="10.40" x2="299.40" y2="10.40" stroke="#333" stroke-width="0.55"/>
<text x="295.20" y="12.25" font-size="5.2" text-anchor="end" fill="#454545" stroke="#454545" stroke-width="0.12" >10000</text>
<line x1="312.50" y1="3.0" x2="312.50" y2="84.40" stroke="#c9c9c9" stroke-width="0.5" stroke-dasharray="0.7,1.5"/>
<line x1="335.60" y1="3.0" x2="335.60" y2="84.40" stroke="#c9c9c9" stroke-width="0.5" stroke-dasharray="0.7,1.5"/>
<line x1="358.70" y1="3.0" x2="358.70" y2="84.40" stroke="#c9c9c9" stroke-width="0.5" stroke-dasharray="0.7,1.5"/>
<line x1="381.80" y1="3.0" x2="381.80" y2="84.40" stroke="#c9c9c9" stroke-width="0.5" stroke-dasharray="0.7,1.5"/>
<line x1="404.90" y1="3.0" x2="404.90" y2="84.40" stroke="#c9c9c9" stroke-width="0.5" stroke-dasharray="0.7,1.5"/>
<rect x="303.30" y="65.82" width="18.40" height="18.58" fill="#0a538f" stroke="#0a1a2a" stroke-width="0.5"/>
<text x="312.50" y="61.92" font-size="4.6" text-anchor="middle" fill="#000" stroke="#000" stroke-width="0.12" >10</text>
<line x1="312.50" y1="88.20" x2="312.50" y2="90.30" stroke="#333" stroke-width="0.55"/>
<text x="314.90" y="94.30" font-size="5.3" text-anchor="end" fill="#454545" stroke="#454545" stroke-width="0.12" transform="rotate(-45 314.90 94.30)">Other</text>
<rect x="326.40" y="39.13" width="18.40" height="45.27" fill="#0a538f" stroke="#0a1a2a" stroke-width="0.5"/>
<text x="335.60" y="35.23" font-size="4.6" text-anchor="middle" fill="#000" stroke="#000" stroke-width="0.12" >280</text>
<line x1="335.60" y1="88.20" x2="335.60" y2="90.30" stroke="#333" stroke-width="0.55"/>
<text x="338.00" y="94.30" font-size="5.3" text-anchor="end" fill="#454545" stroke="#454545" stroke-width="0.12" transform="rotate(-45 338.00 94.30)">Pseudogene</text>
<rect x="349.50" y="25.11" width="18.40" height="59.29" fill="#0a538f" stroke="#0a1a2a" stroke-width="0.5"/>
<text x="358.70" y="21.21" font-size="4.6" text-anchor="middle" fill="#000" stroke="#000" stroke-width="0.12" >1603</text>
<line x1="358.70" y1="88.20" x2="358.70" y2="90.30" stroke="#333" stroke-width="0.55"/>
<text x="361.10" y="94.30" font-size="5.3" text-anchor="end" fill="#454545" stroke="#454545" stroke-width="0.12" transform="rotate(-45 361.10 94.30)">LncRNA</text>
<rect x="372.60" y="18.41" width="18.40" height="65.99" fill="#0a538f" stroke="#0a1a2a" stroke-width="0.5"/>
<text x="381.80" y="14.51" font-size="4.6" text-anchor="middle" fill="#000" stroke="#000" stroke-width="0.12" >3689</text>
<line x1="381.80" y1="88.20" x2="381.80" y2="90.30" stroke="#333" stroke-width="0.55"/>
<text x="384.20" y="94.30" font-size="5.3" text-anchor="end" fill="#454545" stroke="#454545" stroke-width="0.12" transform="rotate(-45 384.20 94.30)">Protein coding</text>
<rect x="395.70" y="12.82" width="18.40" height="71.58" fill="#0a538f" stroke="#0a1a2a" stroke-width="0.5"/>
<text x="404.90" y="8.92" font-size="4.6" text-anchor="middle" fill="#000" stroke="#000" stroke-width="0.12" >7403</text>
<line x1="404.90" y1="88.20" x2="404.90" y2="90.30" stroke="#333" stroke-width="0.55"/>
<text x="407.30" y="94.30" font-size="5.3" text-anchor="end" fill="#454545" stroke="#454545" stroke-width="0.12" transform="rotate(-45 407.30 94.30)">Overlap</text>
<line x1="299.40" y1="84.40" x2="419.50" y2="84.40" stroke="#000" stroke-width="0.6"/>
<text x="270.60" y="45.30" font-size="5.3" text-anchor="middle" stroke="#000" stroke-width="0.1" transform="rotate(-90 270.60 45.30)">Frequency</text>
<text x="277.00" y="45.30" font-size="5.3" text-anchor="middle" stroke="#000" stroke-width="0.1" transform="rotate(-90 277.00 45.30)">(log<tspan font-size="3.6" dy="1.2">10</tspan><tspan dy="-1.2">)</tspan></text>
<line x1="458.20" y1="84.40" x2="460.80" y2="84.40" stroke="#333" stroke-width="0.55"/>
<text x="456.60" y="86.25" font-size="5.2" text-anchor="end" fill="#454545" stroke="#454545" stroke-width="0.12" >0</text>
<line x1="461.60" y1="65.82" x2="580.30" y2="65.82" stroke="#c9c9c9" stroke-width="0.55" stroke-dasharray="3.2,2.5"/>
<line x1="458.20" y1="65.82" x2="460.80" y2="65.82" stroke="#333" stroke-width="0.55"/>
<text x="456.60" y="67.67" font-size="5.2" text-anchor="end" fill="#454545" stroke="#454545" stroke-width="0.12" >10</text>
<line x1="461.60" y1="52.97" x2="580.30" y2="52.97" stroke="#c9c9c9" stroke-width="0.55" stroke-dasharray="3.2,2.5"/>
<line x1="458.20" y1="52.97" x2="460.80" y2="52.97" stroke="#333" stroke-width="0.55"/>
<text x="456.60" y="54.82" font-size="5.2" text-anchor="end" fill="#454545" stroke="#454545" stroke-width="0.12" >50</text>
<line x1="461.60" y1="47.40" x2="580.30" y2="47.40" stroke="#c9c9c9" stroke-width="0.55" stroke-dasharray="3.2,2.5"/>
<line x1="458.20" y1="47.40" x2="460.80" y2="47.40" stroke="#333" stroke-width="0.55"/>
<text x="456.60" y="49.25" font-size="5.2" text-anchor="end" fill="#454545" stroke="#454545" stroke-width="0.12" >100</text>
<line x1="461.60" y1="40.04" x2="580.30" y2="40.04" stroke="#c9c9c9" stroke-width="0.55" stroke-dasharray="3.2,2.5"/>
<line x1="458.20" y1="40.04" x2="460.80" y2="40.04" stroke="#333" stroke-width="0.55"/>
<text x="456.60" y="41.89" font-size="5.2" text-anchor="end" fill="#454545" stroke="#454545" stroke-width="0.12" >250</text>
<line x1="461.60" y1="34.47" x2="580.30" y2="34.47" stroke="#c9c9c9" stroke-width="0.55" stroke-dasharray="3.2,2.5"/>
<line x1="458.20" y1="34.47" x2="460.80" y2="34.47" stroke="#333" stroke-width="0.55"/>
<text x="456.60" y="36.32" font-size="5.2" text-anchor="end" fill="#454545" stroke="#454545" stroke-width="0.12" >500</text>
<line x1="461.60" y1="28.90" x2="580.30" y2="28.90" stroke="#c9c9c9" stroke-width="0.55" stroke-dasharray="3.2,2.5"/>
<line x1="458.20" y1="28.90" x2="460.80" y2="28.90" stroke="#333" stroke-width="0.55"/>
<text x="456.60" y="30.75" font-size="5.2" text-anchor="end" fill="#454545" stroke="#454545" stroke-width="0.12" >1000</text>
<line x1="461.60" y1="21.54" x2="580.30" y2="21.54" stroke="#c9c9c9" stroke-width="0.55" stroke-dasharray="3.2,2.5"/>
<line x1="458.20" y1="21.54" x2="460.80" y2="21.54" stroke="#333" stroke-width="0.55"/>
<text x="456.60" y="23.39" font-size="5.2" text-anchor="end" fill="#454545" stroke="#454545" stroke-width="0.12" >2500</text>
<line x1="461.60" y1="15.97" x2="580.30" y2="15.97" stroke="#c9c9c9" stroke-width="0.55" stroke-dasharray="3.2,2.5"/>
<line x1="458.20" y1="15.97" x2="460.80" y2="15.97" stroke="#333" stroke-width="0.55"/>
<text x="456.60" y="17.82" font-size="5.2" text-anchor="end" fill="#454545" stroke="#454545" stroke-width="0.12" >5000</text>
<line x1="461.60" y1="10.40" x2="580.30" y2="10.40" stroke="#c9c9c9" stroke-width="0.55" stroke-dasharray="3.2,2.5"/>
<line x1="458.20" y1="10.40" x2="460.80" y2="10.40" stroke="#333" stroke-width="0.55"/>
<text x="456.60" y="12.25" font-size="5.2" text-anchor="end" fill="#454545" stroke="#454545" stroke-width="0.12" >10000</text>
<line x1="468.20" y1="3.0" x2="468.20" y2="84.40" stroke="#c9c9c9" stroke-width="0.5" stroke-dasharray="0.7,1.5"/>
<line x1="481.26" y1="3.0" x2="481.26" y2="84.40" stroke="#c9c9c9" stroke-width="0.5" stroke-dasharray="0.7,1.5"/>
<line x1="494.32" y1="3.0" x2="494.32" y2="84.40" stroke="#c9c9c9" stroke-width="0.5" stroke-dasharray="0.7,1.5"/>
<line x1="507.38" y1="3.0" x2="507.38" y2="84.40" stroke="#c9c9c9" stroke-width="0.5" stroke-dasharray="0.7,1.5"/>
<line x1="520.44" y1="3.0" x2="520.44" y2="84.40" stroke="#c9c9c9" stroke-width="0.5" stroke-dasharray="0.7,1.5"/>
<line x1="533.50" y1="3.0" x2="533.50" y2="84.40" stroke="#c9c9c9" stroke-width="0.5" stroke-dasharray="0.7,1.5"/>
<line x1="546.56" y1="3.0" x2="546.56" y2="84.40" stroke="#c9c9c9" stroke-width="0.5" stroke-dasharray="0.7,1.5"/>
<line x1="559.62" y1="3.0" x2="559.62" y2="84.40" stroke="#c9c9c9" stroke-width="0.5" stroke-dasharray="0.7,1.5"/>
<line x1="572.68" y1="3.0" x2="572.68" y2="84.40" stroke="#c9c9c9" stroke-width="0.5" stroke-dasharray="0.7,1.5"/>
<rect x="463.00" y="71.17" width="10.40" height="13.23" fill="#0a538f" stroke="#0a1a2a" stroke-width="0.5"/>
<text x="468.20" y="67.27" font-size="4.6" text-anchor="middle" fill="#000" stroke="#000" stroke-width="0.12" >5</text>
<line x1="468.20" y1="88.20" x2="468.20" y2="90.30" stroke="#333" stroke-width="0.55"/>
<text x="470.60" y="94.30" font-size="5.3" text-anchor="end" fill="#454545" stroke="#454545" stroke-width="0.12" transform="rotate(-45 470.60 94.30)">Downstream (&lt;=300)</text>
<rect x="476.06" y="65.82" width="10.40" height="18.58" fill="#0a538f" stroke="#0a1a2a" stroke-width="0.5"/>
<text x="481.26" y="61.92" font-size="4.6" text-anchor="middle" fill="#000" stroke="#000" stroke-width="0.12" >10</text>
<line x1="481.26" y1="88.20" x2="481.26" y2="90.30" stroke="#333" stroke-width="0.55"/>
<text x="483.66" y="94.30" font-size="5.3" text-anchor="end" fill="#454545" stroke="#454545" stroke-width="0.12" transform="rotate(-45 483.66 94.30)">Promoter</text>
<rect x="489.12" y="56.80" width="10.40" height="27.60" fill="#0a538f" stroke="#0a1a2a" stroke-width="0.5"/>
<text x="494.32" y="52.90" font-size="4.6" text-anchor="middle" fill="#000" stroke="#000" stroke-width="0.12" >31</text>
<line x1="494.32" y1="88.20" x2="494.32" y2="90.30" stroke="#333" stroke-width="0.55"/>
<text x="496.72" y="94.30" font-size="5.3" text-anchor="end" fill="#454545" stroke="#454545" stroke-width="0.12" transform="rotate(-45 496.72 94.30)">5' UTR</text>
<rect x="502.18" y="44.87" width="10.40" height="39.53" fill="#0a538f" stroke="#0a1a2a" stroke-width="0.5"/>
<text x="507.38" y="40.97" font-size="4.6" text-anchor="middle" fill="#000" stroke="#000" stroke-width="0.12" >137</text>
<line x1="507.38" y1="88.20" x2="507.38" y2="90.30" stroke="#333" stroke-width="0.55"/>
<text x="509.78" y="94.30" font-size="5.3" text-anchor="end" fill="#454545" stroke="#454545" stroke-width="0.12" transform="rotate(-45 509.78 94.30)">1st Exon</text>
<rect x="515.24" y="43.78" width="10.40" height="40.62" fill="#0a538f" stroke="#0a1a2a" stroke-width="0.5"/>
<text x="520.44" y="39.88" font-size="4.6" text-anchor="middle" fill="#000" stroke="#000" stroke-width="0.12" >157</text>
<line x1="520.44" y1="88.20" x2="520.44" y2="90.30" stroke="#333" stroke-width="0.55"/>
<text x="522.84" y="94.30" font-size="5.3" text-anchor="end" fill="#454545" stroke="#454545" stroke-width="0.12" transform="rotate(-45 522.84 94.30)">3' UTR</text>
<rect x="528.30" y="42.33" width="10.40" height="42.07" fill="#0a538f" stroke="#0a1a2a" stroke-width="0.5"/>
<text x="533.50" y="38.43" font-size="4.6" text-anchor="middle" fill="#000" stroke="#000" stroke-width="0.12" >188</text>
<line x1="533.50" y1="88.20" x2="533.50" y2="90.30" stroke="#333" stroke-width="0.55"/>
<text x="535.90" y="94.30" font-size="5.3" text-anchor="end" fill="#454545" stroke="#454545" stroke-width="0.12" transform="rotate(-45 535.90 94.30)">Other Exon</text>
<rect x="541.36" y="35.21" width="10.40" height="49.19" fill="#0a538f" stroke="#0a1a2a" stroke-width="0.5"/>
<text x="546.56" y="31.31" font-size="4.6" text-anchor="middle" fill="#000" stroke="#000" stroke-width="0.12" >456</text>
<line x1="546.56" y1="88.20" x2="546.56" y2="90.30" stroke="#333" stroke-width="0.55"/>
<text x="548.96" y="94.30" font-size="5.3" text-anchor="end" fill="#454545" stroke="#454545" stroke-width="0.12" transform="rotate(-45 548.96 94.30)">Distal Intergenic</text>
<rect x="554.42" y="23.52" width="10.40" height="60.88" fill="#0a538f" stroke="#0a1a2a" stroke-width="0.5"/>
<text x="559.62" y="19.62" font-size="4.6" text-anchor="middle" fill="#000" stroke="#000" stroke-width="0.12" >1953</text>
<line x1="559.62" y1="88.20" x2="559.62" y2="90.30" stroke="#333" stroke-width="0.55"/>
<text x="562.02" y="94.30" font-size="5.3" text-anchor="end" fill="#454545" stroke="#454545" stroke-width="0.12" transform="rotate(-45 562.02 94.30)">1st Intron</text>
<rect x="567.48" y="16.84" width="10.40" height="67.56" fill="#0a538f" stroke="#0a1a2a" stroke-width="0.5"/>
<text x="572.68" y="12.94" font-size="4.6" text-anchor="middle" fill="#000" stroke="#000" stroke-width="0.12" >4487</text>
<line x1="572.68" y1="88.20" x2="572.68" y2="90.30" stroke="#333" stroke-width="0.55"/>
<text x="575.08" y="94.30" font-size="5.3" text-anchor="end" fill="#454545" stroke="#454545" stroke-width="0.12" transform="rotate(-45 575.08 94.30)">Other Intron</text>
<line x1="460.80" y1="84.40" x2="580.30" y2="84.40" stroke="#000" stroke-width="0.6"/>
<text x="433.00" y="45.30" font-size="5.3" text-anchor="middle" stroke="#000" stroke-width="0.1" transform="rotate(-90 433.00 45.30)">Frequency</text>
<text x="438.30" y="45.30" font-size="5.3" text-anchor="middle" stroke="#000" stroke-width="0.1" transform="rotate(-90 438.30 45.30)">(log<tspan font-size="3.6" dy="1.2">10</tspan><tspan dy="-1.2">)</tspan></text>
<line x1="615.60" y1="84.40" x2="618.20" y2="84.40" stroke="#333" stroke-width="0.55"/>
<text x="614.00" y="86.25" font-size="5.2" text-anchor="end" fill="#454545" stroke="#454545" stroke-width="0.12" >0</text>
<line x1="619.4" y1="65.15" x2="682.5" y2="65.15" stroke="#c9c9c9" stroke-width="0.55" stroke-dasharray="3.2,2.5"/>
<line x1="615.60" y1="65.15" x2="618.20" y2="65.15" stroke="#333" stroke-width="0.55"/>
<text x="614.00" y="67.00" font-size="5.2" text-anchor="end" fill="#454545" stroke="#454545" stroke-width="0.12" >2500</text>
<line x1="619.4" y1="45.90" x2="682.5" y2="45.90" stroke="#c9c9c9" stroke-width="0.55" stroke-dasharray="3.2,2.5"/>
<line x1="615.60" y1="45.90" x2="618.20" y2="45.90" stroke="#333" stroke-width="0.55"/>
<text x="614.00" y="47.75" font-size="5.2" text-anchor="end" fill="#454545" stroke="#454545" stroke-width="0.12" >5000</text>
<line x1="619.4" y1="26.65" x2="682.5" y2="26.65" stroke="#c9c9c9" stroke-width="0.55" stroke-dasharray="3.2,2.5"/>
<line x1="615.60" y1="26.65" x2="618.20" y2="26.65" stroke="#333" stroke-width="0.55"/>
<text x="614.00" y="28.50" font-size="5.2" text-anchor="end" fill="#454545" stroke="#454545" stroke-width="0.12" >7500</text>
<line x1="619.4" y1="7.40" x2="682.5" y2="7.40" stroke="#c9c9c9" stroke-width="0.55" stroke-dasharray="3.2,2.5"/>
<line x1="615.60" y1="7.40" x2="618.20" y2="7.40" stroke="#333" stroke-width="0.55"/>
<text x="614.00" y="9.25" font-size="5.2" text-anchor="end" fill="#454545" stroke="#454545" stroke-width="0.12" >10000</text>
<rect x="623.90" y="21.67" width="24.50" height="62.73" fill="#0a538f" stroke="#0a1a2a" stroke-width="0.5"/>
<text x="636.15" y="17.77" font-size="4.6" text-anchor="middle" fill="#000" stroke="#000" stroke-width="0.12" >8147</text>
<line x1="636.15" y1="88.20" x2="636.15" y2="90.30" stroke="#333" stroke-width="0.55"/>
<text x="638.55" y="94.30" font-size="5.3" text-anchor="end" fill="#454545" stroke="#454545" stroke-width="0.12" transform="rotate(-45 638.55 94.30)">Overlapping</text>
<rect x="654.80" y="50.32" width="24.50" height="34.08" fill="#0a538f" stroke="#0a1a2a" stroke-width="0.5"/>
<text x="667.05" y="46.42" font-size="4.6" text-anchor="middle" fill="#000" stroke="#000" stroke-width="0.12" >4426</text>
<line x1="667.05" y1="88.20" x2="667.05" y2="90.30" stroke="#333" stroke-width="0.55"/>
<text x="669.45" y="94.30" font-size="5.3" text-anchor="end" fill="#454545" stroke="#454545" stroke-width="0.12" transform="rotate(-45 669.45 94.30)">Non-overlapping</text>
<line x1="618.2" y1="84.40" x2="683" y2="84.40" stroke="#000" stroke-width="0.6"/>
<text x="596.5" y="46.4" font-size="5.3" text-anchor="middle" stroke="#000" stroke-width="0.1" transform="rotate(-90 596.5 46.4)">Frequency</text>
<line x1="285.30" y1="227.40" x2="287.90" y2="227.40" stroke="#333" stroke-width="0.55"/>
<text x="283.70" y="229.25" font-size="5.2" text-anchor="end" fill="#454545" stroke="#454545" stroke-width="0.12" >0</text>
<line x1="289" y1="197.90" x2="681.5" y2="197.90" stroke="#c9c9c9" stroke-width="0.55" stroke-dasharray="3.2,2.5"/>
<line x1="285.30" y1="197.90" x2="287.90" y2="197.90" stroke="#333" stroke-width="0.55"/>
<text x="283.70" y="199.75" font-size="5.2" text-anchor="end" fill="#454545" stroke="#454545" stroke-width="0.12" >200</text>
<line x1="289" y1="168.40" x2="681.5" y2="168.40" stroke="#c9c9c9" stroke-width="0.55" stroke-dasharray="3.2,2.5"/>
<line x1="285.30" y1="168.40" x2="287.90" y2="168.40" stroke="#333" stroke-width="0.55"/>
<text x="283.70" y="170.25" font-size="5.2" text-anchor="end" fill="#454545" stroke="#454545" stroke-width="0.12" >400</text>
<line x1="289" y1="138.90" x2="681.5" y2="138.90" stroke="#c9c9c9" stroke-width="0.55" stroke-dasharray="3.2,2.5"/>
<line x1="285.30" y1="138.90" x2="287.90" y2="138.90" stroke="#333" stroke-width="0.55"/>
<text x="283.70" y="140.75" font-size="5.2" text-anchor="end" fill="#454545" stroke="#454545" stroke-width="0.12" >600</text>
<rect x="289.60" y="152.32" width="10.90" height="75.08" fill="#0a538f" stroke="#0a1a2a" stroke-width="0.5"/>
<text x="295.05" y="148.42" font-size="4.6" text-anchor="middle" fill="#000" stroke="#000" stroke-width="0.12" >509</text>
<line x1="295.05" y1="231.40" x2="295.05" y2="233.20" stroke="#333" stroke-width="0.55"/>
<text x="296.95" y="238.00" font-size="5.3" text-anchor="end" fill="#454545" stroke="#454545" stroke-width="0.12" transform="rotate(-45 296.95 238.00)">MER11C</text>
<rect x="302.71" y="191.71" width="10.90" height="35.69" fill="#0a538f" stroke="#0a1a2a" stroke-width="0.5"/>
<text x="308.16" y="187.81" font-size="4.6" text-anchor="middle" fill="#000" stroke="#000" stroke-width="0.12" >242</text>
<line x1="308.16" y1="231.40" x2="308.16" y2="233.20" stroke="#333" stroke-width="0.55"/>
<text x="310.06" y="238.00" font-size="5.3" text-anchor="end" fill="#454545" stroke="#454545" stroke-width="0.12" transform="rotate(-45 310.06 238.00)">LTR12E</text>
<rect x="315.82" y="192.88" width="10.90" height="34.52" fill="#0a538f" stroke="#0a1a2a" stroke-width="0.5"/>
<text x="321.27" y="188.98" font-size="4.6" text-anchor="middle" fill="#000" stroke="#000" stroke-width="0.12" >234</text>
<line x1="321.27" y1="231.40" x2="321.27" y2="233.20" stroke="#333" stroke-width="0.55"/>
<text x="323.17" y="238.00" font-size="5.3" text-anchor="end" fill="#454545" stroke="#454545" stroke-width="0.12" transform="rotate(-45 323.17 238.00)">LTR12C</text>
<rect x="328.93" y="194.95" width="10.90" height="32.45" fill="#0a538f" stroke="#0a1a2a" stroke-width="0.5"/>
<text x="334.38" y="191.05" font-size="4.6" text-anchor="middle" fill="#000" stroke="#000" stroke-width="0.12" >220</text>
<line x1="334.38" y1="231.40" x2="334.38" y2="233.20" stroke="#333" stroke-width="0.55"/>
<text x="336.28" y="238.00" font-size="5.3" text-anchor="end" fill="#454545" stroke="#454545" stroke-width="0.12" transform="rotate(-45 336.28 238.00)">AluSx</text>
<rect x="342.04" y="199.38" width="10.90" height="28.03" fill="#0a538f" stroke="#0a1a2a" stroke-width="0.5"/>
<text x="347.49" y="195.47" font-size="4.6" text-anchor="middle" fill="#000" stroke="#000" stroke-width="0.12" >190</text>
<line x1="347.49" y1="231.40" x2="347.49" y2="233.20" stroke="#333" stroke-width="0.55"/>
<text x="349.39" y="238.00" font-size="5.3" text-anchor="end" fill="#454545" stroke="#454545" stroke-width="0.12" transform="rotate(-45 349.39 238.00)">AluJb</text>
<rect x="355.15" y="201.29" width="10.90" height="26.11" fill="#0a538f" stroke="#0a1a2a" stroke-width="0.5"/>
<text x="360.60" y="197.39" font-size="4.6" text-anchor="middle" fill="#000" stroke="#000" stroke-width="0.12" >177</text>
<line x1="360.60" y1="231.40" x2="360.60" y2="233.20" stroke="#333" stroke-width="0.55"/>
<text x="362.50" y="238.00" font-size="5.3" text-anchor="end" fill="#454545" stroke="#454545" stroke-width="0.12" transform="rotate(-45 362.50 238.00)">AluSx1</text>
<rect x="368.26" y="201.88" width="10.90" height="25.52" fill="#0a538f" stroke="#0a1a2a" stroke-width="0.5"/>
<text x="373.71" y="197.98" font-size="4.6" text-anchor="middle" fill="#000" stroke="#000" stroke-width="0.12" >173</text>
<line x1="373.71" y1="231.40" x2="373.71" y2="233.20" stroke="#333" stroke-width="0.55"/>
<text x="375.61" y="238.00" font-size="5.3" text-anchor="end" fill="#454545" stroke="#454545" stroke-width="0.12" transform="rotate(-45 375.61 238.00)">(AT)n</text>
<rect x="381.37" y="202.47" width="10.90" height="24.93" fill="#0a538f" stroke="#0a1a2a" stroke-width="0.5"/>
<text x="386.82" y="198.57" font-size="4.6" text-anchor="middle" fill="#000" stroke="#000" stroke-width="0.12" >169</text>
<line x1="386.82" y1="231.40" x2="386.82" y2="233.20" stroke="#333" stroke-width="0.55"/>
<text x="388.72" y="238.00" font-size="5.3" text-anchor="end" fill="#454545" stroke="#454545" stroke-width="0.12" transform="rotate(-45 388.72 238.00)">AluSz</text>
<rect x="394.48" y="203.06" width="10.90" height="24.34" fill="#0a538f" stroke="#0a1a2a" stroke-width="0.5"/>
<text x="399.93" y="199.16" font-size="4.6" text-anchor="middle" fill="#000" stroke="#000" stroke-width="0.12" >165</text>
<line x1="399.93" y1="231.40" x2="399.93" y2="233.20" stroke="#333" stroke-width="0.55"/>
<text x="401.83" y="238.00" font-size="5.3" text-anchor="end" fill="#454545" stroke="#454545" stroke-width="0.12" transform="rotate(-45 401.83 238.00)">(TA)n</text>
<rect x="407.59" y="203.80" width="10.90" height="23.60" fill="#0a538f" stroke="#0a1a2a" stroke-width="0.5"/>
<text x="413.04" y="199.90" font-size="4.6" text-anchor="middle" fill="#000" stroke="#000" stroke-width="0.12" >160</text>
<line x1="413.04" y1="231.40" x2="413.04" y2="233.20" stroke="#333" stroke-width="0.55"/>
<text x="414.94" y="238.00" font-size="5.3" text-anchor="end" fill="#454545" stroke="#454545" stroke-width="0.12" transform="rotate(-45 414.94 238.00)">HERVH-int</text>
<rect x="420.70" y="204.98" width="10.90" height="22.42" fill="#0a538f" stroke="#0a1a2a" stroke-width="0.5"/>
<text x="426.15" y="201.08" font-size="4.6" text-anchor="middle" fill="#000" stroke="#000" stroke-width="0.12" >152</text>
<line x1="426.15" y1="231.40" x2="426.15" y2="233.20" stroke="#333" stroke-width="0.55"/>
<text x="428.05" y="238.00" font-size="5.3" text-anchor="end" fill="#454545" stroke="#454545" stroke-width="0.12" transform="rotate(-45 428.05 238.00)">AluJr</text>
<rect x="433.81" y="205.42" width="10.90" height="21.98" fill="#0a538f" stroke="#0a1a2a" stroke-width="0.5"/>
<text x="439.26" y="201.52" font-size="4.6" text-anchor="middle" fill="#000" stroke="#000" stroke-width="0.12" >149</text>
<line x1="439.26" y1="231.40" x2="439.26" y2="233.20" stroke="#333" stroke-width="0.55"/>
<text x="441.16" y="238.00" font-size="5.3" text-anchor="end" fill="#454545" stroke="#454545" stroke-width="0.12" transform="rotate(-45 441.16 238.00)">MIRb</text>
<rect x="446.92" y="207.49" width="10.90" height="19.91" fill="#0a538f" stroke="#0a1a2a" stroke-width="0.5"/>
<text x="452.37" y="203.59" font-size="4.6" text-anchor="middle" fill="#000" stroke="#000" stroke-width="0.12" >135</text>
<line x1="452.37" y1="231.40" x2="452.37" y2="233.20" stroke="#333" stroke-width="0.55"/>
<text x="454.27" y="238.00" font-size="5.3" text-anchor="end" fill="#454545" stroke="#454545" stroke-width="0.12" transform="rotate(-45 454.27 238.00)">AluY</text>
<rect x="460.03" y="207.78" width="10.90" height="19.62" fill="#0a538f" stroke="#0a1a2a" stroke-width="0.5"/>
<text x="465.48" y="203.88" font-size="4.6" text-anchor="middle" fill="#000" stroke="#000" stroke-width="0.12" >133</text>
<line x1="465.48" y1="231.40" x2="465.48" y2="233.20" stroke="#333" stroke-width="0.55"/>
<text x="467.38" y="238.00" font-size="5.3" text-anchor="end" fill="#454545" stroke="#454545" stroke-width="0.12" transform="rotate(-45 467.38 238.00)">Alu</text>
<rect x="473.14" y="208.08" width="10.90" height="19.32" fill="#0a538f" stroke="#0a1a2a" stroke-width="0.5"/>
<text x="478.59" y="204.18" font-size="4.6" text-anchor="middle" fill="#000" stroke="#000" stroke-width="0.12" >131</text>
<line x1="478.59" y1="231.40" x2="478.59" y2="233.20" stroke="#333" stroke-width="0.55"/>
<text x="480.49" y="238.00" font-size="5.3" text-anchor="end" fill="#454545" stroke="#454545" stroke-width="0.12" transform="rotate(-45 480.49 238.00)">L2a</text>
<rect x="486.25" y="208.67" width="10.90" height="18.73" fill="#0a538f" stroke="#0a1a2a" stroke-width="0.5"/>
<text x="491.70" y="204.77" font-size="4.6" text-anchor="middle" fill="#000" stroke="#000" stroke-width="0.12" >127</text>
<line x1="491.70" y1="231.40" x2="491.70" y2="233.20" stroke="#333" stroke-width="0.55"/>
<text x="493.60" y="238.00" font-size="5.3" text-anchor="end" fill="#454545" stroke="#454545" stroke-width="0.12" transform="rotate(-45 493.60 238.00)">MIR</text>
<rect x="499.36" y="209.55" width="10.90" height="17.85" fill="#0a538f" stroke="#0a1a2a" stroke-width="0.5"/>
<text x="504.81" y="205.65" font-size="4.6" text-anchor="middle" fill="#000" stroke="#000" stroke-width="0.12" >121</text>
<line x1="504.81" y1="231.40" x2="504.81" y2="233.20" stroke="#333" stroke-width="0.55"/>
<text x="506.71" y="238.00" font-size="5.3" text-anchor="end" fill="#454545" stroke="#454545" stroke-width="0.12" transform="rotate(-45 506.71 238.00)">AluSx3</text>
<rect x="512.47" y="210.59" width="10.90" height="16.81" fill="#0a538f" stroke="#0a1a2a" stroke-width="0.5"/>
<text x="517.92" y="206.69" font-size="4.6" text-anchor="middle" fill="#000" stroke="#000" stroke-width="0.12" >114</text>
<line x1="517.92" y1="231.40" x2="517.92" y2="233.20" stroke="#333" stroke-width="0.55"/>
<text x="519.82" y="238.00" font-size="5.3" text-anchor="end" fill="#454545" stroke="#454545" stroke-width="0.12" transform="rotate(-45 519.82 238.00)">AluSp</text>
<rect x="525.58" y="210.59" width="10.90" height="16.81" fill="#0a538f" stroke="#0a1a2a" stroke-width="0.5"/>
<text x="531.03" y="206.69" font-size="4.6" text-anchor="middle" fill="#000" stroke="#000" stroke-width="0.12" >114</text>
<line x1="531.03" y1="231.40" x2="531.03" y2="233.20" stroke="#333" stroke-width="0.55"/>
<text x="532.93" y="238.00" font-size="5.3" text-anchor="end" fill="#454545" stroke="#454545" stroke-width="0.12" transform="rotate(-45 532.93 238.00)">THE1C-int</text>
<rect x="538.69" y="210.73" width="10.90" height="16.67" fill="#0a538f" stroke="#0a1a2a" stroke-width="0.5"/>
<text x="544.14" y="206.83" font-size="4.6" text-anchor="middle" fill="#000" stroke="#000" stroke-width="0.12" >113</text>
<line x1="544.14" y1="231.40" x2="544.14" y2="233.20" stroke="#333" stroke-width="0.55"/>
<text x="546.04" y="238.00" font-size="5.3" text-anchor="end" fill="#454545" stroke="#454545" stroke-width="0.12" transform="rotate(-45 546.04 238.00)">LTR7</text>
<rect x="551.80" y="212.36" width="10.90" height="15.04" fill="#0a538f" stroke="#0a1a2a" stroke-width="0.5"/>
<text x="557.25" y="208.46" font-size="4.6" text-anchor="middle" fill="#000" stroke="#000" stroke-width="0.12" >102</text>
<line x1="557.25" y1="231.40" x2="557.25" y2="233.20" stroke="#333" stroke-width="0.55"/>
<text x="559.15" y="238.00" font-size="5.3" text-anchor="end" fill="#454545" stroke="#454545" stroke-width="0.12" transform="rotate(-45 559.15 238.00)">L2c</text>
<rect x="564.91" y="213.98" width="10.90" height="13.42" fill="#0a538f" stroke="#0a1a2a" stroke-width="0.5"/>
<text x="570.36" y="210.08" font-size="4.6" text-anchor="middle" fill="#000" stroke="#000" stroke-width="0.12" >91</text>
<line x1="570.36" y1="231.40" x2="570.36" y2="233.20" stroke="#333" stroke-width="0.55"/>
<text x="572.26" y="238.00" font-size="5.3" text-anchor="end" fill="#454545" stroke="#454545" stroke-width="0.12" transform="rotate(-45 572.26 238.00)">AluJo</text>
<rect x="578.02" y="214.12" width="10.90" height="13.28" fill="#0a538f" stroke="#0a1a2a" stroke-width="0.5"/>
<text x="583.47" y="210.22" font-size="4.6" text-anchor="middle" fill="#000" stroke="#000" stroke-width="0.12" >90</text>
<line x1="583.47" y1="231.40" x2="583.47" y2="233.20" stroke="#333" stroke-width="0.55"/>
<text x="585.37" y="238.00" font-size="5.3" text-anchor="end" fill="#454545" stroke="#454545" stroke-width="0.12" transform="rotate(-45 585.37 238.00)">MER52A</text>
<rect x="591.13" y="214.42" width="10.90" height="12.98" fill="#0a538f" stroke="#0a1a2a" stroke-width="0.5"/>
<text x="596.58" y="210.52" font-size="4.6" text-anchor="middle" fill="#000" stroke="#000" stroke-width="0.12" >88</text>
<line x1="596.58" y1="231.40" x2="596.58" y2="233.20" stroke="#333" stroke-width="0.55"/>
<text x="598.48" y="238.00" font-size="5.3" text-anchor="end" fill="#454545" stroke="#454545" stroke-width="0.12" transform="rotate(-45 598.48 238.00)">AluSq2</text>
<rect x="604.24" y="214.42" width="10.90" height="12.98" fill="#0a538f" stroke="#0a1a2a" stroke-width="0.5"/>
<text x="609.69" y="210.52" font-size="4.6" text-anchor="middle" fill="#000" stroke="#000" stroke-width="0.12" >88</text>
<line x1="609.69" y1="231.40" x2="609.69" y2="233.20" stroke="#333" stroke-width="0.55"/>
<text x="611.59" y="238.00" font-size="5.3" text-anchor="end" fill="#454545" stroke="#454545" stroke-width="0.12" transform="rotate(-45 611.59 238.00)">MER11A</text>
<rect x="617.35" y="214.57" width="10.90" height="12.83" fill="#0a538f" stroke="#0a1a2a" stroke-width="0.5"/>
<text x="622.80" y="210.67" font-size="4.6" text-anchor="middle" fill="#000" stroke="#000" stroke-width="0.12" >87</text>
<line x1="622.80" y1="231.40" x2="622.80" y2="233.20" stroke="#333" stroke-width="0.55"/>
<text x="624.70" y="238.00" font-size="5.3" text-anchor="end" fill="#454545" stroke="#454545" stroke-width="0.12" transform="rotate(-45 624.70 238.00)">AluSc</text>
<rect x="630.46" y="214.86" width="10.90" height="12.54" fill="#0a538f" stroke="#0a1a2a" stroke-width="0.5"/>
<text x="635.91" y="210.96" font-size="4.6" text-anchor="middle" fill="#000" stroke="#000" stroke-width="0.12" >85</text>
<line x1="635.91" y1="231.40" x2="635.91" y2="233.20" stroke="#333" stroke-width="0.55"/>
<text x="637.81" y="238.00" font-size="5.3" text-anchor="end" fill="#454545" stroke="#454545" stroke-width="0.12" transform="rotate(-45 637.81 238.00)">L1PB1</text>
<rect x="643.57" y="215.16" width="10.90" height="12.24" fill="#0a538f" stroke="#0a1a2a" stroke-width="0.5"/>
<text x="649.02" y="211.26" font-size="4.6" text-anchor="middle" fill="#000" stroke="#000" stroke-width="0.12" >83</text>
<line x1="649.02" y1="231.40" x2="649.02" y2="233.20" stroke="#333" stroke-width="0.55"/>
<text x="650.92" y="238.00" font-size="5.3" text-anchor="end" fill="#454545" stroke="#454545" stroke-width="0.12" transform="rotate(-45 650.92 238.00)">THE1B-int</text>
<rect x="656.68" y="216.19" width="10.90" height="11.21" fill="#0a538f" stroke="#0a1a2a" stroke-width="0.5"/>
<text x="662.13" y="212.29" font-size="4.6" text-anchor="middle" fill="#000" stroke="#000" stroke-width="0.12" >76</text>
<line x1="662.13" y1="231.40" x2="662.13" y2="233.20" stroke="#333" stroke-width="0.55"/>
<text x="664.03" y="238.00" font-size="5.3" text-anchor="end" fill="#454545" stroke="#454545" stroke-width="0.12" transform="rotate(-45 664.03 238.00)">A-rich</text>
<rect x="669.79" y="216.34" width="10.90" height="11.06" fill="#0a538f" stroke="#0a1a2a" stroke-width="0.5"/>
<text x="675.24" y="212.44" font-size="4.6" text-anchor="middle" fill="#000" stroke="#000" stroke-width="0.12" >75</text>
<line x1="675.24" y1="231.40" x2="675.24" y2="233.20" stroke="#333" stroke-width="0.55"/>
<text x="677.14" y="238.00" font-size="5.3" text-anchor="end" fill="#454545" stroke="#454545" stroke-width="0.12" transform="rotate(-45 677.14 238.00)">LTR12</text>
<line x1="287.9" y1="227.40" x2="682" y2="227.40" stroke="#000" stroke-width="0.6"/>
<text x="271.6" y="183.1" font-size="5.3" text-anchor="middle" stroke="#000" stroke-width="0.1" transform="rotate(-90 271.6 183.1)">Frequency</text>
<text x="485.00" y="264.00" font-size="6.6" text-anchor="middle" fill="#111" stroke="#111" stroke-width="0.12" >Repeat Family</text>
<text x="3.6" y="6.7" font-size="10" font-weight="bold" fill="#000">a</text>
<text x="261.6" y="7.4" font-size="10" font-weight="bold" fill="#000">b</text>
<text x="424.3" y="7.4" font-size="10" font-weight="bold" fill="#000">c</text>
<text x="586.6" y="7.4" font-size="10" font-weight="bold" fill="#000">d</text>
<text x="261.8" y="137.0" font-size="10" font-weight="bold" fill="#000">e</text>
</svg></body></html>
